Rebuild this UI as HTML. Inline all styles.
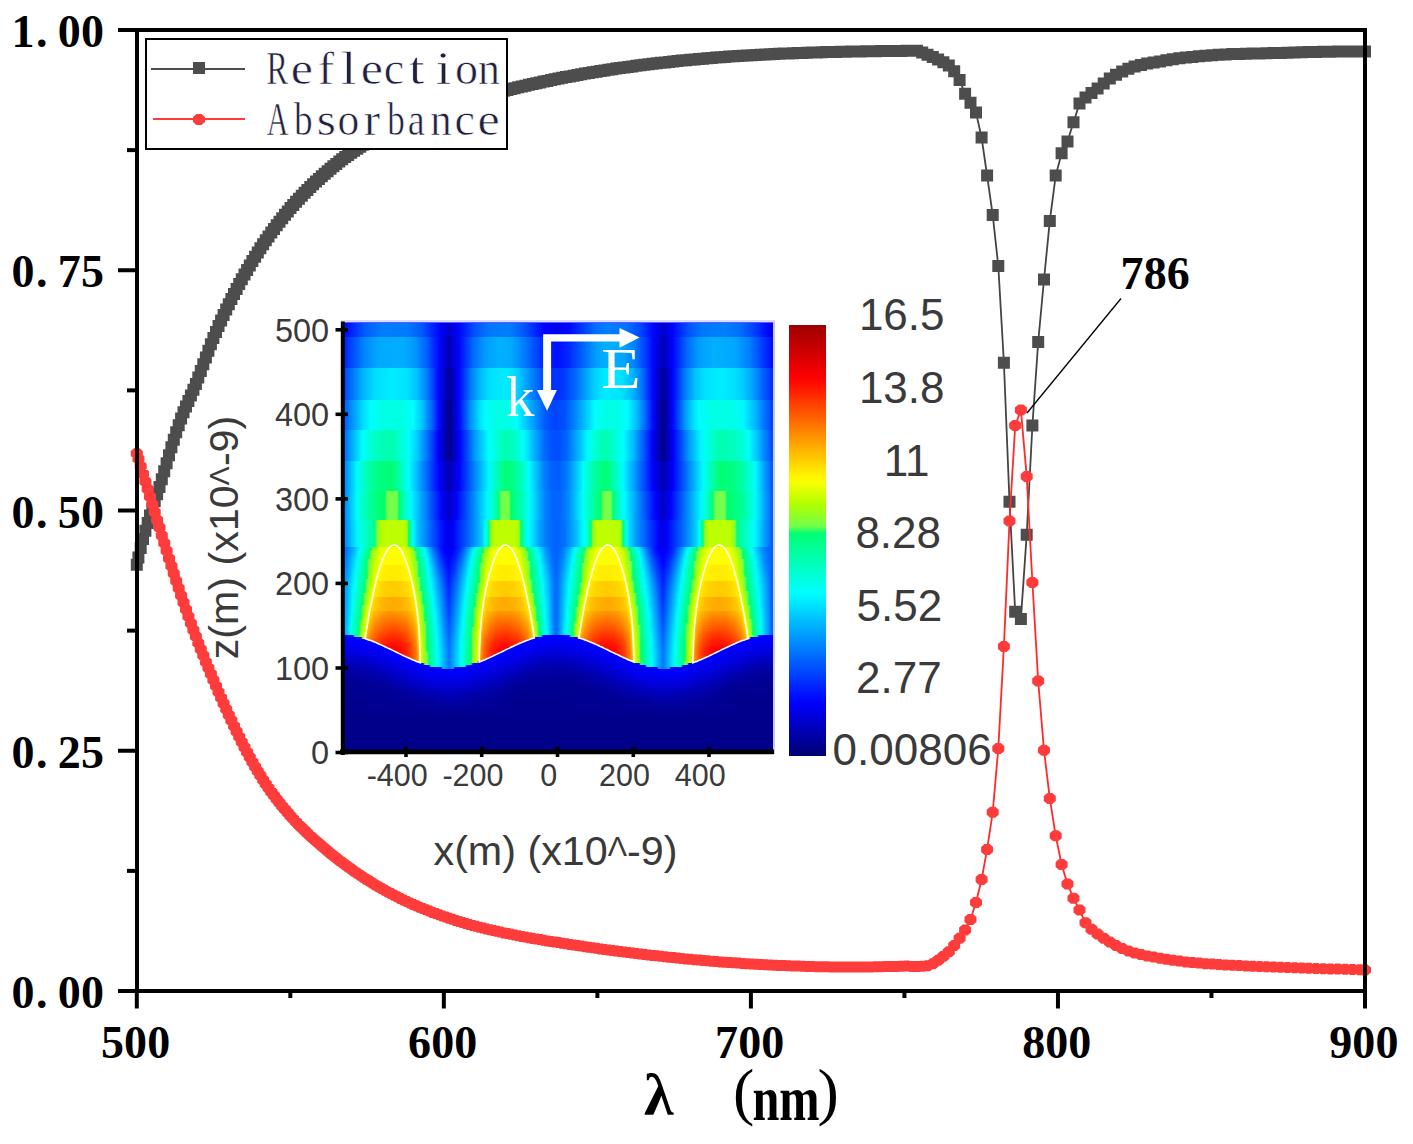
<!DOCTYPE html><html><head><meta charset="utf-8"><style>
*{margin:0;padding:0}
html,body{width:1413px;height:1144px;overflow:hidden;background:#fff}
svg{position:absolute;left:0;top:0}
.tk{font-family:"Liberation Serif",serif;font-weight:bold;font-size:46px;fill:#000}
.lg{font-family:"Liberation Serif",serif;font-size:46px;fill:#202040;stroke:#fff;stroke-width:0.6px}
.ttl{font-family:"Liberation Serif",serif;font-weight:bold;font-size:60px;fill:#000}
.par{font-family:"Liberation Serif",serif;font-size:64px;fill:#000}
.nm{font-family:"Liberation Serif",serif;font-weight:bold;font-size:64px;fill:#000}
.ke{font-family:"Liberation Serif",serif;font-size:57px;fill:#fff}
.il{font-family:"Liberation Sans",sans-serif;font-size:32.5px;fill:#3a3a3a}
.ix{font-family:"Liberation Sans",sans-serif;font-size:30.5px;fill:#3a3a3a}
.it{font-family:"Liberation Sans",sans-serif;font-size:40px;fill:#3a3a3a}
.cl{font-family:"Liberation Sans",sans-serif;font-size:44px;fill:#3a3a3a}
#hm{position:absolute;left:341px;top:322px;width:432px;height:432px;overflow:hidden}
#hm div{width:432px}
</style></head><body><svg width="1413" height="1144" viewBox="0 0 1413 1144"><path d="M136.8 564.8 L138.4 557.5 L140.7 547.9 L143.0 539.0 L145.4 530.8 L147.7 523.0 L150.0 515.6 L152.4 508.4 L154.7 501.3 L157.1 494.2 L159.5 486.9 L161.8 479.2 L164.2 471.3 L166.6 463.3 L169.0 455.3 L171.4 447.3 L173.8 439.7 L176.2 432.3 L178.7 425.2 L181.1 418.5 L183.5 412.3 L186.0 406.5 L188.4 400.9 L190.9 395.4 L193.4 389.7 L195.9 383.9 L198.3 377.6 L200.8 371.0 L203.3 364.3 L205.9 357.5 L208.4 350.8 L210.9 344.2 L213.4 337.9 L216.0 331.9 L218.5 326.0 L221.1 320.4 L223.6 314.9 L226.2 309.5 L228.8 304.2 L231.4 299.0 L234.0 293.9 L236.6 288.9 L239.2 284.0 L241.8 279.2 L244.5 274.5 L247.1 269.9 L249.8 265.4 L252.4 261.0 L255.1 256.7 L257.8 252.4 L260.4 248.3 L263.1 244.2 L265.8 240.3 L268.5 236.4 L271.3 232.6 L274.0 228.9 L276.7 225.2 L279.5 221.7 L282.2 218.2 L285.0 214.8 L287.8 211.4 L290.5 208.1 L293.3 204.9 L296.1 201.8 L298.9 198.7 L301.8 195.7 L304.6 192.8 L307.4 189.9 L310.3 187.1 L313.1 184.3 L316.0 181.6 L318.9 178.9 L321.8 176.3 L324.7 173.7 L327.6 171.2 L330.5 168.7 L333.4 166.3 L336.3 163.9 L339.3 161.6 L342.2 159.3 L345.2 157.1 L348.2 154.9 L351.2 152.8 L354.1 150.7 L357.2 148.7 L360.2 146.7 L363.2 144.8 L366.2 142.9 L369.3 141.0 L372.3 139.2 L375.4 137.4 L378.5 135.7 L381.6 134.0 L384.7 132.4 L387.8 130.7 L390.9 129.2 L394.0 127.6 L397.2 126.1 L400.3 124.7 L403.5 123.2 L406.7 121.8 L409.9 120.5 L413.1 119.1 L416.3 117.8 L419.5 116.5 L422.7 115.3 L426.0 114.1 L429.2 112.9 L432.5 111.7 L435.8 110.6 L439.1 109.4 L442.4 108.3 L445.7 107.3 L449.0 106.2 L452.4 105.1 L455.7 104.1 L459.1 103.1 L462.5 102.1 L465.8 101.1 L469.2 100.1 L472.7 99.2 L476.1 98.2 L479.5 97.2 L483.0 96.3 L486.4 95.4 L489.9 94.4 L493.4 93.5 L496.9 92.6 L500.4 91.7 L503.9 90.8 L507.5 89.9 L511.0 89.1 L514.6 88.2 L518.2 87.3 L521.8 86.5 L525.4 85.7 L529.0 84.8 L532.7 84.0 L536.3 83.2 L540.0 82.4 L543.6 81.6 L547.3 80.9 L551.0 80.1 L554.8 79.3 L558.5 78.6 L562.2 77.8 L566.0 77.1 L569.8 76.4 L573.6 75.7 L577.4 75.0 L581.2 74.3 L585.0 73.6 L588.9 73.0 L592.7 72.3 L596.6 71.7 L600.5 71.0 L604.4 70.4 L608.4 69.8 L612.3 69.2 L616.3 68.6 L620.2 68.0 L624.2 67.5 L628.2 66.9 L632.2 66.4 L636.3 65.8 L640.3 65.3 L644.4 64.8 L648.5 64.3 L652.6 63.8 L656.7 63.3 L660.8 62.8 L665.0 62.4 L669.1 61.9 L673.3 61.5 L677.5 61.0 L681.7 60.6 L686.0 60.2 L690.2 59.8 L694.5 59.4 L698.8 59.0 L703.1 58.7 L707.4 58.3 L711.8 57.9 L716.1 57.6 L720.5 57.3 L724.9 56.9 L729.3 56.6 L733.7 56.3 L738.2 56.0 L742.6 55.8 L747.1 55.5 L751.6 55.2 L756.2 55.0 L760.7 54.7 L765.3 54.5 L769.9 54.2 L774.5 54.0 L779.1 53.8 L783.7 53.6 L788.4 53.4 L793.1 53.2 L797.8 53.1 L802.5 52.9 L807.2 52.7 L812.0 52.6 L816.8 52.4 L821.6 52.3 L826.4 52.1 L831.2 52.0 L836.1 51.9 L841.0 51.8 L845.9 51.7 L850.8 51.6 L855.8 51.5 L860.8 51.4 L865.8 51.3 L870.8 51.2 L875.8 51.2 L880.9 51.1 L886.0 51.0 L891.1 51.0 L896.2 50.9 L901.4 50.9 L906.5 50.8 L911.7 50.8 L917.0 50.7 L922.2 52.5 L927.5 54.8 L932.8 57.1 L938.1 59.6 L943.4 62.2 L948.8 65.4 L954.2 71.3 L959.6 80.1 L965.1 93.8 L970.5 102.7 L976.0 112.5 L981.6 137.5 L987.1 175.6 L992.7 214.9 L998.3 266.0 L1003.9 362.8 L1009.5 501.8 L1015.2 611.7 L1020.9 618.9 L1026.7 534.7 L1032.4 425.5 L1038.2 342.0 L1044.0 279.5 L1049.8 220.9 L1055.7 175.6 L1061.6 153.3 L1067.5 141.5 L1073.5 122.3 L1079.5 103.4 L1085.5 97.6 L1091.5 93.0 L1097.6 88.5 L1103.7 83.4 L1109.8 78.4 L1116.0 74.7 L1122.2 71.5 L1128.4 68.8 L1134.6 66.5 L1140.9 64.9 L1147.2 63.6 L1153.6 62.4 L1160.0 61.4 L1166.4 60.3 L1172.8 59.2 L1179.3 58.3 L1185.8 57.6 L1192.3 56.9 L1198.9 56.3 L1205.5 55.7 L1212.2 55.2 L1218.8 54.8 L1225.5 54.4 L1232.3 54.1 L1239.1 53.9 L1245.9 53.7 L1252.7 53.5 L1259.6 53.4 L1266.5 53.2 L1273.5 53.1 L1280.5 52.9 L1287.5 52.7 L1294.6 52.5 L1301.7 52.3 L1308.8 52.1 L1316.0 51.9 L1323.2 51.8 L1330.4 51.7 L1337.7 51.6 L1345.1 51.6 L1352.4 51.6 L1359.9 51.5 L1365.0 51.5" fill="none" stroke="#444" stroke-width="1.8"/><path d="M130.8 558.8h12v12h-12zM132.4 551.5h12v12h-12zM134.7 541.9h12v12h-12zM137.0 533.0h12v12h-12zM139.4 524.8h12v12h-12zM141.7 517.0h12v12h-12zM144.0 509.6h12v12h-12zM146.4 502.4h12v12h-12zM148.7 495.3h12v12h-12zM151.1 488.2h12v12h-12zM153.5 480.9h12v12h-12zM155.8 473.2h12v12h-12zM158.2 465.3h12v12h-12zM160.6 457.3h12v12h-12zM163.0 449.3h12v12h-12zM165.4 441.3h12v12h-12zM167.8 433.7h12v12h-12zM170.2 426.3h12v12h-12zM172.7 419.2h12v12h-12zM175.1 412.5h12v12h-12zM177.5 406.3h12v12h-12zM180.0 400.5h12v12h-12zM182.4 394.9h12v12h-12zM184.9 389.4h12v12h-12zM187.4 383.7h12v12h-12zM189.9 377.9h12v12h-12zM192.3 371.6h12v12h-12zM194.8 365.0h12v12h-12zM197.3 358.3h12v12h-12zM199.9 351.5h12v12h-12zM202.4 344.8h12v12h-12zM204.9 338.2h12v12h-12zM207.4 331.9h12v12h-12zM210.0 325.9h12v12h-12zM212.5 320.0h12v12h-12zM215.1 314.4h12v12h-12zM217.6 308.9h12v12h-12zM220.2 303.5h12v12h-12zM222.8 298.2h12v12h-12zM225.4 293.0h12v12h-12zM228.0 287.9h12v12h-12zM230.6 282.9h12v12h-12zM233.2 278.0h12v12h-12zM235.8 273.2h12v12h-12zM238.5 268.5h12v12h-12zM241.1 263.9h12v12h-12zM243.8 259.4h12v12h-12zM246.4 255.0h12v12h-12zM249.1 250.7h12v12h-12zM251.8 246.4h12v12h-12zM254.4 242.3h12v12h-12zM257.1 238.2h12v12h-12zM259.8 234.3h12v12h-12zM262.5 230.4h12v12h-12zM265.3 226.6h12v12h-12zM268.0 222.9h12v12h-12zM270.7 219.2h12v12h-12zM273.5 215.7h12v12h-12zM276.2 212.2h12v12h-12zM279.0 208.8h12v12h-12zM281.8 205.4h12v12h-12zM284.5 202.1h12v12h-12zM287.3 198.9h12v12h-12zM290.1 195.8h12v12h-12zM292.9 192.7h12v12h-12zM295.8 189.7h12v12h-12zM298.6 186.8h12v12h-12zM301.4 183.9h12v12h-12zM304.3 181.1h12v12h-12zM307.1 178.3h12v12h-12zM310.0 175.6h12v12h-12zM312.9 172.9h12v12h-12zM315.8 170.3h12v12h-12zM318.7 167.7h12v12h-12zM321.6 165.2h12v12h-12zM324.5 162.7h12v12h-12zM327.4 160.3h12v12h-12zM330.3 157.9h12v12h-12zM333.3 155.6h12v12h-12zM336.2 153.3h12v12h-12zM339.2 151.1h12v12h-12zM342.2 148.9h12v12h-12zM345.2 146.8h12v12h-12zM348.1 144.7h12v12h-12zM351.2 142.7h12v12h-12zM354.2 140.7h12v12h-12zM357.2 138.8h12v12h-12zM360.2 136.9h12v12h-12zM363.3 135.0h12v12h-12zM366.3 133.2h12v12h-12zM369.4 131.4h12v12h-12zM372.5 129.7h12v12h-12zM375.6 128.0h12v12h-12zM378.7 126.4h12v12h-12zM381.8 124.7h12v12h-12zM384.9 123.2h12v12h-12zM388.0 121.6h12v12h-12zM391.2 120.1h12v12h-12zM394.3 118.7h12v12h-12zM397.5 117.2h12v12h-12zM400.7 115.8h12v12h-12zM403.9 114.5h12v12h-12zM407.1 113.1h12v12h-12zM410.3 111.8h12v12h-12zM413.5 110.5h12v12h-12zM416.7 109.3h12v12h-12zM420.0 108.1h12v12h-12zM423.2 106.9h12v12h-12zM426.5 105.7h12v12h-12zM429.8 104.6h12v12h-12zM433.1 103.4h12v12h-12zM436.4 102.3h12v12h-12zM439.7 101.3h12v12h-12zM443.0 100.2h12v12h-12zM446.4 99.1h12v12h-12zM449.7 98.1h12v12h-12zM453.1 97.1h12v12h-12zM456.5 96.1h12v12h-12zM459.8 95.1h12v12h-12zM463.2 94.1h12v12h-12zM466.7 93.2h12v12h-12zM470.1 92.2h12v12h-12zM473.5 91.2h12v12h-12zM477.0 90.3h12v12h-12zM480.4 89.4h12v12h-12zM483.9 88.4h12v12h-12zM487.4 87.5h12v12h-12zM490.9 86.6h12v12h-12zM494.4 85.7h12v12h-12zM497.9 84.8h12v12h-12zM501.5 83.9h12v12h-12zM505.0 83.1h12v12h-12zM508.6 82.2h12v12h-12zM512.2 81.3h12v12h-12zM515.8 80.5h12v12h-12zM519.4 79.7h12v12h-12zM523.0 78.8h12v12h-12zM526.7 78.0h12v12h-12zM530.3 77.2h12v12h-12zM534.0 76.4h12v12h-12zM537.6 75.6h12v12h-12zM541.3 74.9h12v12h-12zM545.0 74.1h12v12h-12zM548.8 73.3h12v12h-12zM552.5 72.6h12v12h-12zM556.2 71.8h12v12h-12zM560.0 71.1h12v12h-12zM563.8 70.4h12v12h-12zM567.6 69.7h12v12h-12zM571.4 69.0h12v12h-12zM575.2 68.3h12v12h-12zM579.0 67.6h12v12h-12zM582.9 67.0h12v12h-12zM586.7 66.3h12v12h-12zM590.6 65.7h12v12h-12zM594.5 65.0h12v12h-12zM598.4 64.4h12v12h-12zM602.4 63.8h12v12h-12zM606.3 63.2h12v12h-12zM610.3 62.6h12v12h-12zM614.2 62.0h12v12h-12zM618.2 61.5h12v12h-12zM622.2 60.9h12v12h-12zM626.2 60.4h12v12h-12zM630.3 59.8h12v12h-12zM634.3 59.3h12v12h-12zM638.4 58.8h12v12h-12zM642.5 58.3h12v12h-12zM646.6 57.8h12v12h-12zM650.7 57.3h12v12h-12zM654.8 56.8h12v12h-12zM659.0 56.4h12v12h-12zM663.1 55.9h12v12h-12zM667.3 55.5h12v12h-12zM671.5 55.0h12v12h-12zM675.7 54.6h12v12h-12zM680.0 54.2h12v12h-12zM684.2 53.8h12v12h-12zM688.5 53.4h12v12h-12zM692.8 53.0h12v12h-12zM697.1 52.7h12v12h-12zM701.4 52.3h12v12h-12zM705.8 51.9h12v12h-12zM710.1 51.6h12v12h-12zM714.5 51.3h12v12h-12zM718.9 50.9h12v12h-12zM723.3 50.6h12v12h-12zM727.7 50.3h12v12h-12zM732.2 50.0h12v12h-12zM736.6 49.8h12v12h-12zM741.1 49.5h12v12h-12zM745.6 49.2h12v12h-12zM750.2 49.0h12v12h-12zM754.7 48.7h12v12h-12zM759.3 48.5h12v12h-12zM763.9 48.2h12v12h-12zM768.5 48.0h12v12h-12zM773.1 47.8h12v12h-12zM777.7 47.6h12v12h-12zM782.4 47.4h12v12h-12zM787.1 47.2h12v12h-12zM791.8 47.1h12v12h-12zM796.5 46.9h12v12h-12zM801.2 46.7h12v12h-12zM806.0 46.6h12v12h-12zM810.8 46.4h12v12h-12zM815.6 46.3h12v12h-12zM820.4 46.1h12v12h-12zM825.2 46.0h12v12h-12zM830.1 45.9h12v12h-12zM835.0 45.8h12v12h-12zM839.9 45.7h12v12h-12zM844.8 45.6h12v12h-12zM849.8 45.5h12v12h-12zM854.8 45.4h12v12h-12zM859.8 45.3h12v12h-12zM864.8 45.2h12v12h-12zM869.8 45.2h12v12h-12zM874.9 45.1h12v12h-12zM880.0 45.0h12v12h-12zM885.1 45.0h12v12h-12zM890.2 44.9h12v12h-12zM895.4 44.9h12v12h-12zM900.5 44.8h12v12h-12zM905.7 44.8h12v12h-12zM911.0 44.7h12v12h-12zM916.2 46.5h12v12h-12zM921.5 48.8h12v12h-12zM926.8 51.1h12v12h-12zM932.1 53.6h12v12h-12zM937.4 56.2h12v12h-12zM942.8 59.4h12v12h-12zM948.2 65.3h12v12h-12zM953.6 74.1h12v12h-12zM959.1 87.8h12v12h-12zM964.5 96.7h12v12h-12zM970.0 106.5h12v12h-12zM975.6 131.5h12v12h-12zM981.1 169.6h12v12h-12zM986.7 208.9h12v12h-12zM992.3 260.0h12v12h-12zM997.9 356.8h12v12h-12zM1003.5 495.8h12v12h-12zM1009.2 605.7h12v12h-12zM1014.9 612.9h12v12h-12zM1020.7 528.7h12v12h-12zM1026.4 419.5h12v12h-12zM1032.2 336.0h12v12h-12zM1038.0 273.5h12v12h-12zM1043.8 214.9h12v12h-12zM1049.7 169.6h12v12h-12zM1055.6 147.3h12v12h-12zM1061.5 135.5h12v12h-12zM1067.5 116.3h12v12h-12zM1073.5 97.4h12v12h-12zM1079.5 91.6h12v12h-12zM1085.5 87.0h12v12h-12zM1091.6 82.5h12v12h-12zM1097.7 77.4h12v12h-12zM1103.8 72.4h12v12h-12zM1110.0 68.7h12v12h-12zM1116.2 65.5h12v12h-12zM1122.4 62.8h12v12h-12zM1128.6 60.5h12v12h-12zM1134.9 58.9h12v12h-12zM1141.2 57.6h12v12h-12zM1147.6 56.4h12v12h-12zM1154.0 55.4h12v12h-12zM1160.4 54.3h12v12h-12zM1166.8 53.2h12v12h-12zM1173.3 52.3h12v12h-12zM1179.8 51.6h12v12h-12zM1186.3 50.9h12v12h-12zM1192.9 50.3h12v12h-12zM1199.5 49.7h12v12h-12zM1206.2 49.2h12v12h-12zM1212.8 48.8h12v12h-12zM1219.5 48.4h12v12h-12zM1226.3 48.1h12v12h-12zM1233.1 47.9h12v12h-12zM1239.9 47.7h12v12h-12zM1246.7 47.5h12v12h-12zM1253.6 47.4h12v12h-12zM1260.5 47.2h12v12h-12zM1267.5 47.1h12v12h-12zM1274.5 46.9h12v12h-12zM1281.5 46.7h12v12h-12zM1288.6 46.5h12v12h-12zM1295.7 46.3h12v12h-12zM1302.8 46.1h12v12h-12zM1310.0 45.9h12v12h-12zM1317.2 45.8h12v12h-12zM1324.4 45.7h12v12h-12zM1331.7 45.6h12v12h-12zM1339.1 45.6h12v12h-12zM1346.4 45.6h12v12h-12zM1353.9 45.5h12v12h-12zM1359.0 45.5h12v12h-12z" fill="#4d4d4d"/><path d="M136.8 453.6 L138.4 458.8 L140.7 466.3 L143.0 473.8 L145.4 481.4 L147.7 489.0 L150.0 496.7 L152.4 504.4 L154.7 512.1 L157.1 519.9 L159.5 527.6 L161.8 535.4 L164.2 543.1 L166.6 550.8 L169.0 558.4 L171.4 566.0 L173.8 573.5 L176.2 580.9 L178.7 588.2 L181.1 595.5 L183.5 602.6 L186.0 609.5 L188.4 616.4 L190.9 623.2 L193.4 629.9 L195.9 636.5 L198.3 642.9 L200.8 649.3 L203.3 655.6 L205.9 661.9 L208.4 668.0 L210.9 674.1 L213.4 680.1 L216.0 686.0 L218.5 691.9 L221.1 697.7 L223.6 703.5 L226.2 709.2 L228.8 714.9 L231.4 720.5 L234.0 726.0 L236.6 731.4 L239.2 736.8 L241.8 742.1 L244.5 747.3 L247.1 752.3 L249.8 757.3 L252.4 762.1 L255.1 766.7 L257.8 771.2 L260.4 775.6 L263.1 779.9 L265.8 784.0 L268.5 788.0 L271.3 791.9 L274.0 795.6 L276.7 799.3 L279.5 802.8 L282.2 806.2 L285.0 809.5 L287.8 812.8 L290.5 815.9 L293.3 819.0 L296.1 822.0 L298.9 824.9 L301.8 827.7 L304.6 830.5 L307.4 833.2 L310.3 835.9 L313.1 838.5 L316.0 841.1 L318.9 843.6 L321.8 846.1 L324.7 848.6 L327.6 851.0 L330.5 853.4 L333.4 855.8 L336.3 858.1 L339.3 860.4 L342.2 862.6 L345.2 864.8 L348.2 867.0 L351.2 869.1 L354.1 871.2 L357.2 873.3 L360.2 875.3 L363.2 877.3 L366.2 879.2 L369.3 881.1 L372.3 883.0 L375.4 884.9 L378.5 886.7 L381.6 888.5 L384.7 890.2 L387.8 891.9 L390.9 893.6 L394.0 895.2 L397.2 896.8 L400.3 898.4 L403.5 899.9 L406.7 901.4 L409.9 902.9 L413.1 904.4 L416.3 905.8 L419.5 907.2 L422.7 908.5 L426.0 909.8 L429.2 911.1 L432.5 912.4 L435.8 913.6 L439.1 914.8 L442.4 916.0 L445.7 917.1 L449.0 918.3 L452.4 919.3 L455.7 920.4 L459.1 921.5 L462.5 922.5 L465.8 923.5 L469.2 924.4 L472.7 925.4 L476.1 926.3 L479.5 927.2 L483.0 928.1 L486.4 928.9 L489.9 929.7 L493.4 930.6 L496.9 931.3 L500.4 932.1 L503.9 932.9 L507.5 933.6 L511.0 934.3 L514.6 935.1 L518.2 935.7 L521.8 936.4 L525.4 937.1 L529.0 937.7 L532.7 938.4 L536.3 939.0 L540.0 939.6 L543.6 940.3 L547.3 940.9 L551.0 941.5 L554.8 942.1 L558.5 942.6 L562.2 943.2 L566.0 943.8 L569.8 944.4 L573.6 945.0 L577.4 945.5 L581.2 946.1 L585.0 946.7 L588.9 947.2 L592.7 947.8 L596.6 948.3 L600.5 948.9 L604.4 949.4 L608.4 949.9 L612.3 950.4 L616.3 951.0 L620.2 951.5 L624.2 952.0 L628.2 952.5 L632.2 953.0 L636.3 953.5 L640.3 954.0 L644.4 954.4 L648.5 954.9 L652.6 955.4 L656.7 955.8 L660.8 956.3 L665.0 956.7 L669.1 957.2 L673.3 957.6 L677.5 958.0 L681.7 958.5 L686.0 958.9 L690.2 959.3 L694.5 959.7 L698.8 960.1 L703.1 960.4 L707.4 960.8 L711.8 961.2 L716.1 961.5 L720.5 961.9 L724.9 962.2 L729.3 962.5 L733.7 962.8 L738.2 963.1 L742.6 963.4 L747.1 963.7 L751.6 964.0 L756.2 964.3 L760.7 964.5 L765.3 964.8 L769.9 965.0 L774.5 965.2 L779.1 965.4 L783.7 965.6 L788.4 965.8 L793.1 966.0 L797.8 966.1 L802.5 966.3 L807.2 966.4 L812.0 966.5 L816.8 966.7 L821.6 966.8 L826.4 966.8 L831.2 966.9 L836.1 967.0 L841.0 967.0 L845.9 967.0 L850.8 967.0 L855.8 967.0 L860.8 967.0 L865.8 967.0 L870.8 966.9 L875.8 966.8 L880.9 966.7 L886.0 966.6 L891.1 966.5 L896.2 966.4 L901.4 966.2 L906.5 966.0 L911.7 966.4 L917.0 966.4 L922.2 966.3 L927.5 965.8 L932.8 963.7 L938.1 960.3 L943.4 956.2 L948.8 951.7 L954.2 945.4 L959.6 938.3 L965.1 929.9 L970.5 919.5 L976.0 902.4 L981.6 879.5 L987.1 849.4 L992.7 812.3 L998.3 748.4 L1003.9 646.5 L1009.5 521.1 L1015.2 425.5 L1020.9 410.1 L1026.7 476.4 L1032.4 582.4 L1038.2 681.0 L1044.0 750.3 L1049.8 798.4 L1055.7 835.8 L1061.6 864.5 L1067.5 883.9 L1073.5 898.3 L1079.5 910.1 L1085.5 922.7 L1091.5 929.3 L1097.6 934.1 L1103.7 938.2 L1109.8 942.0 L1116.0 945.5 L1122.2 948.6 L1128.4 951.1 L1134.6 953.0 L1140.9 954.5 L1147.2 955.9 L1153.6 957.1 L1160.0 958.3 L1166.4 959.3 L1172.8 960.3 L1179.3 961.1 L1185.8 961.9 L1192.3 962.5 L1198.9 963.1 L1205.5 963.7 L1212.2 964.1 L1218.8 964.6 L1225.5 964.9 L1232.3 965.3 L1239.1 965.6 L1245.9 965.9 L1252.7 966.2 L1259.6 966.5 L1266.5 966.8 L1273.5 967.0 L1280.5 967.3 L1287.5 967.6 L1294.6 967.8 L1301.7 968.0 L1308.8 968.2 L1316.0 968.5 L1323.2 968.7 L1330.4 968.9 L1337.7 969.1 L1345.1 969.3 L1352.4 969.5 L1359.9 969.7 L1365.0 969.9" fill="none" stroke="#ff2b2b" stroke-width="1.8"/><path d="M134.3 448.1h5l3.5 3v5l-3.5 3h-5l-3.5-3v-5zM135.9 453.3h5l3.5 3v5l-3.5 3h-5l-3.5-3v-5zM138.2 460.8h5l3.5 3v5l-3.5 3h-5l-3.5-3v-5zM140.5 468.3h5l3.5 3v5l-3.5 3h-5l-3.5-3v-5zM142.9 475.9h5l3.5 3v5l-3.5 3h-5l-3.5-3v-5zM145.2 483.5h5l3.5 3v5l-3.5 3h-5l-3.5-3v-5zM147.5 491.2h5l3.5 3v5l-3.5 3h-5l-3.5-3v-5zM149.9 498.9h5l3.5 3v5l-3.5 3h-5l-3.5-3v-5zM152.2 506.6h5l3.5 3v5l-3.5 3h-5l-3.5-3v-5zM154.6 514.4h5l3.5 3v5l-3.5 3h-5l-3.5-3v-5zM157.0 522.1h5l3.5 3v5l-3.5 3h-5l-3.5-3v-5zM159.3 529.9h5l3.5 3v5l-3.5 3h-5l-3.5-3v-5zM161.7 537.6h5l3.5 3v5l-3.5 3h-5l-3.5-3v-5zM164.1 545.3h5l3.5 3v5l-3.5 3h-5l-3.5-3v-5zM166.5 552.9h5l3.5 3v5l-3.5 3h-5l-3.5-3v-5zM168.9 560.5h5l3.5 3v5l-3.5 3h-5l-3.5-3v-5zM171.3 568.0h5l3.5 3v5l-3.5 3h-5l-3.5-3v-5zM173.7 575.4h5l3.5 3v5l-3.5 3h-5l-3.5-3v-5zM176.2 582.7h5l3.5 3v5l-3.5 3h-5l-3.5-3v-5zM178.6 590.0h5l3.5 3v5l-3.5 3h-5l-3.5-3v-5zM181.0 597.1h5l3.5 3v5l-3.5 3h-5l-3.5-3v-5zM183.5 604.0h5l3.5 3v5l-3.5 3h-5l-3.5-3v-5zM185.9 610.9h5l3.5 3v5l-3.5 3h-5l-3.5-3v-5zM188.4 617.7h5l3.5 3v5l-3.5 3h-5l-3.5-3v-5zM190.9 624.4h5l3.5 3v5l-3.5 3h-5l-3.5-3v-5zM193.4 631.0h5l3.5 3v5l-3.5 3h-5l-3.5-3v-5zM195.8 637.4h5l3.5 3v5l-3.5 3h-5l-3.5-3v-5zM198.3 643.8h5l3.5 3v5l-3.5 3h-5l-3.5-3v-5zM200.8 650.1h5l3.5 3v5l-3.5 3h-5l-3.5-3v-5zM203.4 656.4h5l3.5 3v5l-3.5 3h-5l-3.5-3v-5zM205.9 662.5h5l3.5 3v5l-3.5 3h-5l-3.5-3v-5zM208.4 668.6h5l3.5 3v5l-3.5 3h-5l-3.5-3v-5zM210.9 674.6h5l3.5 3v5l-3.5 3h-5l-3.5-3v-5zM213.5 680.5h5l3.5 3v5l-3.5 3h-5l-3.5-3v-5zM216.0 686.4h5l3.5 3v5l-3.5 3h-5l-3.5-3v-5zM218.6 692.2h5l3.5 3v5l-3.5 3h-5l-3.5-3v-5zM221.1 698.0h5l3.5 3v5l-3.5 3h-5l-3.5-3v-5zM223.7 703.7h5l3.5 3v5l-3.5 3h-5l-3.5-3v-5zM226.3 709.4h5l3.5 3v5l-3.5 3h-5l-3.5-3v-5zM228.9 715.0h5l3.5 3v5l-3.5 3h-5l-3.5-3v-5zM231.5 720.5h5l3.5 3v5l-3.5 3h-5l-3.5-3v-5zM234.1 725.9h5l3.5 3v5l-3.5 3h-5l-3.5-3v-5zM236.7 731.3h5l3.5 3v5l-3.5 3h-5l-3.5-3v-5zM239.3 736.6h5l3.5 3v5l-3.5 3h-5l-3.5-3v-5zM242.0 741.8h5l3.5 3v5l-3.5 3h-5l-3.5-3v-5zM244.6 746.8h5l3.5 3v5l-3.5 3h-5l-3.5-3v-5zM247.3 751.8h5l3.5 3v5l-3.5 3h-5l-3.5-3v-5zM249.9 756.6h5l3.5 3v5l-3.5 3h-5l-3.5-3v-5zM252.6 761.2h5l3.5 3v5l-3.5 3h-5l-3.5-3v-5zM255.3 765.7h5l3.5 3v5l-3.5 3h-5l-3.5-3v-5zM257.9 770.1h5l3.5 3v5l-3.5 3h-5l-3.5-3v-5zM260.6 774.4h5l3.5 3v5l-3.5 3h-5l-3.5-3v-5zM263.3 778.5h5l3.5 3v5l-3.5 3h-5l-3.5-3v-5zM266.0 782.5h5l3.5 3v5l-3.5 3h-5l-3.5-3v-5zM268.8 786.4h5l3.5 3v5l-3.5 3h-5l-3.5-3v-5zM271.5 790.1h5l3.5 3v5l-3.5 3h-5l-3.5-3v-5zM274.2 793.8h5l3.5 3v5l-3.5 3h-5l-3.5-3v-5zM277.0 797.3h5l3.5 3v5l-3.5 3h-5l-3.5-3v-5zM279.7 800.7h5l3.5 3v5l-3.5 3h-5l-3.5-3v-5zM282.5 804.0h5l3.5 3v5l-3.5 3h-5l-3.5-3v-5zM285.3 807.3h5l3.5 3v5l-3.5 3h-5l-3.5-3v-5zM288.0 810.4h5l3.5 3v5l-3.5 3h-5l-3.5-3v-5zM290.8 813.5h5l3.5 3v5l-3.5 3h-5l-3.5-3v-5zM293.6 816.5h5l3.5 3v5l-3.5 3h-5l-3.5-3v-5zM296.4 819.4h5l3.5 3v5l-3.5 3h-5l-3.5-3v-5zM299.3 822.2h5l3.5 3v5l-3.5 3h-5l-3.5-3v-5zM302.1 825.0h5l3.5 3v5l-3.5 3h-5l-3.5-3v-5zM304.9 827.7h5l3.5 3v5l-3.5 3h-5l-3.5-3v-5zM307.8 830.4h5l3.5 3v5l-3.5 3h-5l-3.5-3v-5zM310.6 833.0h5l3.5 3v5l-3.5 3h-5l-3.5-3v-5zM313.5 835.6h5l3.5 3v5l-3.5 3h-5l-3.5-3v-5zM316.4 838.1h5l3.5 3v5l-3.5 3h-5l-3.5-3v-5zM319.3 840.6h5l3.5 3v5l-3.5 3h-5l-3.5-3v-5zM322.2 843.1h5l3.5 3v5l-3.5 3h-5l-3.5-3v-5zM325.1 845.5h5l3.5 3v5l-3.5 3h-5l-3.5-3v-5zM328.0 847.9h5l3.5 3v5l-3.5 3h-5l-3.5-3v-5zM330.9 850.3h5l3.5 3v5l-3.5 3h-5l-3.5-3v-5zM333.8 852.6h5l3.5 3v5l-3.5 3h-5l-3.5-3v-5zM336.8 854.9h5l3.5 3v5l-3.5 3h-5l-3.5-3v-5zM339.7 857.1h5l3.5 3v5l-3.5 3h-5l-3.5-3v-5zM342.7 859.3h5l3.5 3v5l-3.5 3h-5l-3.5-3v-5zM345.7 861.5h5l3.5 3v5l-3.5 3h-5l-3.5-3v-5zM348.7 863.6h5l3.5 3v5l-3.5 3h-5l-3.5-3v-5zM351.6 865.7h5l3.5 3v5l-3.5 3h-5l-3.5-3v-5zM354.7 867.8h5l3.5 3v5l-3.5 3h-5l-3.5-3v-5zM357.7 869.8h5l3.5 3v5l-3.5 3h-5l-3.5-3v-5zM360.7 871.8h5l3.5 3v5l-3.5 3h-5l-3.5-3v-5zM363.7 873.7h5l3.5 3v5l-3.5 3h-5l-3.5-3v-5zM366.8 875.6h5l3.5 3v5l-3.5 3h-5l-3.5-3v-5zM369.8 877.5h5l3.5 3v5l-3.5 3h-5l-3.5-3v-5zM372.9 879.4h5l3.5 3v5l-3.5 3h-5l-3.5-3v-5zM376.0 881.2h5l3.5 3v5l-3.5 3h-5l-3.5-3v-5zM379.1 883.0h5l3.5 3v5l-3.5 3h-5l-3.5-3v-5zM382.2 884.7h5l3.5 3v5l-3.5 3h-5l-3.5-3v-5zM385.3 886.4h5l3.5 3v5l-3.5 3h-5l-3.5-3v-5zM388.4 888.1h5l3.5 3v5l-3.5 3h-5l-3.5-3v-5zM391.5 889.7h5l3.5 3v5l-3.5 3h-5l-3.5-3v-5zM394.7 891.3h5l3.5 3v5l-3.5 3h-5l-3.5-3v-5zM397.8 892.9h5l3.5 3v5l-3.5 3h-5l-3.5-3v-5zM401.0 894.4h5l3.5 3v5l-3.5 3h-5l-3.5-3v-5zM404.2 895.9h5l3.5 3v5l-3.5 3h-5l-3.5-3v-5zM407.4 897.4h5l3.5 3v5l-3.5 3h-5l-3.5-3v-5zM410.6 898.9h5l3.5 3v5l-3.5 3h-5l-3.5-3v-5zM413.8 900.3h5l3.5 3v5l-3.5 3h-5l-3.5-3v-5zM417.0 901.7h5l3.5 3v5l-3.5 3h-5l-3.5-3v-5zM420.2 903.0h5l3.5 3v5l-3.5 3h-5l-3.5-3v-5zM423.5 904.3h5l3.5 3v5l-3.5 3h-5l-3.5-3v-5zM426.7 905.6h5l3.5 3v5l-3.5 3h-5l-3.5-3v-5zM430.0 906.9h5l3.5 3v5l-3.5 3h-5l-3.5-3v-5zM433.3 908.1h5l3.5 3v5l-3.5 3h-5l-3.5-3v-5zM436.6 909.3h5l3.5 3v5l-3.5 3h-5l-3.5-3v-5zM439.9 910.5h5l3.5 3v5l-3.5 3h-5l-3.5-3v-5zM443.2 911.6h5l3.5 3v5l-3.5 3h-5l-3.5-3v-5zM446.5 912.8h5l3.5 3v5l-3.5 3h-5l-3.5-3v-5zM449.9 913.8h5l3.5 3v5l-3.5 3h-5l-3.5-3v-5zM453.2 914.9h5l3.5 3v5l-3.5 3h-5l-3.5-3v-5zM456.6 916.0h5l3.5 3v5l-3.5 3h-5l-3.5-3v-5zM460.0 917.0h5l3.5 3v5l-3.5 3h-5l-3.5-3v-5zM463.3 918.0h5l3.5 3v5l-3.5 3h-5l-3.5-3v-5zM466.7 918.9h5l3.5 3v5l-3.5 3h-5l-3.5-3v-5zM470.2 919.9h5l3.5 3v5l-3.5 3h-5l-3.5-3v-5zM473.6 920.8h5l3.5 3v5l-3.5 3h-5l-3.5-3v-5zM477.0 921.7h5l3.5 3v5l-3.5 3h-5l-3.5-3v-5zM480.5 922.6h5l3.5 3v5l-3.5 3h-5l-3.5-3v-5zM483.9 923.4h5l3.5 3v5l-3.5 3h-5l-3.5-3v-5zM487.4 924.2h5l3.5 3v5l-3.5 3h-5l-3.5-3v-5zM490.9 925.1h5l3.5 3v5l-3.5 3h-5l-3.5-3v-5zM494.4 925.8h5l3.5 3v5l-3.5 3h-5l-3.5-3v-5zM497.9 926.6h5l3.5 3v5l-3.5 3h-5l-3.5-3v-5zM501.4 927.4h5l3.5 3v5l-3.5 3h-5l-3.5-3v-5zM505.0 928.1h5l3.5 3v5l-3.5 3h-5l-3.5-3v-5zM508.5 928.8h5l3.5 3v5l-3.5 3h-5l-3.5-3v-5zM512.1 929.6h5l3.5 3v5l-3.5 3h-5l-3.5-3v-5zM515.7 930.2h5l3.5 3v5l-3.5 3h-5l-3.5-3v-5zM519.3 930.9h5l3.5 3v5l-3.5 3h-5l-3.5-3v-5zM522.9 931.6h5l3.5 3v5l-3.5 3h-5l-3.5-3v-5zM526.5 932.2h5l3.5 3v5l-3.5 3h-5l-3.5-3v-5zM530.2 932.9h5l3.5 3v5l-3.5 3h-5l-3.5-3v-5zM533.8 933.5h5l3.5 3v5l-3.5 3h-5l-3.5-3v-5zM537.5 934.1h5l3.5 3v5l-3.5 3h-5l-3.5-3v-5zM541.1 934.8h5l3.5 3v5l-3.5 3h-5l-3.5-3v-5zM544.8 935.4h5l3.5 3v5l-3.5 3h-5l-3.5-3v-5zM548.5 936.0h5l3.5 3v5l-3.5 3h-5l-3.5-3v-5zM552.3 936.6h5l3.5 3v5l-3.5 3h-5l-3.5-3v-5zM556.0 937.1h5l3.5 3v5l-3.5 3h-5l-3.5-3v-5zM559.7 937.7h5l3.5 3v5l-3.5 3h-5l-3.5-3v-5zM563.5 938.3h5l3.5 3v5l-3.5 3h-5l-3.5-3v-5zM567.3 938.9h5l3.5 3v5l-3.5 3h-5l-3.5-3v-5zM571.1 939.5h5l3.5 3v5l-3.5 3h-5l-3.5-3v-5zM574.9 940.0h5l3.5 3v5l-3.5 3h-5l-3.5-3v-5zM578.7 940.6h5l3.5 3v5l-3.5 3h-5l-3.5-3v-5zM582.5 941.2h5l3.5 3v5l-3.5 3h-5l-3.5-3v-5zM586.4 941.7h5l3.5 3v5l-3.5 3h-5l-3.5-3v-5zM590.2 942.3h5l3.5 3v5l-3.5 3h-5l-3.5-3v-5zM594.1 942.8h5l3.5 3v5l-3.5 3h-5l-3.5-3v-5zM598.0 943.4h5l3.5 3v5l-3.5 3h-5l-3.5-3v-5zM601.9 943.9h5l3.5 3v5l-3.5 3h-5l-3.5-3v-5zM605.9 944.4h5l3.5 3v5l-3.5 3h-5l-3.5-3v-5zM609.8 944.9h5l3.5 3v5l-3.5 3h-5l-3.5-3v-5zM613.8 945.5h5l3.5 3v5l-3.5 3h-5l-3.5-3v-5zM617.7 946.0h5l3.5 3v5l-3.5 3h-5l-3.5-3v-5zM621.7 946.5h5l3.5 3v5l-3.5 3h-5l-3.5-3v-5zM625.7 947.0h5l3.5 3v5l-3.5 3h-5l-3.5-3v-5zM629.7 947.5h5l3.5 3v5l-3.5 3h-5l-3.5-3v-5zM633.8 948.0h5l3.5 3v5l-3.5 3h-5l-3.5-3v-5zM637.8 948.5h5l3.5 3v5l-3.5 3h-5l-3.5-3v-5zM641.9 948.9h5l3.5 3v5l-3.5 3h-5l-3.5-3v-5zM646.0 949.4h5l3.5 3v5l-3.5 3h-5l-3.5-3v-5zM650.1 949.9h5l3.5 3v5l-3.5 3h-5l-3.5-3v-5zM654.2 950.3h5l3.5 3v5l-3.5 3h-5l-3.5-3v-5zM658.3 950.8h5l3.5 3v5l-3.5 3h-5l-3.5-3v-5zM662.5 951.2h5l3.5 3v5l-3.5 3h-5l-3.5-3v-5zM666.6 951.7h5l3.5 3v5l-3.5 3h-5l-3.5-3v-5zM670.8 952.1h5l3.5 3v5l-3.5 3h-5l-3.5-3v-5zM675.0 952.5h5l3.5 3v5l-3.5 3h-5l-3.5-3v-5zM679.2 953.0h5l3.5 3v5l-3.5 3h-5l-3.5-3v-5zM683.5 953.4h5l3.5 3v5l-3.5 3h-5l-3.5-3v-5zM687.7 953.8h5l3.5 3v5l-3.5 3h-5l-3.5-3v-5zM692.0 954.2h5l3.5 3v5l-3.5 3h-5l-3.5-3v-5zM696.3 954.6h5l3.5 3v5l-3.5 3h-5l-3.5-3v-5zM700.6 954.9h5l3.5 3v5l-3.5 3h-5l-3.5-3v-5zM704.9 955.3h5l3.5 3v5l-3.5 3h-5l-3.5-3v-5zM709.3 955.7h5l3.5 3v5l-3.5 3h-5l-3.5-3v-5zM713.6 956.0h5l3.5 3v5l-3.5 3h-5l-3.5-3v-5zM718.0 956.4h5l3.5 3v5l-3.5 3h-5l-3.5-3v-5zM722.4 956.7h5l3.5 3v5l-3.5 3h-5l-3.5-3v-5zM726.8 957.0h5l3.5 3v5l-3.5 3h-5l-3.5-3v-5zM731.2 957.3h5l3.5 3v5l-3.5 3h-5l-3.5-3v-5zM735.7 957.6h5l3.5 3v5l-3.5 3h-5l-3.5-3v-5zM740.1 957.9h5l3.5 3v5l-3.5 3h-5l-3.5-3v-5zM744.6 958.2h5l3.5 3v5l-3.5 3h-5l-3.5-3v-5zM749.1 958.5h5l3.5 3v5l-3.5 3h-5l-3.5-3v-5zM753.7 958.8h5l3.5 3v5l-3.5 3h-5l-3.5-3v-5zM758.2 959.0h5l3.5 3v5l-3.5 3h-5l-3.5-3v-5zM762.8 959.3h5l3.5 3v5l-3.5 3h-5l-3.5-3v-5zM767.4 959.5h5l3.5 3v5l-3.5 3h-5l-3.5-3v-5zM772.0 959.7h5l3.5 3v5l-3.5 3h-5l-3.5-3v-5zM776.6 959.9h5l3.5 3v5l-3.5 3h-5l-3.5-3v-5zM781.2 960.1h5l3.5 3v5l-3.5 3h-5l-3.5-3v-5zM785.9 960.3h5l3.5 3v5l-3.5 3h-5l-3.5-3v-5zM790.6 960.5h5l3.5 3v5l-3.5 3h-5l-3.5-3v-5zM795.3 960.6h5l3.5 3v5l-3.5 3h-5l-3.5-3v-5zM800.0 960.8h5l3.5 3v5l-3.5 3h-5l-3.5-3v-5zM804.7 960.9h5l3.5 3v5l-3.5 3h-5l-3.5-3v-5zM809.5 961.0h5l3.5 3v5l-3.5 3h-5l-3.5-3v-5zM814.3 961.2h5l3.5 3v5l-3.5 3h-5l-3.5-3v-5zM819.1 961.3h5l3.5 3v5l-3.5 3h-5l-3.5-3v-5zM823.9 961.3h5l3.5 3v5l-3.5 3h-5l-3.5-3v-5zM828.7 961.4h5l3.5 3v5l-3.5 3h-5l-3.5-3v-5zM833.6 961.5h5l3.5 3v5l-3.5 3h-5l-3.5-3v-5zM838.5 961.5h5l3.5 3v5l-3.5 3h-5l-3.5-3v-5zM843.4 961.5h5l3.5 3v5l-3.5 3h-5l-3.5-3v-5zM848.3 961.5h5l3.5 3v5l-3.5 3h-5l-3.5-3v-5zM853.3 961.5h5l3.5 3v5l-3.5 3h-5l-3.5-3v-5zM858.3 961.5h5l3.5 3v5l-3.5 3h-5l-3.5-3v-5zM863.3 961.5h5l3.5 3v5l-3.5 3h-5l-3.5-3v-5zM868.3 961.4h5l3.5 3v5l-3.5 3h-5l-3.5-3v-5zM873.3 961.3h5l3.5 3v5l-3.5 3h-5l-3.5-3v-5zM878.4 961.2h5l3.5 3v5l-3.5 3h-5l-3.5-3v-5zM883.5 961.1h5l3.5 3v5l-3.5 3h-5l-3.5-3v-5zM888.6 961.0h5l3.5 3v5l-3.5 3h-5l-3.5-3v-5zM893.7 960.9h5l3.5 3v5l-3.5 3h-5l-3.5-3v-5zM898.9 960.7h5l3.5 3v5l-3.5 3h-5l-3.5-3v-5zM904.0 960.5h5l3.5 3v5l-3.5 3h-5l-3.5-3v-5zM909.2 960.9h5l3.5 3v5l-3.5 3h-5l-3.5-3v-5zM914.5 960.9h5l3.5 3v5l-3.5 3h-5l-3.5-3v-5zM919.7 960.8h5l3.5 3v5l-3.5 3h-5l-3.5-3v-5zM925.0 960.3h5l3.5 3v5l-3.5 3h-5l-3.5-3v-5zM930.3 958.2h5l3.5 3v5l-3.5 3h-5l-3.5-3v-5zM935.6 954.8h5l3.5 3v5l-3.5 3h-5l-3.5-3v-5zM940.9 950.7h5l3.5 3v5l-3.5 3h-5l-3.5-3v-5zM946.3 946.2h5l3.5 3v5l-3.5 3h-5l-3.5-3v-5zM951.7 939.9h5l3.5 3v5l-3.5 3h-5l-3.5-3v-5zM957.1 932.8h5l3.5 3v5l-3.5 3h-5l-3.5-3v-5zM962.6 924.4h5l3.5 3v5l-3.5 3h-5l-3.5-3v-5zM968.0 914.0h5l3.5 3v5l-3.5 3h-5l-3.5-3v-5zM973.5 896.9h5l3.5 3v5l-3.5 3h-5l-3.5-3v-5zM979.1 874.0h5l3.5 3v5l-3.5 3h-5l-3.5-3v-5zM984.6 843.9h5l3.5 3v5l-3.5 3h-5l-3.5-3v-5zM990.2 806.8h5l3.5 3v5l-3.5 3h-5l-3.5-3v-5zM995.8 742.9h5l3.5 3v5l-3.5 3h-5l-3.5-3v-5zM1001.4 641.0h5l3.5 3v5l-3.5 3h-5l-3.5-3v-5zM1007.0 515.6h5l3.5 3v5l-3.5 3h-5l-3.5-3v-5zM1012.7 420.0h5l3.5 3v5l-3.5 3h-5l-3.5-3v-5zM1018.4 404.6h5l3.5 3v5l-3.5 3h-5l-3.5-3v-5zM1024.2 470.9h5l3.5 3v5l-3.5 3h-5l-3.5-3v-5zM1029.9 576.9h5l3.5 3v5l-3.5 3h-5l-3.5-3v-5zM1035.7 675.5h5l3.5 3v5l-3.5 3h-5l-3.5-3v-5zM1041.5 744.8h5l3.5 3v5l-3.5 3h-5l-3.5-3v-5zM1047.3 792.9h5l3.5 3v5l-3.5 3h-5l-3.5-3v-5zM1053.2 830.3h5l3.5 3v5l-3.5 3h-5l-3.5-3v-5zM1059.1 859.0h5l3.5 3v5l-3.5 3h-5l-3.5-3v-5zM1065.0 878.4h5l3.5 3v5l-3.5 3h-5l-3.5-3v-5zM1071.0 892.8h5l3.5 3v5l-3.5 3h-5l-3.5-3v-5zM1077.0 904.6h5l3.5 3v5l-3.5 3h-5l-3.5-3v-5zM1083.0 917.2h5l3.5 3v5l-3.5 3h-5l-3.5-3v-5zM1089.0 923.8h5l3.5 3v5l-3.5 3h-5l-3.5-3v-5zM1095.1 928.6h5l3.5 3v5l-3.5 3h-5l-3.5-3v-5zM1101.2 932.7h5l3.5 3v5l-3.5 3h-5l-3.5-3v-5zM1107.3 936.5h5l3.5 3v5l-3.5 3h-5l-3.5-3v-5zM1113.5 940.0h5l3.5 3v5l-3.5 3h-5l-3.5-3v-5zM1119.7 943.1h5l3.5 3v5l-3.5 3h-5l-3.5-3v-5zM1125.9 945.6h5l3.5 3v5l-3.5 3h-5l-3.5-3v-5zM1132.1 947.5h5l3.5 3v5l-3.5 3h-5l-3.5-3v-5zM1138.4 949.0h5l3.5 3v5l-3.5 3h-5l-3.5-3v-5zM1144.7 950.4h5l3.5 3v5l-3.5 3h-5l-3.5-3v-5zM1151.1 951.6h5l3.5 3v5l-3.5 3h-5l-3.5-3v-5zM1157.5 952.8h5l3.5 3v5l-3.5 3h-5l-3.5-3v-5zM1163.9 953.8h5l3.5 3v5l-3.5 3h-5l-3.5-3v-5zM1170.3 954.8h5l3.5 3v5l-3.5 3h-5l-3.5-3v-5zM1176.8 955.6h5l3.5 3v5l-3.5 3h-5l-3.5-3v-5zM1183.3 956.4h5l3.5 3v5l-3.5 3h-5l-3.5-3v-5zM1189.8 957.0h5l3.5 3v5l-3.5 3h-5l-3.5-3v-5zM1196.4 957.6h5l3.5 3v5l-3.5 3h-5l-3.5-3v-5zM1203.0 958.2h5l3.5 3v5l-3.5 3h-5l-3.5-3v-5zM1209.7 958.6h5l3.5 3v5l-3.5 3h-5l-3.5-3v-5zM1216.3 959.1h5l3.5 3v5l-3.5 3h-5l-3.5-3v-5zM1223.0 959.4h5l3.5 3v5l-3.5 3h-5l-3.5-3v-5zM1229.8 959.8h5l3.5 3v5l-3.5 3h-5l-3.5-3v-5zM1236.6 960.1h5l3.5 3v5l-3.5 3h-5l-3.5-3v-5zM1243.4 960.4h5l3.5 3v5l-3.5 3h-5l-3.5-3v-5zM1250.2 960.7h5l3.5 3v5l-3.5 3h-5l-3.5-3v-5zM1257.1 961.0h5l3.5 3v5l-3.5 3h-5l-3.5-3v-5zM1264.0 961.3h5l3.5 3v5l-3.5 3h-5l-3.5-3v-5zM1271.0 961.5h5l3.5 3v5l-3.5 3h-5l-3.5-3v-5zM1278.0 961.8h5l3.5 3v5l-3.5 3h-5l-3.5-3v-5zM1285.0 962.1h5l3.5 3v5l-3.5 3h-5l-3.5-3v-5zM1292.1 962.3h5l3.5 3v5l-3.5 3h-5l-3.5-3v-5zM1299.2 962.5h5l3.5 3v5l-3.5 3h-5l-3.5-3v-5zM1306.3 962.7h5l3.5 3v5l-3.5 3h-5l-3.5-3v-5zM1313.5 963.0h5l3.5 3v5l-3.5 3h-5l-3.5-3v-5zM1320.7 963.2h5l3.5 3v5l-3.5 3h-5l-3.5-3v-5zM1327.9 963.4h5l3.5 3v5l-3.5 3h-5l-3.5-3v-5zM1335.2 963.6h5l3.5 3v5l-3.5 3h-5l-3.5-3v-5zM1342.6 963.8h5l3.5 3v5l-3.5 3h-5l-3.5-3v-5zM1349.9 964.0h5l3.5 3v5l-3.5 3h-5l-3.5-3v-5zM1357.4 964.2h5l3.5 3v5l-3.5 3h-5l-3.5-3v-5zM1362.5 964.4h5l3.5 3v5l-3.5 3h-5l-3.5-3v-5z" fill="#ff3c3c"/><line x1="1121" y1="298.5" x2="1027" y2="413" stroke="#000" stroke-width="1.3"/><rect x="137" y="30" width="1228" height="961" fill="none" stroke="#000" stroke-width="4"/><line x1="118" y1="30.00" x2="137" y2="30.00" stroke="#000" stroke-width="4"/><line x1="118" y1="270.25" x2="137" y2="270.25" stroke="#000" stroke-width="4"/><line x1="118" y1="510.50" x2="137" y2="510.50" stroke="#000" stroke-width="4"/><line x1="118" y1="750.75" x2="137" y2="750.75" stroke="#000" stroke-width="4"/><line x1="118" y1="991.00" x2="137" y2="991.00" stroke="#000" stroke-width="4"/><line x1="127" y1="150.12" x2="137" y2="150.12" stroke="#000" stroke-width="4"/><line x1="127" y1="390.38" x2="137" y2="390.38" stroke="#000" stroke-width="4"/><line x1="127" y1="630.62" x2="137" y2="630.62" stroke="#000" stroke-width="4"/><line x1="127" y1="870.88" x2="137" y2="870.88" stroke="#000" stroke-width="4"/><line x1="136.80" y1="991" x2="136.80" y2="1008.5" stroke="#000" stroke-width="4"/><line x1="443.85" y1="991" x2="443.85" y2="1008.5" stroke="#000" stroke-width="4"/><line x1="750.90" y1="991" x2="750.90" y2="1008.5" stroke="#000" stroke-width="4"/><line x1="1057.95" y1="991" x2="1057.95" y2="1008.5" stroke="#000" stroke-width="4"/><line x1="1365.00" y1="991" x2="1365.00" y2="1008.5" stroke="#000" stroke-width="4"/><line x1="290.33" y1="991" x2="290.33" y2="998" stroke="#000" stroke-width="4"/><line x1="597.38" y1="991" x2="597.38" y2="998" stroke="#000" stroke-width="4"/><line x1="904.42" y1="991" x2="904.42" y2="998" stroke="#000" stroke-width="4"/><line x1="1211.47" y1="991" x2="1211.47" y2="998" stroke="#000" stroke-width="4"/><rect x="146" y="39" width="361" height="110" fill="#fff" stroke="#000" stroke-width="2"/><line x1="151" y1="69" x2="245" y2="69" stroke="#4d4d4d" stroke-width="2"/><rect x="193" y="62" width="12" height="12" fill="#4d4d4d"/><line x1="153" y1="119" x2="245" y2="119" stroke="#ff3b3b" stroke-width="2"/><path d="M196.5 114.1h5l3.5 3v5l-3.5 3h-5l-3.5-3v-5z" fill="#ff3c3c"/><text class="lg" x="0" y="83.7" transform="translate(266.50 0) scale(0.700 1)">R</text><text class="lg" x="0" y="83.7" transform="translate(290.67 0) scale(1.088 1)">e</text><text class="lg" x="0" y="83.7" transform="translate(317.83 0) scale(1.071 1)">f</text><text class="lg" x="0" y="83.7" transform="translate(340.77 0) scale(1.250 1)">l</text><text class="lg" x="0" y="83.7" transform="translate(360.87 0) scale(1.088 1)">e</text><text class="lg" x="0" y="83.7" transform="translate(383.80 0) scale(1.000 1)">c</text><text class="lg" x="0" y="83.7" transform="translate(408.80 0) scale(1.231 1)">t</text><text class="lg" x="0" y="83.7" transform="translate(435.38 0) scale(1.250 1)">i</text><text class="lg" x="0" y="83.7" transform="translate(454.90 0) scale(1.000 1)">o</text><text class="lg" x="0" y="83.7" transform="translate(477.95 0) scale(0.952 1)">n</text><text class="lg" x="0" y="135.3" transform="translate(266.75 0) scale(0.652 1)">A</text><text class="lg" x="0" y="135.3" transform="translate(294.00 0) scale(0.810 1)">b</text><text class="lg" x="0" y="135.3" transform="translate(316.76 0) scale(1.071 1)">s</text><text class="lg" x="0" y="135.3" transform="translate(337.51 0) scale(0.947 1)">o</text><text class="lg" x="0" y="135.3" transform="translate(363.83 0) scale(1.071 1)">r</text><text class="lg" x="0" y="135.3" transform="translate(387.30 0) scale(0.762 1)">b</text><text class="lg" x="0" y="135.3" transform="translate(407.63 0) scale(0.833 1)">a</text><text class="lg" x="0" y="135.3" transform="translate(430.32 0) scale(0.929 1)">n</text><text class="lg" x="0" y="135.3" transform="translate(454.50 0) scale(1.000 1)">c</text><text class="lg" x="0" y="135.3" transform="translate(477.47 0) scale(1.088 1)">e</text><text class="tk" x="23.1" y="47.2" text-anchor="middle">1</text><text class="tk" x="41.7" y="47.2" text-anchor="middle">.</text><text class="tk" x="69.2" y="47.2" text-anchor="middle">0</text><text class="tk" x="92.4" y="47.2" text-anchor="middle">0</text><text class="tk" x="23.1" y="287.4" text-anchor="middle">0</text><text class="tk" x="41.7" y="287.4" text-anchor="middle">.</text><text class="tk" x="69.2" y="287.4" text-anchor="middle">7</text><text class="tk" x="92.4" y="287.4" text-anchor="middle">5</text><text class="tk" x="23.1" y="527.7" text-anchor="middle">0</text><text class="tk" x="41.7" y="527.7" text-anchor="middle">.</text><text class="tk" x="69.2" y="527.7" text-anchor="middle">5</text><text class="tk" x="92.4" y="527.7" text-anchor="middle">0</text><text class="tk" x="23.1" y="768.0" text-anchor="middle">0</text><text class="tk" x="41.7" y="768.0" text-anchor="middle">.</text><text class="tk" x="69.2" y="768.0" text-anchor="middle">2</text><text class="tk" x="92.4" y="768.0" text-anchor="middle">5</text><text class="tk" x="23.1" y="1008.2" text-anchor="middle">0</text><text class="tk" x="41.7" y="1008.2" text-anchor="middle">.</text><text class="tk" x="69.2" y="1008.2" text-anchor="middle">0</text><text class="tk" x="92.4" y="1008.2" text-anchor="middle">0</text><text class="tk" x="112.5" y="1058.2" text-anchor="middle">5</text><text class="tk" x="135.6" y="1058.2" text-anchor="middle">0</text><text class="tk" x="158.7" y="1058.2" text-anchor="middle">0</text><text class="tk" x="419.6" y="1058.2" text-anchor="middle">6</text><text class="tk" x="442.7" y="1058.2" text-anchor="middle">0</text><text class="tk" x="465.8" y="1058.2" text-anchor="middle">0</text><text class="tk" x="726.6" y="1058.2" text-anchor="middle">7</text><text class="tk" x="749.7" y="1058.2" text-anchor="middle">0</text><text class="tk" x="772.8" y="1058.2" text-anchor="middle">0</text><text class="tk" x="1033.7" y="1058.2" text-anchor="middle">8</text><text class="tk" x="1056.8" y="1058.2" text-anchor="middle">0</text><text class="tk" x="1079.8" y="1058.2" text-anchor="middle">0</text><text class="tk" x="1340.7" y="1058.2" text-anchor="middle">9</text><text class="tk" x="1363.8" y="1058.2" text-anchor="middle">0</text><text class="tk" x="1386.9" y="1058.2" text-anchor="middle">0</text><text class="tk" x="1132.0" y="289.2" text-anchor="middle">7</text><text class="tk" x="1155.2" y="289.2" text-anchor="middle">8</text><text class="tk" x="1178.2" y="289.2" text-anchor="middle">6</text><text class="ttl" x="644" y="1114.5">&#955;</text><text class="par" x="733" y="1113">(</text><text class="par" x="817.5" y="1113">)</text><g transform="scale(0.755 1)"><text class="nm" x="996.7" y="1120.2">nm</text></g></svg><div style="position:absolute;left:789.3px;top:324.8px;width:36.4px;height:431.6px;background:linear-gradient(0deg,#000073 0.0%,#000085 1.7%,#000098 3.3%,#0000ab 5.0%,#0000be 6.7%,#0000d0 8.3%,#0000e3 10.0%,#0000f6 11.7%,#0008ff 13.3%,#0019ff 15.0%,#002aff 16.7%,#003bff 18.3%,#004cff 20.0%,#005cff 21.7%,#006dff 23.3%,#007eff 25.0%,#008fff 26.7%,#00a0ff 28.3%,#00b0ff 30.0%,#00c1ff 31.7%,#00d2ff 33.3%,#00e3ff 35.0%,#00f4ff 36.7%,#00fffa 38.3%,#00ffe9 40.0%,#00ffd8 41.7%,#00ffc7 43.3%,#00ffb7 45.0%,#00ffa6 46.7%,#00ff95 48.3%,#00ff84 50.0%,#00ff73 51.7%,#73ff4c 53.3%,#87ff32 55.0%,#9cff19 56.7%,#b0ff00 58.3%,#c8ff00 60.0%,#dfff00 61.7%,#f6ff00 63.3%,#fff400 65.0%,#ffe200 66.7%,#ffd000 68.3%,#ffbe00 70.0%,#ffac00 71.7%,#ff9a00 73.3%,#ff8800 75.0%,#ff7600 76.7%,#ff6300 78.3%,#ff5100 80.0%,#ff3f00 81.7%,#ff2d00 83.3%,#ff1b00 85.0%,#ff0900 86.7%,#f90000 88.3%,#ec0000 90.0%,#df0000 91.7%,#d20000 93.3%,#c50000 95.0%,#b80000 96.7%,#ab0000 98.3%,#9e0000 100.0%)"></div><div style="position:absolute;left:341px;top:320px;width:434px;height:2px;background:#dcdcff"></div><div id="hm"><div style="height:1px;background:#5a5aff"></div><div style="height:14px;background:linear-gradient(90deg,#0000f1 0px,#000dff 6px,#005cff 24px,#007cff 40px,#007bff 66px,#005dff 80px,#0011ff 96px,#0000f8 100px,#0000cd 108px,#0004ff 118px,#0054ff 134px,#0078ff 148px,#007eff 168px,#0060ff 180px,#0001ff 204px,#0000ee 216px,#0006ff 228px,#0072ff 256px,#0080ff 268px,#0072ff 286px,#0044ff 300px,#0005ff 312px,#0000cd 322px,#0004ff 332px,#0055ff 348px,#0078ff 362px,#007fff 384px,#006dff 400px,#0035ff 416px,#0000fa 428px,#0000ee 432px)"></div><div style="height:31px;background:linear-gradient(90deg,#0012ff 0px,#0088ff 24px,#00aaff 38px,#00aeff 62px,#0097ff 74px,#005eff 86px,#0006ff 98px,#0000b6 108px,#0004ff 118px,#0068ff 132px,#009cff 144px,#00b0ff 158px,#00abff 170px,#007aff 184px,#0021ff 204px,#000fff 216px,#0027ff 228px,#00a1ff 256px,#00b0ff 266px,#00a6ff 282px,#007fff 294px,#0025ff 308px,#0005ff 312px,#0000b6 322px,#0004ff 332px,#0069ff 346px,#009dff 358px,#00b0ff 372px,#00a7ff 394px,#0081ff 408px,#0012ff 430px,#000fff 432px)"></div><div style="height:32px;background:linear-gradient(90deg,#0030ff 0px,#00b4ff 22px,#00deff 34px,#00edff 50px,#00e3ff 66px,#00c1ff 76px,#007dff 86px,#0006ff 98px,#00009a 108px,#0000d3 114px,#0003ff 118px,#007bff 130px,#00bfff 140px,#00e3ff 150px,#00ecff 166px,#00d4ff 176px,#004bff 202px,#002fff 212px,#0036ff 222px,#0067ff 234px,#00d3ff 254px,#00ecff 264px,#00e3ff 280px,#00c0ff 290px,#007cff 300px,#0005ff 312px,#00009a 322px,#0000d3 328px,#0003ff 332px,#007cff 344px,#00c0ff 354px,#00e3ff 364px,#00edff 382px,#00d9ff 398px,#00abff 410px,#0031ff 430px,#002dff 432px)"></div><div style="height:30px;background:linear-gradient(90deg,#0045ff 0px,#00dcff 22px,#00fffe 30px,#00ffe4 42px,#00ffe5 62px,#00feff 72px,#00beff 82px,#0055ff 92px,#0009ff 98px,#0000d0 102px,#00009c 106px,#00008a 108px,#0000b2 112px,#0006ff 118px,#0095ff 130px,#00daff 138px,#00fcff 144px,#00ffe3 156px,#00ffe8 170px,#00fffe 176px,#009fff 192px,#005aff 204px,#0042ff 214px,#0051ff 224px,#0090ff 236px,#00ffff 254px,#00ffe2 264px,#00ffe8 278px,#00fdff 286px,#00bcff 296px,#0054ff 306px,#0008ff 312px,#0000d0 316px,#000089 322px,#0000b2 326px,#0007ff 332px,#0096ff 344px,#00dbff 352px,#00fdff 358px,#00ffe3 370px,#00ffe6 390px,#00f9ff 402px,#00b8ff 414px,#0046ff 430px,#0042ff 432px)"></div><div style="height:31px;background:linear-gradient(90deg,#0050ff 0px,#00f4ff 20px,#00fffd 22px,#00ffca 32px,#00ffb2 44px,#00ffaf 52px,#00fffb 68px,#00beff 78px,#003aff 92px,#000fff 96px,#0000f7 98px,#00009b 106px,#00008a 108px,#0000c4 114px,#0000f4 118px,#000cff 120px,#009aff 134px,#00f4ff 146px,#00fffd 148px,#00ffaf 164px,#00ffbf 172px,#00fff7 182px,#00e9ff 186px,#0073ff 202px,#0052ff 210px,#004eff 218px,#0067ff 226px,#00b8ff 238px,#00f6ff 246px,#00ffeb 250px,#00ffb9 260px,#00ffb0 266px,#00fffc 282px,#00bdff 292px,#0039ff 306px,#000eff 310px,#0000f6 312px,#000089 322px,#0000dc 330px,#0000f4 332px,#000dff 334px,#009bff 348px,#00f6ff 360px,#00fff1 364px,#00ffaf 378px,#00ffbe 394px,#00ffe4 404px,#00fffb 408px,#00b5ff 418px,#0051ff 430px,#004cff 432px)"></div><div style="height:30px;background:linear-gradient(90deg,#0060ff 0px,#00fbff 16px,#00ffa8 28px,#00ff81 38px,#00ff75 52px,#00feff 68px,#0001ff 98px,#0000b1 108px,#0000fd 118px,#00faff 148px,#00ff75 164px,#00ff87 172px,#00ffc9 182px,#00fffe 188px,#0089ff 202px,#0062ff 210px,#005dff 218px,#007bff 226px,#00d9ff 238px,#00feff 242px,#00ff9e 254px,#00ff7a 262px,#00ff75 266px,#00fcff 282px,#0000ff 312px,#0000b0 322px,#0000fe 332px,#00fcff 362px,#00ff75 378px,#00ff81 392px,#00ffa7 402px,#00ffef 412px,#00fdff 414px,#0061ff 430px,#005bff 432px)"></div><div style="height:29px;background:linear-gradient(90deg,#0065ff 0px,#00fffb 16px,#00ffab 26px,#00ff7d 36px,#00ff6a 44px,#70ff4f 46px,#77ff47 54px,#73ff4c 56px,#00ff6f 58px,#00ffc9 64px,#00faff 70px,#0004ff 100px,#0000c7 108px,#0002ff 116px,#00f6ff 146px,#00ffe4 150px,#00ffb5 154px,#00ff75 158px,#70ff4f 160px,#77ff47 166px,#75ff4a 168px,#00ff67 170px,#00ffd2 184px,#00fff6 188px,#00e2ff 192px,#0082ff 204px,#0063ff 212px,#0067ff 220px,#008dff 228px,#00f3ff 240px,#00fff8 242px,#00ff84 256px,#00ff68 260px,#74ff4a 262px,#76ff47 268px,#71ff4e 270px,#00ff72 272px,#00ffcd 278px,#00fff4 282px,#00f8ff 284px,#0004ff 314px,#0000c7 322px,#0003ff 330px,#00f8ff 360px,#00ffe1 364px,#00ffb0 368px,#00ff71 372px,#72ff4d 374px,#75ff49 382px,#71ff4e 384px,#00ff69 386px,#00ff93 400px,#00ffd5 410px,#00fff9 414px,#00c9ff 420px,#0066ff 430px,#0060ff 432px)"></div><div style="height:27px;background:linear-gradient(90deg,#0064ff 0px,#00f6ff 16px,#00ffe7 20px,#00ff99 32px,#00ff82 34px,#78ff46 36px,#9fff15 38px,#b4ff00 40px,#bfff00 46px,#bcff00 62px,#b5ff00 64px,#9fff15 66px,#00ff6e 68px,#00ffb9 70px,#00fff9 72px,#00c7ff 76px,#0017ff 100px,#0000fd 104px,#0000e3 108px,#0000fb 112px,#0077ff 130px,#00c3ff 140px,#00d9ff 142px,#00faff 144px,#00ffcb 146px,#00ff7f 148px,#95ff22 150px,#b1ff00 152px,#beff00 156px,#bcff00 174px,#b4ff00 176px,#9dff17 178px,#00ff6b 180px,#00ffa4 182px,#00ffd0 184px,#00ffed 186px,#00fcff 188px,#0098ff 200px,#006dff 208px,#0060ff 216px,#0074ff 224px,#00b4ff 234px,#00faff 242px,#00ffef 244px,#00ffd4 246px,#00ffa9 248px,#00ff70 250px,#9aff1c 252px,#b3ff00 254px,#bfff00 260px,#bcff00 276px,#b3ff00 278px,#99ff1c 280px,#00ff78 282px,#00ffc4 284px,#00feff 286px,#00dbff 288px,#0096ff 296px,#0000fc 318px,#0000e3 322px,#0000fb 326px,#0078ff 344px,#00c5ff 354px,#00dcff 356px,#00fffe 358px,#00ffc0 360px,#00ff74 362px,#9bff1a 364px,#b4ff00 366px,#bfff00 372px,#bcff00 388px,#b5ff00 390px,#a2ff11 392px,#7cff40 394px,#00ff7f 396px,#00ffa6 400px,#00fff6 412px,#00f8ff 414px,#0066ff 430px,#0060ff 432px)"></div><div style="height:2px;background:linear-gradient(90deg,#0060ff 0px,#0075ff 6px,#00a6ff 12px,#00edff 18px,#00fff7 20px,#00ff71 30px,#7fff3d 32px,#b3ff00 36px,#edff00 42px,#fffc00 48px,#fbff00 60px,#e3ff00 64px,#b6ff00 68px,#7eff3e 72px,#00ff75 74px,#00fff2 82px,#00ebff 84px,#0053ff 94px,#0014ff 100px,#0000fa 104px,#0000f2 110px,#0004ff 114px,#0038ff 120px,#00a5ff 128px,#00fff8 134px,#00ff7b 142px,#77ff47 144px,#b0ff00 148px,#efff00 154px,#ffff00 158px,#f9ff00 172px,#dfff00 176px,#b2ff00 180px,#7cff41 184px,#00ff75 186px,#00fcff 196px,#009aff 204px,#006cff 210px,#0060ff 216px,#0077ff 222px,#00adff 228px,#00f9ff 234px,#00ff78 244px,#79ff45 246px,#afff01 250px,#ddff00 254px,#feff00 260px,#faff00 274px,#e1ff00 278px,#b3ff00 282px,#7aff43 286px,#00ff78 288px,#00fff5 296px,#00c8ff 300px,#0052ff 308px,#0013ff 314px,#0000fa 318px,#0000f2 324px,#0004ff 328px,#0039ff 334px,#00a7ff 342px,#00e7ff 346px,#00fff5 348px,#00ff78 356px,#7aff42 358px,#b3ff00 362px,#e1ff00 366px,#fbff00 370px,#feff00 384px,#e0ff00 390px,#b5ff00 394px,#82ff39 398px,#00ff6e 400px,#00fff4 410px,#00efff 412px,#0095ff 420px,#006bff 426px,#0060ff 432px)"></div><div style="height:2px;background:linear-gradient(90deg,#0060ff 0px,#0078ff 6px,#00c2ff 14px,#00f5ff 18px,#00ffee 20px,#00ff67 30px,#8aff2f 32px,#a4ff0e 34px,#bdff00 36px,#f3ff00 42px,#fffb00 48px,#feff00 60px,#eaff00 64px,#c1ff00 68px,#a7ff0b 70px,#8aff2f 72px,#00ff6a 74px,#00ffe5 82px,#00f7ff 84px,#005dff 94px,#001aff 100px,#0000ff 104px,#0000f3 108px,#0000fe 112px,#002bff 118px,#0091ff 126px,#00f1ff 132px,#00ffeb 134px,#00ff6f 142px,#84ff37 144px,#a1ff13 146px,#bcff00 148px,#e7ff00 152px,#fdff00 156px,#fdff00 172px,#e7ff00 176px,#bdff00 180px,#a3ff10 182px,#88ff32 184px,#00ff6b 186px,#00fff9 196px,#008cff 206px,#0066ff 212px,#0060ff 216px,#007aff 222px,#00b3ff 228px,#00fffc 234px,#00ff6d 244px,#85ff36 246px,#a1ff13 248px,#bbff00 250px,#f3ff00 256px,#fffb00 262px,#fdff00 274px,#d6ff00 280px,#beff00 282px,#a4ff0f 284px,#87ff33 286px,#00ff6d 288px,#00ffe8 296px,#00f5ff 298px,#005bff 308px,#001aff 314px,#0000ff 318px,#0000f3 322px,#0000fe 326px,#002bff 332px,#0093ff 340px,#00f4ff 346px,#00ffe9 348px,#00ff6d 356px,#87ff33 358px,#a4ff0f 360px,#bfff00 362px,#e9ff00 366px,#fdff00 370px,#fcff00 386px,#d5ff00 392px,#bfff00 394px,#a7ff0b 396px,#70ff4f 400px,#00ff7e 402px,#00ffeb 410px,#00f8ff 412px,#009aff 420px,#006dff 426px,#0060ff 432px)"></div><div style="height:2px;background:linear-gradient(90deg,#0061ff 0px,#007bff 6px,#00b1ff 12px,#00fcff 18px,#00ff79 28px,#76ff47 30px,#acff05 34px,#eaff00 40px,#feff00 44px,#faff00 62px,#dfff00 66px,#afff01 70px,#75ff49 74px,#00ff7d 76px,#00fffc 84px,#0065ff 94px,#0021ff 100px,#0004ff 104px,#0000f6 108px,#0003ff 112px,#0032ff 118px,#007dff 124px,#00fcff 132px,#00ff67 142px,#8dff2b 144px,#a9ff08 146px,#daff00 150px,#f8ff00 154px,#fffa00 160px,#ffff00 172px,#dbff00 178px,#abff06 182px,#73ff4c 186px,#00ff7e 188px,#00fff1 196px,#00f0ff 198px,#0090ff 206px,#0067ff 212px,#0061ff 216px,#007dff 222px,#00b9ff 228px,#00edff 232px,#00fff4 234px,#00ff80 242px,#35ff5b 244px,#8eff2a 246px,#a9ff09 248px,#d9ff00 252px,#f7ff00 256px,#fffa00 264px,#f9ff00 276px,#c6ff00 282px,#acff05 284px,#71ff4e 288px,#00ff80 290px,#00ffff 298px,#0064ff 308px,#0020ff 314px,#0004ff 318px,#0000f6 322px,#0003ff 326px,#0032ff 332px,#007eff 338px,#00feff 346px,#00ff80 354px,#71ff4e 356px,#acff04 360px,#eeff00 366px,#fffe00 370px,#feff00 386px,#dcff00 392px,#aeff02 396px,#79ff44 400px,#00ff76 402px,#00ffff 412px,#009eff 420px,#0070ff 426px,#0060ff 432px)"></div><div style="height:2px;background:linear-gradient(90deg,#0061ff 0px,#007dff 6px,#00ceff 14px,#00fffc 18px,#00ff73 28px,#7eff3e 30px,#b2ff00 34px,#eeff00 40px,#fffd00 44px,#fdff00 62px,#e4ff00 66px,#b6ff00 70px,#9bff1a 72px,#7dff3f 74px,#00ff76 76px,#00fff4 84px,#00e9ff 86px,#0053ff 96px,#0016ff 102px,#0000fe 106px,#0000fd 110px,#0024ff 116px,#0069ff 122px,#00fff9 132px,#00ff7c 140px,#76ff48 142px,#b0ff00 146px,#e0ff00 150px,#fbff00 154px,#fbff00 174px,#e1ff00 178px,#b2ff00 182px,#7bff42 186px,#00ff77 188px,#00ffeb 196px,#00f7ff 198px,#0094ff 206px,#0069ff 212px,#0061ff 216px,#0080ff 222px,#00d8ff 230px,#00f4ff 232px,#00ffed 234px,#00ff79 242px,#77ff46 244px,#b0ff00 248px,#efff00 254px,#fffd00 258px,#fcff00 276px,#ccff00 282px,#b3ff00 284px,#79ff44 288px,#00ff79 290px,#00fff6 298px,#00c6ff 302px,#0052ff 310px,#0016ff 316px,#0000fe 320px,#0000f8 322px,#0007ff 326px,#0039ff 332px,#00a5ff 340px,#00e6ff 344px,#00fff7 346px,#00ff79 354px,#7aff43 356px,#b3ff00 360px,#f2ff00 366px,#fffc00 370px,#faff00 388px,#cdff00 394px,#b5ff00 396px,#81ff3b 400px,#00ff70 402px,#00fff9 412px,#008fff 422px,#0068ff 428px,#0060ff 432px)"></div><div style="height:2px;background:linear-gradient(90deg,#0061ff 0px,#0080ff 6px,#00d3ff 14px,#00fff6 18px,#00ff6d 28px,#84ff37 30px,#9fff15 32px,#b8ff00 34px,#f2ff00 40px,#fffc00 44px,#fffd00 62px,#e8ff00 66px,#bcff00 70px,#a1ff13 72px,#84ff37 74px,#00ff70 76px,#00ffec 84px,#00f1ff 86px,#005aff 96px,#001bff 102px,#0003ff 106px,#0002ff 110px,#002aff 116px,#008dff 124px,#00ecff 130px,#00fff2 132px,#00ff75 140px,#7dff3f 142px,#9bff1a 144px,#b6ff00 146px,#f4ff00 152px,#ffff00 154px,#feff00 174px,#d1ff00 180px,#b8ff00 182px,#9eff16 184px,#81ff3a 186px,#00ff71 188px,#00fcff 198px,#0098ff 206px,#006aff 212px,#0062ff 216px,#0083ff 222px,#00c3ff 228px,#00faff 232px,#00ff74 242px,#7eff3e 244px,#b6ff00 248px,#f3ff00 254px,#fffc00 258px,#fffe00 276px,#d2ff00 282px,#b9ff00 284px,#9eff17 286px,#80ff3b 288px,#00ff72 290px,#00ffee 298px,#00efff 300px,#0059ff 310px,#001bff 316px,#0003ff 320px,#0002ff 324px,#002bff 330px,#0072ff 336px,#00eeff 344px,#00ffef 346px,#00ff72 354px,#81ff3b 356px,#9eff16 358px,#b9ff00 360px,#f6ff00 366px,#fffc00 370px,#fdff00 388px,#d2ff00 394px,#baff00 396px,#a1ff12 398px,#87ff33 400px,#00ff6b 402px,#00fff3 412px,#00f0ff 414px,#0093ff 422px,#0069ff 428px,#0060ff 432px)"></div><div style="height:2px;background:linear-gradient(90deg,#0062ff 0px,#0083ff 6px,#00d8ff 14px,#00f2ff 16px,#00fff1 18px,#00ff69 28px,#89ff30 30px,#a4ff0f 32px,#bdff00 34px,#f6ff00 40px,#fffc00 44px,#fbff00 64px,#c1ff00 70px,#a6ff0c 72px,#8aff30 74px,#00ff6a 76px,#00f9ff 86px,#0061ff 96px,#0020ff 102px,#0000fe 108px,#001eff 114px,#005dff 120px,#00f3ff 130px,#00ffea 132px,#00ff70 140px,#83ff38 142px,#a0ff14 144px,#bbff00 146px,#f8ff00 152px,#fffa00 158px,#fffd00 174px,#e9ff00 178px,#beff00 182px,#a3ff10 184px,#87ff33 186px,#00ff6c 188px,#00fffc 198px,#009cff 206px,#006bff 212px,#0062ff 216px,#0086ff 222px,#00e3ff 230px,#00ffff 232px,#00ff6f 242px,#84ff37 244px,#a0ff13 246px,#bbff00 248px,#f7ff00 254px,#fffc00 258px,#fffd00 276px,#eaff00 280px,#beff00 284px,#a3ff10 286px,#86ff34 288px,#00ff6d 290px,#00ffe7 298px,#00f6ff 300px,#0060ff 310px,#0020ff 316px,#0000fe 322px,#0010ff 326px,#0046ff 332px,#00b5ff 340px,#00f5ff 344px,#00ffc7 348px,#00ff6d 354px,#87ff33 356px,#a3ff0f 358px,#bfff00 360px,#faff00 366px,#fffe00 388px,#e9ff00 392px,#bfff00 396px,#a6ff0c 398px,#8cff2d 400px,#00ff66 402px,#00ffee 412px,#00f5ff 414px,#0097ff 422px,#006aff 428px,#0060ff 432px)"></div><div style="height:2px;background:linear-gradient(90deg,#0062ff 0px,#0086ff 6px,#00ddff 14px,#00f7ff 16px,#00ffd0 20px,#00ff7e 26px,#71ff4f 28px,#a8ff0a 32px,#d8ff00 36px,#f9ff00 40px,#fffa00 52px,#ffff00 64px,#c6ff00 70px,#abff06 72px,#8fff29 74px,#28ff5e 76px,#00ff81 78px,#00ffff 86px,#0068ff 96px,#0026ff 102px,#0002ff 108px,#0023ff 114px,#007fff 122px,#00faff 130px,#00ff6b 140px,#88ff31 142px,#a5ff0e 144px,#c0ff00 146px,#fcff00 152px,#fcff00 176px,#c3ff00 182px,#a8ff0a 184px,#8cff2d 186px,#00ff67 188px,#00fff7 198px,#00cfff 202px,#008bff 208px,#0063ff 214px,#0062ff 216px,#0089ff 222px,#00fffa 232px,#00ff6a 242px,#89ff30 244px,#a5ff0d 246px,#c0ff00 248px,#fbff00 254px,#fdff00 278px,#c3ff00 284px,#a8ff0a 286px,#8bff2e 288px,#00ff69 290px,#00fdff 300px,#0067ff 310px,#0025ff 316px,#0002ff 322px,#0024ff 328px,#0080ff 336px,#00fcff 344px,#00ff68 354px,#8cff2d 356px,#a8ff0a 358px,#dbff00 362px,#feff00 366px,#fbff00 390px,#c4ff00 396px,#aaff07 398px,#74ff4b 402px,#00ff7b 404px,#00faff 414px,#009aff 422px,#006cff 428px,#0060ff 432px)"></div><div style="height:2px;background:linear-gradient(90deg,#0063ff 0px,#0089ff 6px,#00e1ff 14px,#00fbff 16px,#00ff7a 26px,#75ff49 28px,#abff06 32px,#efff00 38px,#feff00 40px,#fffd00 64px,#e2ff00 68px,#afff01 72px,#74ff4a 76px,#00ff7d 78px,#00fff8 86px,#00a7ff 92px,#003fff 100px,#000dff 106px,#0004ff 108px,#0029ff 114px,#006bff 120px,#00fffe 130px,#00ff67 140px,#8dff2c 142px,#a9ff09 144px,#ddff00 148px,#fffe00 152px,#fffe00 176px,#dfff00 180px,#acff05 184px,#72ff4d 188px,#00ff7e 190px,#00fff2 198px,#00efff 200px,#008eff 208px,#0064ff 214px,#0063ff 216px,#008cff 222px,#00ecff 230px,#00fff5 232px,#00ff66 242px,#8dff2b 244px,#a9ff08 246px,#dcff00 250px,#fffe00 254px,#fffe00 278px,#dfff00 282px,#acff05 286px,#71ff4e 290px,#00ff80 292px,#00fffb 300px,#0054ff 312px,#001aff 318px,#0004ff 322px,#0029ff 328px,#0087ff 336px,#00fffc 344px,#00ff80 352px,#71ff4e 354px,#acff05 358px,#f4ff00 364px,#fffd00 366px,#ffff00 390px,#c7ff00 396px,#aeff03 398px,#78ff46 402px,#00ff78 404px,#00feff 414px,#009dff 422px,#006dff 428px,#0060ff 432px)"></div><div style="height:2px;background:linear-gradient(90deg,#0063ff 0px,#008cff 6px,#00e5ff 14px,#00fffe 16px,#00ff77 26px,#79ff44 28px,#afff01 32px,#f3ff00 38px,#fffe00 40px,#faff00 66px,#b3ff00 72px,#79ff44 76px,#00ff79 78px,#00fff3 86px,#00ecff 88px,#005bff 98px,#001fff 104px,#0007ff 108px,#002eff 114px,#008cff 122px,#00e6ff 128px,#00fff8 130px,#00ff7f 138px,#72ff4d 140px,#adff04 144px,#f6ff00 150px,#fffc00 154px,#fffd00 176px,#f7ff00 178px,#b0ff00 184px,#76ff47 188px,#00ff7a 190px,#00ffee 198px,#00f4ff 200px,#0091ff 208px,#0064ff 214px,#0063ff 216px,#008fff 222px,#00f1ff 230px,#00fff1 232px,#00ff7d 240px,#73ff4b 242px,#adff03 246px,#f5ff00 252px,#fffc00 256px,#fffd00 278px,#f8ff00 280px,#b0ff01 286px,#75ff49 290px,#00ff7c 292px,#00fff5 300px,#00caff 304px,#005bff 312px,#001eff 318px,#0007ff 322px,#002eff 328px,#008eff 336px,#00e8ff 342px,#00fff6 344px,#00ff7c 352px,#76ff48 354px,#b0ff00 358px,#f9ff00 364px,#fffa00 376px,#fffd00 390px,#e2ff00 394px,#b2ff00 398px,#7cff41 402px,#00ff74 404px,#00fffc 414px,#008dff 424px,#0064ff 430px,#0060ff 432px)"></div><div style="height:2px;background:linear-gradient(90deg,#0063ff 0px,#008eff 6px,#00fffa 16px,#00ff74 26px,#7cff40 28px,#b2ff00 32px,#f8ff00 38px,#ffee00 44px,#ffed00 60px,#fffc00 66px,#b7ff00 72px,#9bff1a 74px,#7dff3f 76px,#00ff75 78px,#00ffed 86px,#00f1ff 88px,#0062ff 98px,#0023ff 104px,#0009ff 108px,#0033ff 114px,#0093ff 122px,#00ecff 128px,#00fff3 130px,#00ff7b 138px,#76ff48 140px,#b1ff00 144px,#fbff00 150px,#ffeb00 158px,#fff000 174px,#fcff00 178px,#b4ff00 184px,#7aff43 188px,#00ff77 190px,#00ffea 198px,#00f8ff 200px,#0094ff 208px,#0065ff 214px,#0064ff 216px,#0092ff 222px,#00f5ff 230px,#00ffcf 234px,#00ff7a 240px,#77ff46 242px,#b1ff00 246px,#faff00 252px,#ffee00 258px,#ffed00 274px,#fdff00 280px,#b4ff00 286px,#79ff44 290px,#00ff78 292px,#00fff0 300px,#00efff 302px,#0061ff 312px,#0023ff 318px,#0009ff 322px,#0033ff 328px,#0094ff 336px,#00eeff 342px,#00fff1 344px,#00ff78 352px,#7aff43 354px,#b5ff00 358px,#feff00 364px,#ffed00 370px,#ffee00 386px,#f9ff00 392px,#b5ff00 398px,#7fff3c 402px,#00ff71 404px,#00fff8 414px,#00baff 420px,#0070ff 428px,#0060ff 432px)"></div><div style="height:2px;background:linear-gradient(90deg,#0064ff 0px,#0091ff 6px,#00edff 14px,#00fff7 16px,#00ff71 26px,#7fff3c 28px,#b6ff00 32px,#fdff00 38px,#ffee00 44px,#ffed00 60px,#fff800 66px,#f1ff00 68px,#bcff00 72px,#9fff15 74px,#81ff3b 76px,#00ff72 78px,#00ffe8 86px,#00f7ff 88px,#0068ff 98px,#0028ff 104px,#000cff 108px,#0038ff 114px,#0099ff 122px,#00f1ff 128px,#00ffee 130px,#00ff78 138px,#7aff43 140px,#b5ff00 144px,#fffb00 150px,#ffe900 162px,#fff300 176px,#fffb00 178px,#d4ff00 182px,#b8ff00 184px,#9cff19 186px,#7eff3e 188px,#00ff74 190px,#00fcff 200px,#0097ff 208px,#0065ff 214px,#0064ff 216px,#0095ff 222px,#00f9ff 230px,#00ff77 240px,#7bff42 242px,#b5ff00 246px,#fffd00 252px,#ffeb00 260px,#ffef00 276px,#fffa00 280px,#d4ff00 284px,#b8ff00 286px,#9bff1a 288px,#7dff3f 290px,#00ff75 292px,#00ffeb 300px,#00f4ff 302px,#0067ff 312px,#0027ff 318px,#000cff 322px,#0038ff 328px,#009aff 336px,#00f4ff 342px,#00ffec 344px,#00ff75 352px,#7dff3f 354px,#9cff19 356px,#b9ff00 358px,#efff00 362px,#fff900 364px,#ffe900 376px,#fff400 390px,#ffff00 392px,#b9ff00 398px,#9eff16 400px,#82ff39 402px,#00ff6e 404px,#00fff4 414px,#00f0ff 416px,#0093ff 424px,#0065ff 430px,#0060ff 432px)"></div><div style="height:2px;background:linear-gradient(90deg,#0064ff 0px,#00a9ff 8px,#00f1ff 14px,#00fff3 16px,#00ff6f 26px,#82ff38 28px,#9eff16 30px,#baff00 32px,#fffa00 38px,#ffea00 50px,#fff100 64px,#f7ff00 68px,#c0ff00 72px,#a2ff11 74px,#84ff36 76px,#00ff6f 78px,#00fcff 88px,#006dff 98px,#001bff 106px,#000fff 108px,#003dff 114px,#009fff 122px,#00f6ff 128px,#00ffcb 132px,#00ff75 138px,#7dff3f 140px,#9cff19 142px,#b9ff00 144px,#f1ff00 148px,#fff800 150px,#ffe900 164px,#fff800 178px,#f2ff00 180px,#bcff00 184px,#9fff15 186px,#81ff3a 188px,#00ff71 190px,#00fffe 200px,#009bff 208px,#0066ff 214px,#0065ff 216px,#0098ff 222px,#00fdff 230px,#00ff74 240px,#7eff3e 242px,#9cff18 244px,#b9ff00 246px,#f0ff00 250px,#fff800 252px,#ffe900 266px,#fff700 280px,#f3ff00 282px,#bcff00 286px,#9fff15 288px,#80ff3b 290px,#00ff72 292px,#00f9ff 302px,#006dff 312px,#001bff 320px,#000eff 322px,#003dff 328px,#00a0ff 336px,#00f9ff 342px,#00ff72 352px,#81ff3a 354px,#9fff15 356px,#bdff00 358px,#f5ff00 362px,#fff200 366px,#ffea00 382px,#fff900 392px,#d7ff00 396px,#bdff00 398px,#a1ff12 400px,#85ff35 402px,#00ff6c 404px,#00fff0 414px,#00f3ff 416px,#0083ff 426px,#0065ff 430px,#0060ff 432px)"></div><div style="height:2px;background:linear-gradient(90deg,#0065ff 0px,#00acff 8px,#00f4ff 14px,#00fff0 16px,#00ff6c 26px,#85ff35 28px,#a1ff12 30px,#beff00 32px,#f3ff00 36px,#fff700 38px,#ffe900 54px,#fff500 66px,#feff00 68px,#c5ff00 72px,#a6ff0d 74px,#87ff32 76px,#00ff6c 78px,#00fffe 88px,#005bff 100px,#0011ff 108px,#0042ff 114px,#00c1ff 124px,#00fbff 128px,#00ff72 138px,#81ff3b 140px,#9fff15 142px,#bdff00 144px,#f7ff00 148px,#fff100 152px,#ffeb00 170px,#fff600 178px,#f9ff00 180px,#c1ff00 184px,#a3ff11 186px,#84ff36 188px,#00ff6e 190px,#00fffa 200px,#0089ff 210px,#0066ff 214px,#0065ff 216px,#00b2ff 224px,#00fffd 230px,#00ff71 240px,#81ff3a 242px,#a0ff14 244px,#bdff00 246px,#f6ff00 250px,#fff200 254px,#ffeb00 272px,#fff500 280px,#faff00 282px,#c1ff00 286px,#a2ff11 288px,#84ff37 290px,#00ff6f 292px,#00feff 302px,#005aff 314px,#001fff 320px,#0011ff 322px,#0043ff 328px,#00c2ff 338px,#00fdff 342px,#00ff6f 352px,#84ff36 354px,#a3ff10 356px,#c2ff00 358px,#fbff00 362px,#ffee00 368px,#ffed00 386px,#fff700 392px,#f5ff00 394px,#c0ff00 398px,#a4ff0f 400px,#88ff31 402px,#00ff6a 404px,#00ffed 414px,#00f7ff 416px,#0099ff 424px,#0066ff 430px,#0060ff 432px)"></div><div style="height:2px;background:linear-gradient(90deg,#0065ff 0px,#00afff 8px,#00f8ff 14px,#00ffb8 20px,#00ff6a 26px,#88ff32 28px,#a4ff0e 30px,#c2ff00 32px,#f9ff00 36px,#ffed00 44px,#ffee00 62px,#fffa00 68px,#caff00 72px,#a9ff08 74px,#8bff2e 76px,#00ff6a 78px,#00fff9 88px,#0061ff 100px,#0023ff 106px,#0014ff 108px,#0047ff 114px,#00c6ff 124px,#00fffe 128px,#00ff6f 138px,#84ff37 140px,#a3ff11 142px,#c2ff00 144px,#feff00 148px,#ffee00 154px,#ffee00 174px,#fffd00 180px,#c5ff00 184px,#a6ff0c 186px,#88ff32 188px,#00ff6c 190px,#00fff7 200px,#00d1ff 204px,#0078ff 212px,#0067ff 214px,#0066ff 216px,#00b6ff 224px,#00fffa 230px,#00ff6f 240px,#84ff36 242px,#a3ff10 244px,#c2ff00 246px,#fdff00 250px,#ffee00 256px,#ffee00 276px,#fffc00 282px,#c5ff00 286px,#a6ff0d 288px,#87ff33 290px,#00ff6d 292px,#00fffb 302px,#0049ff 316px,#0013ff 322px,#0048ff 328px,#00c8ff 338px,#00fffc 342px,#00ff6c 352px,#88ff32 354px,#a6ff0c 356px,#c6ff00 358px,#fffb00 362px,#ffeb00 372px,#fff100 390px,#fcff00 394px,#c4ff00 398px,#a7ff0b 400px,#8bff2e 402px,#00ff68 404px,#00faff 416px,#0088ff 426px,#0066ff 430px,#0060ff 432px)"></div><div style="height:2px;background:linear-gradient(90deg,#0066ff 0px,#00b2ff 8px,#00fbff 14px,#00ff68 26px,#8aff2f 28px,#a7ff0b 30px,#c6ff00 32px,#fffd00 36px,#ffec00 44px,#ffef00 64px,#fff800 68px,#efff00 70px,#adff03 74px,#8eff2a 76px,#00ff67 78px,#00fff5 88px,#00d0ff 92px,#004fff 102px,#0016ff 108px,#004cff 114px,#00fffa 128px,#00ff6d 138px,#87ff33 140px,#a6ff0c 142px,#c7ff00 144px,#fffa00 148px,#ffea00 160px,#fff300 178px,#fff900 180px,#eaff00 182px,#a9ff08 186px,#8bff2e 188px,#00ff6a 190px,#00fff4 200px,#00efff 202px,#0079ff 212px,#0068ff 214px,#0066ff 216px,#00b9ff 224px,#00edff 228px,#00fff6 230px,#00ff6c 240px,#87ff32 242px,#a6ff0c 244px,#c7ff00 246px,#fffa00 250px,#ffea00 262px,#fff300 280px,#fff900 282px,#ebff00 284px,#a9ff08 288px,#8aff2f 290px,#00ff6a 292px,#00fff7 302px,#00ceff 306px,#004eff 316px,#0016ff 322px,#004dff 328px,#00e9ff 340px,#00fff8 342px,#00ff6a 352px,#8bff2e 354px,#aaff07 356px,#ecff00 360px,#fff800 362px,#ffe900 376px,#fff400 392px,#fffb00 394px,#aaff07 400px,#8dff2b 402px,#2eff5d 404px,#00ff7f 406px,#00fdff 416px,#008aff 426px,#0067ff 430px,#0060ff 432px)"></div><div style="height:2px;background:linear-gradient(90deg,#0066ff 0px,#00cdff 10px,#00feff 14px,#00ff66 26px,#8dff2b 28px,#abff07 30px,#eaff00 34px,#fff900 36px,#ffe900 52px,#fff600 68px,#f7ff00 70px,#b1ff00 74px,#70ff4f 78px,#00ff80 80px,#00fff1 88px,#00f0ff 90px,#0054ff 102px,#0019ff 108px,#0068ff 116px,#00ecff 126px,#00fff6 128px,#00ff6b 138px,#8aff2f 140px,#aaff08 142px,#eeff00 146px,#fff800 148px,#ffe900 162px,#fff300 178px,#fff700 180px,#f1ff00 182px,#adff03 186px,#8eff2b 188px,#00ff67 190px,#00fff1 200px,#00f3ff 202px,#007bff 212px,#0068ff 214px,#0067ff 216px,#00bdff 224px,#00f0ff 228px,#00fff3 230px,#00ff6a 240px,#8aff2f 242px,#aaff07 244px,#eeff00 248px,#fff800 250px,#ffe900 266px,#fff700 282px,#f2ff00 284px,#adff04 288px,#8dff2b 290px,#00ff68 292px,#00fff4 302px,#00eeff 304px,#0054ff 316px,#0018ff 322px,#0069ff 330px,#00eeff 340px,#00fff4 342px,#00ff68 352px,#8eff2a 354px,#aeff02 356px,#f3ff00 360px,#fff700 362px,#ffe900 378px,#fff800 394px,#edff00 396px,#aeff03 400px,#72ff4d 404px,#00ff7d 406px,#00fffd 416px,#0079ff 428px,#0060ff 432px)"></div><div style="height:2px;background:linear-gradient(90deg,#0067ff 0px,#00d0ff 10px,#00fffd 14px,#00ff7e 24px,#71ff4e 26px,#aeff02 30px,#f1ff00 34px,#fff700 36px,#ffe900 54px,#fff500 68px,#ffff00 70px,#b6ff00 74px,#73ff4b 78px,#00ff7e 80px,#00ffee 88px,#00f5ff 90px,#0059ff 102px,#001bff 108px,#006eff 116px,#00f0ff 126px,#00fff3 128px,#00ff69 138px,#8dff2b 140px,#aeff03 142px,#f6ff00 146px,#fff200 150px,#ffeb00 170px,#fff600 180px,#f9ff00 182px,#b1ff00 186px,#91ff27 188px,#50ff56 190px,#00ff80 192px,#00ffee 200px,#00f6ff 202px,#007dff 212px,#0069ff 214px,#0067ff 216px,#00d9ff 226px,#00f3ff 228px,#00fff0 230px,#00ff68 240px,#8dff2b 242px,#aeff03 244px,#f5ff00 248px,#fff200 252px,#ffea00 272px,#fff600 282px,#f9ff00 284px,#b1ff00 288px,#90ff27 290px,#19ff61 292px,#00ff81 294px,#00fff0 302px,#00f3ff 304px,#0059ff 316px,#001bff 322px,#006fff 330px,#00f2ff 340px,#00fff1 342px,#00ff81 350px,#4fff56 352px,#91ff26 354px,#b2ff00 356px,#fbff00 360px,#ffef00 366px,#ffec00 386px,#fff700 394px,#f4ff00 396px,#b1ff00 400px,#74ff4a 404px,#00ff7b 406px,#00fffb 416px,#0068ff 430px,#0060ff 432px)"></div><div style="height:2px;background:linear-gradient(90deg,#0067ff 0px,#00fffa 14px,#00ff7c 24px,#73ff4b 26px,#b2ff00 30px,#f9ff00 34px,#ffe800 36px,#ffcc00 46px,#ffce00 60px,#ffe400 68px,#fff300 70px,#e2ff00 72px,#bbff00 74px,#98ff1e 76px,#76ff48 78px,#00ff7c 80px,#00ffea 88px,#00f8ff 90px,#0047ff 104px,#001eff 108px,#0073ff 116px,#00f4ff 126px,#00ffef 128px,#00ff66 138px,#90ff27 140px,#b2ff00 142px,#feff00 146px,#ffe600 148px,#ffcc00 158px,#ffce00 172px,#ffe500 180px,#fff800 182px,#b6ff00 186px,#72ff4c 190px,#00ff7f 192px,#00ffeb 200px,#00f9ff 202px,#006aff 214px,#0068ff 216px,#00f6ff 228px,#00ffd3 232px,#00ff81 238px,#0cff64 240px,#91ff27 242px,#b2ff00 244px,#feff00 248px,#ffe700 250px,#ffcf00 258px,#ffcc00 272px,#ffe500 282px,#fff800 284px,#b6ff00 288px,#72ff4d 292px,#00ff7f 294px,#00ffed 302px,#00f6ff 304px,#0047ff 318px,#001dff 322px,#008dff 332px,#00f6ff 340px,#00ffd2 344px,#00ff7f 350px,#73ff4c 352px,#b7ff00 356px,#fff600 360px,#ffdc00 364px,#ffc900 376px,#ffd700 390px,#ffe700 394px,#fcff00 396px,#b6ff00 400px,#76ff47 404px,#00ff7a 406px,#00fff8 416px,#00beff 422px,#0069ff 430px,#0060ff 432px)"></div><div style="height:2px;background:linear-gradient(90deg,#0067ff 0px,#00eeff 12px,#00fff8 14px,#00ff79 24px,#77ff46 26px,#b8ff00 30px,#fff800 34px,#ffdd00 38px,#ffc900 50px,#ffd500 64px,#ffee00 70px,#eaff00 72px,#c2ff00 74px,#9dff17 76px,#7bff42 78px,#00ff78 80px,#00fcff 90px,#0034ff 106px,#0020ff 108px,#0090ff 118px,#00f8ff 126px,#00ffd1 130px,#00ff7e 136px,#73ff4b 138px,#b9ff00 142px,#e0ff00 144px,#fff300 146px,#ffdc00 150px,#ffc900 162px,#ffd600 176px,#fff100 182px,#e4ff00 184px,#bdff00 186px,#99ff1c 188px,#77ff47 190px,#00ff7b 192px,#00fcff 202px,#006aff 214px,#0068ff 216px,#00f9ff 228px,#00ffb5 234px,#00ff7e 238px,#74ff4b 240px,#b9ff00 244px,#e0ff00 246px,#fff300 248px,#ffdc00 252px,#ffc900 264px,#ffd500 278px,#fff100 284px,#e4ff00 286px,#bdff00 288px,#99ff1d 290px,#77ff47 292px,#00ff7c 294px,#00faff 304px,#0034ff 320px,#0020ff 322px,#0078ff 330px,#00faff 340px,#00ff7b 350px,#77ff46 352px,#9aff1b 354px,#beff00 356px,#e6ff00 358px,#fff000 360px,#ffd500 366px,#ffc900 380px,#ffdc00 392px,#fff500 396px,#bcff00 400px,#9aff1b 402px,#7aff42 404px,#00ff77 406px,#00fff5 416px,#00d8ff 420px,#0069ff 430px,#0060ff 432px)"></div><div style="height:2px;background:linear-gradient(90deg,#0067ff 0px,#00f0ff 12px,#00fff5 14px,#00ff75 24px,#7dff3f 26px,#9eff17 28px,#c0ff00 30px,#e5ff00 32px,#fff100 34px,#ffd600 40px,#ffc900 54px,#ffd900 66px,#ffeb00 70px,#f2ff00 72px,#caff00 74px,#a4ff0e 76px,#82ff39 78px,#00ff73 80px,#00fffd 90px,#0037ff 106px,#0023ff 108px,#007bff 116px,#00fcff 126px,#00ff79 136px,#7aff43 138px,#9cff18 140px,#c1ff00 142px,#e8ff00 144px,#ffef00 146px,#ffd500 152px,#ffc900 166px,#ffda00 178px,#ffed00 182px,#edff00 184px,#c5ff00 186px,#a0ff14 188px,#7dff3f 190px,#00ff77 192px,#00feff 202px,#006aff 214px,#0068ff 216px,#00fcff 228px,#00ff79 238px,#7aff43 240px,#9cff18 242px,#c1ff00 244px,#e9ff00 246px,#ffef00 248px,#ffd500 254px,#ffc900 268px,#ffda00 280px,#ffed00 284px,#ecff00 286px,#c5ff00 288px,#a0ff14 290px,#7dff3f 292px,#00ff76 294px,#00ffff 304px,#0037ff 320px,#0022ff 322px,#0095ff 332px,#00feff 340px,#00ff76 350px,#7eff3e 352px,#a1ff13 354px,#c6ff00 356px,#eeff00 358px,#ffec00 360px,#ffd000 368px,#ffcc00 384px,#ffe300 394px,#ffef00 396px,#e9ff00 398px,#c4ff00 400px,#a1ff13 402px,#80ff3b 404px,#00ff72 406px,#00fff3 416px,#00f3ff 418px,#0069ff 430px,#0060ff 432px)"></div><div style="height:2px;background:linear-gradient(90deg,#0068ff 0px,#00f2ff 12px,#00fff2 14px,#00ff70 24px,#83ff38 26px,#a4ff0f 28px,#c8ff00 30px,#edff00 32px,#ffed00 34px,#ffd100 42px,#ffcb00 58px,#ffdf00 68px,#ffe800 70px,#fbff00 72px,#abff06 76px,#88ff31 78px,#00ff6e 80px,#00fff9 90px,#0068ff 102px,#0025ff 108px,#0097ff 118px,#00fffe 126px,#00ff74 136px,#81ff3b 138px,#a3ff10 140px,#c9ff00 142px,#f1ff00 144px,#ffeb00 146px,#ffd100 154px,#ffcb00 170px,#ffe000 180px,#ffea00 182px,#f6ff00 184px,#ceff00 186px,#a7ff0b 188px,#84ff37 190px,#00ff72 192px,#00fffd 202px,#006aff 214px,#0068ff 216px,#00feff 228px,#00ff75 238px,#80ff3b 240px,#a3ff10 242px,#caff00 244px,#f2ff00 246px,#ffeb00 248px,#ffd100 256px,#ffcb00 272px,#ffe000 282px,#ffea00 284px,#f5ff00 286px,#cdff00 288px,#a7ff0b 290px,#84ff36 292px,#00ff71 294px,#00fffb 304px,#0039ff 320px,#0025ff 322px,#0098ff 332px,#00fffc 340px,#00ff71 350px,#85ff35 352px,#a8ff0a 354px,#f7ff00 358px,#ffe900 360px,#ffcd00 370px,#ffce00 386px,#ffe100 394px,#ffec00 396px,#f1ff00 398px,#ccff00 400px,#a7ff0b 402px,#86ff34 404px,#00ff6e 406px,#00fff0 416px,#00f5ff 418px,#006aff 430px,#0060ff 432px)"></div><div style="height:2px;background:linear-gradient(90deg,#0068ff 0px,#00f5ff 12px,#00fff0 14px,#00ff6c 24px,#89ff30 26px,#aaff07 28px,#f6ff00 32px,#ffea00 34px,#ffce00 44px,#ffcd00 60px,#ffe600 70px,#fff700 72px,#b2ff00 76px,#8fff29 78px,#00ff69 80px,#00fff5 90px,#00d3ff 94px,#003cff 106px,#0028ff 108px,#0081ff 116px,#00fffa 126px,#00ff6f 136px,#87ff33 138px,#aaff08 140px,#f9ff00 144px,#ffe900 146px,#ffcd00 156px,#ffcd00 172px,#ffe700 182px,#fffc00 184px,#aeff03 188px,#8aff2f 190px,#00ff6d 192px,#00fffb 202px,#006aff 214px,#0068ff 216px,#00fffd 228px,#00ff70 238px,#86ff33 240px,#aaff07 242px,#fbff00 246px,#ffe800 248px,#ffce00 258px,#ffcd00 274px,#ffdf00 282px,#ffe800 284px,#fdff00 286px,#adff03 290px,#8aff2e 292px,#00ff6c 294px,#00fff7 304px,#00d1ff 308px,#003cff 320px,#0027ff 322px,#009bff 332px,#00ebff 338px,#00fff8 340px,#00ff6b 350px,#8bff2d 352px,#afff02 354px,#ffff00 358px,#ffe700 360px,#ffcd00 370px,#ffce00 386px,#ffe000 394px,#ffe900 396px,#faff00 398px,#aeff03 402px,#8cff2c 404px,#00ff69 406px,#00ffed 416px,#00f7ff 418px,#006aff 430px,#0060ff 432px)"></div><div style="height:2px;background:linear-gradient(90deg,#0068ff 0px,#00f7ff 12px,#00ffd3 16px,#00ff67 24px,#8fff29 26px,#b1ff00 28px,#feff00 32px,#ffe800 34px,#ffce00 44px,#ffcd00 60px,#ffe400 70px,#fff200 72px,#e2ff00 74px,#baff00 76px,#95ff21 78px,#72ff4d 80px,#00ff80 82px,#00fff1 90px,#00f2ff 92px,#003fff 106px,#002aff 108px,#0084ff 116px,#00edff 124px,#00fff6 126px,#00ff6a 136px,#8dff2b 138px,#b0ff00 140px,#fffa00 144px,#ffde00 148px,#ffc900 162px,#ffd300 176px,#ffe500 182px,#fff400 184px,#dfff00 186px,#b6ff00 188px,#91ff27 190px,#00ff68 192px,#00fff8 202px,#00b5ff 208px,#006bff 214px,#0068ff 216px,#00fffb 228px,#00ff6b 238px,#8dff2b 240px,#b1ff00 242px,#fff600 246px,#ffde00 250px,#ffc900 264px,#ffd700 280px,#ffe600 284px,#fff600 286px,#b4ff00 290px,#91ff27 292px,#00ff67 294px,#00fff3 304px,#00f0ff 306px,#003fff 320px,#002aff 322px,#009fff 332px,#00efff 338px,#00fff4 340px,#00ff66 350px,#92ff26 352px,#b6ff00 354px,#deff00 356px,#fff400 358px,#ffdd00 362px,#ffca00 374px,#ffd000 388px,#ffe700 396px,#fff800 398px,#b5ff00 402px,#71ff4e 406px,#00ff80 408px,#00ffeb 416px,#00f9ff 418px,#006aff 430px,#0060ff 432px)"></div><div style="height:2px;background:linear-gradient(90deg,#0068ff 0px,#00f9ff 12px,#00ffb5 18px,#00ff7e 22px,#73ff4c 24px,#b8ff00 28px,#e0ff00 30px,#fff400 32px,#ffd800 38px,#ffc900 52px,#ffd600 66px,#ffee00 72px,#eaff00 74px,#c1ff00 76px,#9bff19 78px,#78ff45 80px,#00ff7c 82px,#00ffed 90px,#00f5ff 92px,#0041ff 106px,#002dff 108px,#0087ff 116px,#00f1ff 124px,#00fff2 126px,#00ff82 134px,#70ff4f 136px,#b8ff00 140px,#e0ff00 142px,#fff300 144px,#ffd700 150px,#ffc900 166px,#ffdc00 180px,#ffef00 184px,#e8ff00 186px,#beff00 188px,#97ff1f 190px,#72ff4c 192px,#00ff81 194px,#00fff5 202px,#00d1ff 206px,#006bff 214px,#0069ff 216px,#00eaff 226px,#00fff8 228px,#00ff66 238px,#93ff23 240px,#b9ff00 242px,#e3ff00 244px,#fff100 246px,#ffd700 252px,#ffc900 268px,#ffdc00 282px,#fff100 286px,#e4ff00 288px,#bcff00 290px,#97ff1f 292px,#74ff4b 294px,#00ff7f 296px,#00ffef 304px,#00f4ff 306px,#0041ff 320px,#002cff 322px,#0088ff 330px,#00f3ff 338px,#00fff0 340px,#00ff7e 348px,#74ff4a 350px,#98ff1e 352px,#bdff00 354px,#e6ff00 356px,#fff000 358px,#ffd200 366px,#ffca00 382px,#ffdd00 394px,#fff200 398px,#e3ff00 400px,#bcff00 402px,#99ff1d 404px,#76ff47 406px,#00ff7c 408px,#00fcff 418px,#006aff 430px,#0060ff 432px)"></div><div style="height:2px;background:linear-gradient(90deg,#0068ff 0px,#00fbff 12px,#00ff7a 22px,#79ff45 24px,#9bff1a 26px,#c0ff00 28px,#e8ff00 30px,#fff000 32px,#ffd300 40px,#ffc900 56px,#ffdb00 68px,#ffec00 72px,#f1ff00 74px,#c8ff00 76px,#a2ff12 78px,#7eff3e 80px,#00ff77 82px,#00ffe9 90px,#00f9ff 92px,#0044ff 106px,#002fff 108px,#00a4ff 118px,#00f4ff 124px,#00ffee 126px,#00ff7d 134px,#76ff48 136px,#99ff1c 138px,#bfff00 140px,#e7ff00 142px,#fff000 144px,#ffd700 150px,#ffc900 166px,#ffdb00 180px,#ffec00 184px,#f0ff00 186px,#c6ff00 188px,#9eff17 190px,#78ff45 192px,#00ff7d 194px,#00fff3 202px,#00efff 204px,#006bff 214px,#0069ff 216px,#00ecff 226px,#00fff6 228px,#00ff80 236px,#75ff4a 238px,#9aff1b 240px,#c1ff00 242px,#ecff00 244px,#ffee00 246px,#ffd300 254px,#ffca00 270px,#ffdc00 282px,#ffee00 286px,#ebff00 288px,#c3ff00 290px,#9dff18 292px,#7aff43 294px,#00ff7a 296px,#00ffeb 304px,#00f7ff 306px,#0044ff 320px,#002fff 322px,#008bff 330px,#00f6ff 338px,#00ffd0 342px,#00ff7a 348px,#7aff43 350px,#9eff16 352px,#c4ff00 354px,#edff00 356px,#ffed00 358px,#ffd200 366px,#ffca00 382px,#ffdc00 394px,#ffee00 398px,#ecff00 400px,#c4ff00 402px,#9fff15 404px,#7cff40 406px,#00ff77 408px,#00feff 418px,#006aff 430px,#0060ff 432px)"></div><div style="height:2px;background:linear-gradient(90deg,#0068ff 0px,#00fdff 12px,#00ff76 22px,#7eff3e 24px,#a1ff12 26px,#c7ff00 28px,#f0ff00 30px,#ffe200 32px,#ffbe00 38px,#ffa900 50px,#ffb100 62px,#ffce00 70px,#ffdd00 72px,#f8ff00 74px,#cfff00 76px,#a7ff0b 78px,#83ff37 80px,#00ff72 82px,#00fdff 92px,#0047ff 106px,#0032ff 108px,#008dff 116px,#00f8ff 124px,#00ffb2 130px,#00ff79 134px,#7cff41 136px,#9fff15 138px,#c5ff00 140px,#eeff00 142px,#ffe200 144px,#ffbe00 150px,#ffa900 162px,#ffb700 176px,#ffce00 182px,#ffdd00 184px,#f9ff00 186px,#ceff00 188px,#a4ff0e 190px,#7eff3d 192px,#00ff78 194px,#00fff0 202px,#00f1ff 204px,#006bff 214px,#0069ff 216px,#00eeff 226px,#00fff3 228px,#00ff7b 236px,#7bff42 238px,#a0ff13 240px,#caff00 242px,#f5ff00 244px,#ffdf00 246px,#ffbd00 252px,#ffa800 266px,#ffb700 278px,#ffd000 284px,#ffe000 286px,#f2ff00 288px,#caff00 290px,#a3ff10 292px,#7fff3d 294px,#00ff76 296px,#00fbff 306px,#0046ff 320px,#0031ff 322px,#00a8ff 332px,#00faff 338px,#00ff75 348px,#80ff3c 350px,#a4ff0f 352px,#cbff00 354px,#f4ff00 356px,#ffdf00 358px,#ffbd00 364px,#ffa800 376px,#ffb300 388px,#ffd000 396px,#ffe000 398px,#f4ff00 400px,#cbff00 402px,#a5ff0e 404px,#82ff39 406px,#00ff73 408px,#00fffe 418px,#006aff 430px,#0060ff 432px)"></div><div style="height:2px;background:linear-gradient(90deg,#0068ff 0px,#00fffe 12px,#00ff72 22px,#84ff37 24px,#a8ff0a 26px,#f8ff00 30px,#ffde00 32px,#ffbd00 38px,#ffa800 52px,#ffb600 64px,#ffda00 72px,#fffc00 74px,#adff03 78px,#89ff30 80px,#00ff6e 82px,#00fffe 92px,#0049ff 106px,#0034ff 108px,#0090ff 116px,#00fcff 124px,#00ff74 134px,#81ff3a 136px,#a5ff0e 138px,#ccff00 140px,#f5ff00 142px,#ffdf00 144px,#ffbd00 150px,#ffa900 162px,#ffb600 176px,#ffda00 184px,#fff500 186px,#abff06 190px,#85ff36 192px,#00ff74 194px,#00ffed 202px,#00f3ff 204px,#006bff 214px,#0069ff 216px,#00f0ff 226px,#00fff0 228px,#00ff77 236px,#81ff3b 238px,#a7ff0b 240px,#d2ff00 242px,#feff00 244px,#ffdb00 246px,#ffb700 254px,#ffa800 268px,#ffbc00 280px,#ffdd00 286px,#f9ff00 288px,#a8ff09 292px,#85ff36 294px,#00ff71 296px,#00feff 306px,#0049ff 320px,#0034ff 322px,#00acff 332px,#00feff 338px,#00ff71 348px,#85ff35 350px,#aaff08 352px,#fbff00 356px,#ffdc00 358px,#ffb600 366px,#ffa800 378px,#ffbd00 392px,#ffdc00 398px,#fcff00 400px,#abff06 404px,#88ff32 406px,#00ff6f 408px,#00fffc 418px,#006aff 430px,#0060ff 432px)"></div><div style="height:2px;background:linear-gradient(90deg,#0068ff 0px,#00fffc 12px,#00ff6d 22px,#8aff2f 24px,#aeff03 26px,#fff900 30px,#ffdb00 32px,#ffb700 40px,#ffa800 54px,#ffbb00 66px,#ffd800 72px,#fff000 74px,#dcff00 76px,#b3ff00 78px,#8eff2a 80px,#00ff6a 82px,#00fffa 92px,#0037ff 108px,#0093ff 116px,#00ffff 124px,#00ff70 134px,#86ff34 136px,#aaff07 138px,#fcff00 142px,#ffdc00 144px,#ffb600 152px,#ffa800 164px,#ffb600 176px,#ffd700 184px,#ffec00 186px,#dfff00 188px,#b2ff00 190px,#8bff2e 192px,#00ff6f 194px,#00ffeb 202px,#00f5ff 204px,#006cff 214px,#0069ff 216px,#00f3ff 226px,#00ffee 228px,#00ff72 236px,#87ff33 238px,#aeff03 240px,#daff00 242px,#fff000 244px,#ffd800 246px,#ffb600 254px,#ffa800 268px,#ffbc00 280px,#ffda00 286px,#fffa00 288px,#aeff03 292px,#8aff2f 294px,#00ff6d 296px,#00fffc 306px,#004cff 320px,#0036ff 322px,#0094ff 330px,#00fffd 338px,#00ff6d 348px,#8bff2e 350px,#afff01 352px,#fff500 356px,#ffd900 358px,#ffb600 366px,#ffa800 378px,#ffb600 390px,#ffd900 398px,#fff200 400px,#dbff00 402px,#b2ff00 404px,#8dff2b 406px,#00ff6b 408px,#00fff9 418px,#006bff 430px,#0060ff 432px)"></div><div style="height:2px;background:linear-gradient(90deg,#0069ff 0px,#00fffa 12px,#00ff69 22px,#8fff28 24px,#b5ff00 26px,#deff00 28px,#ffee00 30px,#ffcc00 34px,#ffae00 44px,#ffab00 58px,#ffc100 68px,#ffd600 72px,#ffea00 74px,#e3ff00 76px,#b9ff00 78px,#94ff23 80px,#24ff5f 82px,#00ff83 84px,#00fff7 92px,#00d0ff 96px,#004fff 106px,#0039ff 108px,#00b1ff 118px,#00fffb 124px,#00ff6c 134px,#8bff2d 136px,#b0ff00 138px,#fff500 142px,#ffda00 144px,#ffb600 152px,#ffa800 164px,#ffba00 178px,#ffd500 184px,#ffe600 186px,#e7ff00 188px,#baff00 190px,#91ff26 192px,#00ff6a 194px,#00ffe8 202px,#00f8ff 204px,#006cff 214px,#0069ff 216px,#00f5ff 226px,#00ffeb 228px,#00ff6d 236px,#8dff2b 238px,#b5ff00 240px,#e2ff00 242px,#ffe900 244px,#ffca00 248px,#ffab00 260px,#ffae00 274px,#ffcb00 284px,#ffd800 286px,#fff000 288px,#ddff00 290px,#b4ff00 292px,#8fff29 294px,#00ff69 296px,#00fff9 306px,#0066ff 318px,#0039ff 322px,#0097ff 330px,#00fff9 338px,#00ff69 348px,#90ff28 350px,#b5ff00 352px,#dfff00 354px,#ffee00 356px,#ffd700 358px,#ffb500 366px,#ffa800 378px,#ffbb00 392px,#ffd700 398px,#ffeb00 400px,#e3ff00 402px,#b9ff00 404px,#93ff24 406px,#00ff66 408px,#00fff7 418px,#00d0ff 422px,#006bff 430px,#0060ff 432px)"></div><div style="height:2px;background:linear-gradient(90deg,#0069ff 0px,#00eaff 10px,#00fff7 12px,#00ff83 20px,#71ff4f 22px,#95ff21 24px,#bcff00 26px,#e6ff00 28px,#ffe800 30px,#ffca00 34px,#ffac00 46px,#ffad00 60px,#ffc900 70px,#ffe600 74px,#e9ff00 76px,#bfff00 78px,#99ff1d 80px,#74ff4a 82px,#00ff7f 84px,#00fff3 92px,#00efff 94px,#0051ff 106px,#003cff 108px,#0099ff 116px,#00eaff 122px,#00fff8 124px,#00ff68 134px,#90ff27 136px,#b5ff00 138px,#dfff00 140px,#ffee00 142px,#ffcb00 146px,#ffae00 156px,#ffab00 170px,#ffc800 182px,#ffe200 186px,#f0ff00 188px,#c2ff00 190px,#97ff1e 192px,#36ff5b 194px,#00ff86 196px,#00faff 204px,#006cff 214px,#0069ff 216px,#00f7ff 226px,#00ffc9 230px,#00ff69 236px,#93ff23 238px,#bdff00 240px,#ebff00 242px,#ffe400 244px,#ffc100 250px,#ffaa00 262px,#ffb100 276px,#ffca00 284px,#ffea00 288px,#e3ff00 290px,#b9ff00 292px,#94ff23 294px,#5dff53 296px,#00ff83 298px,#00fff5 306px,#00d1ff 310px,#003bff 322px,#00b5ff 332px,#00ecff 336px,#00fff6 338px,#00ff82 346px,#71ff4f 348px,#95ff21 350px,#bbff00 352px,#e5ff00 354px,#ffe900 356px,#ffca00 360px,#ffad00 370px,#ffab00 384px,#ffc900 396px,#ffe600 400px,#eaff00 402px,#c0ff00 404px,#99ff1c 406px,#74ff4a 408px,#00ff80 410px,#00fff5 418px,#00d1ff 422px,#006bff 430px,#0060ff 432px)"></div><div style="height:2px;background:linear-gradient(90deg,#0069ff 0px,#00ecff 10px,#00fff5 12px,#00ff7f 20px,#76ff48 22px,#9bff1a 24px,#c3ff00 26px,#eeff00 28px,#ffe400 30px,#ffc900 34px,#ffae00 44px,#ffab00 58px,#ffbf00 68px,#ffe300 74px,#efff00 76px,#c5ff00 78px,#9dff17 80px,#79ff44 82px,#00ff7c 84px,#00fff0 92px,#00f2ff 94px,#0054ff 106px,#003eff 108px,#00b6ff 118px,#00edff 122px,#00fff5 124px,#00ff82 132px,#71ff4e 134px,#95ff21 136px,#bbff00 138px,#e4ff00 140px,#ffe900 142px,#ffca00 146px,#ffae00 156px,#ffab00 170px,#ffc700 182px,#ffdf00 186px,#f8ff00 188px,#caff00 190px,#9eff16 192px,#75ff49 194px,#00ff82 196px,#00fcff 204px,#006cff 214px,#006aff 216px,#00f9ff 226px,#00ff85 234px,#71ff4e 236px,#9aff1b 238px,#c5ff00 240px,#f4ff00 242px,#ffe100 244px,#ffc000 250px,#ffaa00 262px,#ffb100 276px,#ffd400 286px,#ffe700 288px,#e8ff00 290px,#bfff00 292px,#99ff1d 294px,#75ff4a 296px,#00ff7f 298px,#00fff2 306px,#00f0ff 308px,#0053ff 320px,#003eff 322px,#009dff 330px,#00efff 336px,#00fff3 338px,#00ff7f 346px,#75ff49 348px,#9aff1b 350px,#c0ff00 352px,#eaff00 354px,#ffe500 356px,#ffc000 362px,#ffa900 374px,#ffb100 388px,#ffd200 398px,#ffe200 400px,#f2ff00 402px,#c7ff00 404px,#9fff15 406px,#7aff43 408px,#00ff7c 410px,#00fff2 418px,#00efff 420px,#006bff 430px,#0060ff 432px)"></div><div style="height:2px;background:linear-gradient(90deg,#0069ff 0px,#00eeff 10px,#00fff3 12px,#00ff7b 20px,#7bff41 22px,#a1ff12 24px,#caff00 26px,#f6ff00 28px,#ffe000 30px,#ffba00 38px,#ffa800 52px,#ffb900 66px,#ffd100 72px,#ffe000 74px,#f4ff00 76px,#caff00 78px,#a2ff11 80px,#7dff3f 82px,#00ff78 84px,#00ffed 92px,#00f5ff 94px,#0056ff 106px,#0041ff 108px,#00b9ff 118px,#00f0ff 122px,#00fff2 124px,#00ff7e 132px,#75ff48 134px,#9aff1c 136px,#c0ff00 138px,#eaff00 140px,#ffe600 142px,#ffc900 146px,#ffab00 158px,#ffad00 172px,#ffc500 182px,#ffdc00 186px,#fff800 188px,#d2ff00 190px,#a4ff0e 192px,#7bff41 194px,#00ff7d 196px,#00ffff 204px,#006cff 214px,#006aff 216px,#00fcff 226px,#00ff81 234px,#77ff46 236px,#a0ff13 238px,#cdff00 240px,#fcff00 242px,#ffdd00 244px,#ffb900 252px,#ffa800 266px,#ffb900 280px,#ffd300 286px,#ffe300 288px,#eeff00 290px,#c4ff00 292px,#9dff17 294px,#79ff44 296px,#00ff7b 298px,#00ffef 306px,#00f3ff 308px,#0056ff 320px,#0040ff 322px,#00a0ff 330px,#00f2ff 336px,#00fff0 338px,#00ff7b 346px,#7aff43 348px,#9eff16 350px,#c6ff00 352px,#f0ff00 354px,#ffe200 356px,#ffbf00 362px,#ffa900 374px,#ffb400 390px,#ffd000 398px,#ffde00 400px,#faff00 402px,#cfff00 404px,#a5ff0e 406px,#7fff3d 408px,#00ff78 410px,#00fff0 418px,#00f1ff 420px,#006bff 430px,#0060ff 432px)"></div><div style="height:2px;background:linear-gradient(90deg,#0069ff 0px,#00f0ff 10px,#00fff0 12px,#00ff77 20px,#81ff3a 22px,#a7ff0b 24px,#d2ff00 26px,#feff00 28px,#ffd500 30px,#ffaf00 36px,#ff9400 48px,#ff9c00 62px,#ffb700 70px,#ffd600 74px,#f9ff00 76px,#cfff00 78px,#a7ff0c 80px,#82ff39 82px,#00ff74 84px,#00ffea 92px,#00f8ff 94px,#0059ff 106px,#0043ff 108px,#00a1ff 116px,#00f3ff 122px,#00ffef 124px,#00ff7b 132px,#7aff43 134px,#9eff16 136px,#c5ff00 138px,#efff00 140px,#ffdc00 142px,#ffba00 146px,#ff9900 156px,#ff9400 168px,#ffad00 180px,#ffd000 186px,#ffea00 188px,#daff00 190px,#abff06 192px,#81ff3a 194px,#00ff79 196px,#00fffd 204px,#006cff 214px,#006aff 216px,#00feff 226px,#00ff7c 234px,#7dff3f 236px,#a7ff0b 238px,#d5ff00 240px,#ffef00 242px,#ffd200 244px,#ffae00 250px,#ff9400 262px,#ff9c00 276px,#ffb900 284px,#ffd900 288px,#f3ff00 290px,#c9ff00 292px,#a2ff12 294px,#7dff3f 296px,#00ff78 298px,#00ffec 306px,#00f6ff 308px,#0059ff 320px,#0042ff 322px,#00bdff 332px,#00f5ff 336px,#00ffd0 340px,#00ff77 346px,#7eff3e 348px,#a3ff10 350px,#cbff00 352px,#f5ff00 354px,#ffd800 356px,#ffb900 360px,#ff9c00 368px,#ff9400 382px,#ffae00 394px,#ffd300 400px,#fff300 402px,#d6ff00 404px,#abff06 406px,#85ff36 408px,#00ff73 410px,#00ffed 418px,#00f3ff 420px,#006bff 430px,#0060ff 432px)"></div><div style="height:2px;background:linear-gradient(90deg,#0069ff 0px,#00f2ff 10px,#00ffee 12px,#00ff72 20px,#86ff33 22px,#adff03 24px,#d9ff00 26px,#ffec00 28px,#ffce00 30px,#ffa800 36px,#ff8c00 48px,#ff9000 60px,#ffb100 70px,#ffd000 74px,#feff00 76px,#abff06 80px,#86ff34 82px,#00ff71 84px,#00fbff 94px,#005bff 106px,#0046ff 108px,#00a4ff 116px,#00f6ff 122px,#00ffcf 126px,#00ff77 132px,#7eff3e 134px,#a2ff11 136px,#caff00 138px,#f4ff00 140px,#ffd600 142px,#ffa900 148px,#ff8e00 158px,#ff9000 172px,#ffaf00 182px,#ffc900 186px,#ffe100 188px,#e2ff00 190px,#b2ff00 192px,#87ff32 194px,#00ff74 196px,#00fffa 204px,#006dff 214px,#006aff 216px,#00fffd 226px,#00ff78 234px,#83ff38 236px,#adff03 238px,#ddff00 240px,#ffe500 242px,#ffbb00 246px,#ff9900 254px,#ff8a00 268px,#ffa000 280px,#ffc000 286px,#ffd400 288px,#f8ff00 290px,#ceff00 292px,#a6ff0c 294px,#82ff3a 296px,#00ff74 298px,#00ffe9 306px,#00f9ff 308px,#005bff 320px,#0045ff 322px,#00a5ff 330px,#00f8ff 336px,#00ffaf 342px,#00ff74 346px,#82ff39 348px,#a7ff0b 350px,#d0ff00 352px,#faff00 354px,#ffd200 356px,#ffa800 362px,#ff8e00 372px,#ff8e00 384px,#ffb000 396px,#ffcc00 400px,#ffe700 402px,#deff00 404px,#b1ff00 406px,#8aff2f 408px,#00ff6f 410px,#00ffeb 418px,#00f5ff 420px,#006cff 430px,#0060ff 432px)"></div><div style="height:2px;background:linear-gradient(90deg,#0069ff 0px,#00f4ff 10px,#00ffeb 12px,#00ff6e 20px,#8cff2c 22px,#b4ff00 24px,#e1ff00 26px,#ffe200 28px,#ffb600 32px,#ff8d00 42px,#ff8200 54px,#ff9800 66px,#ffb800 72px,#ffca00 74px,#ffef00 76px,#d9ff00 78px,#afff01 80px,#8aff2f 82px,#00ff6e 84px,#00feff 94px,#005eff 106px,#0048ff 108px,#00a7ff 116px,#00f9ff 122px,#00ffaf 128px,#00ff74 132px,#82ff39 134px,#a6ff0c 136px,#cfff00 138px,#f9ff00 140px,#ffd000 142px,#ffa200 148px,#ff8600 158px,#ff8500 170px,#ff9e00 180px,#ffc200 186px,#ffd900 188px,#ebff00 190px,#baff00 192px,#8eff2b 194px,#00ff70 196px,#00fff8 204px,#00a7ff 210px,#006dff 214px,#006aff 216px,#00fffb 226px,#00ff73 234px,#89ff30 236px,#b5ff00 238px,#e6ff00 240px,#ffdd00 242px,#ffb400 246px,#ff9200 254px,#ff8200 266px,#ff9200 278px,#ffba00 286px,#ffce00 288px,#fdff00 290px,#aaff07 294px,#85ff35 296px,#00ff71 298px,#00fcff 308px,#005eff 320px,#0047ff 322px,#00c3ff 332px,#00fbff 336px,#00ff71 346px,#86ff34 348px,#abff06 350px,#ffff00 354px,#ffcd00 356px,#ffac00 360px,#ff8800 370px,#ff8400 382px,#ffa000 394px,#ffc500 400px,#ffde00 402px,#e6ff00 404px,#b9ff00 406px,#90ff28 408px,#00ff6b 410px,#00ffe8 418px,#00f7ff 420px,#006cff 430px,#0060ff 432px)"></div><div style="height:2px;background:linear-gradient(90deg,#0069ff 0px,#00f6ff 10px,#00ffca 14px,#00ff6a 20px,#92ff25 22px,#bbff00 24px,#e9ff00 26px,#ffd900 28px,#ffb000 32px,#ff8b00 40px,#ff7900 52px,#ff8a00 64px,#ffb200 72px,#ffc400 74px,#ffe600 76px,#ddff00 78px,#b3ff00 80px,#8eff2a 82px,#00ff6b 84px,#00fffd 94px,#0060ff 106px,#004bff 108px,#00aaff 116px,#00fcff 122px,#00ff71 132px,#86ff35 134px,#aaff07 136px,#fdff00 140px,#ffcb00 142px,#ffa700 146px,#ff8600 154px,#ff7a00 166px,#ff8f00 178px,#ffbb00 186px,#ffd200 188px,#f3ff00 190px,#c1ff00 192px,#94ff23 194px,#00ff6b 196px,#00fff5 204px,#00c7ff 208px,#006dff 214px,#006aff 216px,#00fff9 226px,#00ff6f 234px,#8fff28 236px,#bdff00 238px,#eeff00 240px,#ffd500 242px,#ffad00 246px,#ff8500 256px,#ff7a00 268px,#ff9200 280px,#ffb400 286px,#ffc800 288px,#fff200 290px,#d7ff00 292px,#aeff03 294px,#89ff30 296px,#00ff6e 298px,#00ffff 308px,#0060ff 320px,#004aff 322px,#00abff 330px,#00feff 336px,#00ff6e 346px,#8aff2f 348px,#afff01 350px,#d9ff00 352px,#ffed00 354px,#ffc700 356px,#ff9a00 362px,#ff7d00 372px,#ff7e00 384px,#ff9800 394px,#ffbe00 400px,#ffd600 402px,#edff00 404px,#c0ff00 406px,#96ff20 408px,#00ff67 410px,#00ffe6 418px,#00faff 420px,#006cff 430px,#0060ff 432px)"></div><div style="height:2px;background:linear-gradient(90deg,#006aff 0px,#00f9ff 10px,#00ffa7 16px,#00ff86 18px,#24ff5f 20px,#98ff1e 22px,#c2ff00 24px,#f1ff00 26px,#ffd100 28px,#ffa900 32px,#ff8300 40px,#ff7100 52px,#ff8200 64px,#ffab00 72px,#ffbf00 74px,#ffdf00 76px,#e2ff00 78px,#b7ff00 80px,#91ff26 82px,#00ff68 84px,#00fffb 94px,#004dff 108px,#00acff 116px,#00ffff 122px,#00ff6e 132px,#89ff30 134px,#aeff03 136px,#d7ff00 138px,#fff100 140px,#ffc500 142px,#ff9500 148px,#ff7500 158px,#ff7500 170px,#ff9000 180px,#ffb400 186px,#ffca00 188px,#fcff00 190px,#c9ff00 192px,#9aff1b 194px,#00ff67 196px,#00fff3 204px,#00eaff 206px,#006dff 214px,#006bff 216px,#00e6ff 224px,#00fff6 226px,#00ff6a 234px,#96ff21 236px,#c4ff00 238px,#f7ff00 240px,#ffcd00 242px,#ffa600 246px,#ff7d00 256px,#ff7100 268px,#ff8a00 280px,#ffae00 286px,#ffc200 288px,#ffe800 290px,#dcff00 292px,#b2ff00 294px,#8dff2c 296px,#00ff6b 298px,#00fffd 308px,#004cff 322px,#00c8ff 332px,#00fffd 336px,#00ff6b 346px,#8eff2a 348px,#b3ff00 350px,#ddff00 352px,#ffe500 354px,#ffc100 356px,#ff9300 362px,#ff7500 372px,#ff7500 384px,#ff9100 394px,#ffb700 400px,#ffce00 402px,#f5ff00 404px,#c7ff00 406px,#9cff19 408px,#73ff4b 410px,#00ff83 412px,#00fcff 420px,#006cff 430px,#0060ff 432px)"></div><div style="height:2px;background:linear-gradient(90deg,#006aff 0px,#00fbff 10px,#00ff82 18px,#75ff4a 20px,#9dff17 22px,#caff00 24px,#f9ff00 26px,#ffca00 28px,#ffa100 32px,#ff7b00 40px,#ff6900 52px,#ff7a00 64px,#ffa500 72px,#ffb900 74px,#ffd900 76px,#e6ff00 78px,#bbff00 80px,#95ff22 82px,#63ff52 84px,#00ff83 86px,#00fff8 94px,#00b2ff 100px,#0050ff 108px,#00afff 116px,#00fffd 122px,#00ff6c 132px,#8dff2c 134px,#b1ff00 136px,#dbff00 138px,#ffe700 140px,#ffbf00 142px,#ff8e00 148px,#ff6d00 158px,#ff6d00 170px,#ff8800 180px,#ffad00 186px,#ffc300 188px,#ffeb00 190px,#d1ff00 192px,#a1ff13 194px,#74ff4a 196px,#00ff86 198px,#00fff0 204px,#00ecff 206px,#006dff 214px,#006bff 216px,#00e8ff 224px,#00fff3 226px,#00ff8a 232px,#34ff5b 234px,#9cff19 236px,#ccff00 238px,#fff800 240px,#ffc500 242px,#ff9f00 246px,#ff7a00 254px,#ff6900 266px,#ff7b00 278px,#ffa800 286px,#ffbc00 288px,#ffe100 290px,#dfff00 292px,#b6ff00 294px,#90ff27 296px,#00ff69 298px,#00fffa 308px,#004fff 322px,#00b0ff 330px,#00fffb 336px,#00ff68 346px,#91ff26 348px,#b7ff00 350px,#e1ff00 352px,#ffde00 354px,#ffbb00 356px,#ff8c00 362px,#ff6d00 372px,#ff6d00 384px,#ff8900 394px,#ffb000 400px,#ffc700 402px,#fdff00 404px,#ceff00 406px,#a2ff12 408px,#79ff44 410px,#00ff7f 412px,#00feff 420px,#006cff 430px,#0060ff 432px)"></div><div style="height:2px;background:linear-gradient(90deg,#006aff 0px,#00fdff 10px,#00ff7f 18px,#7aff43 20px,#a3ff10 22px,#d1ff00 24px,#fff400 26px,#ffc200 28px,#ff9a00 32px,#ff6d00 42px,#ff6100 54px,#ff7300 64px,#ff9f00 72px,#ffb300 74px,#ffd300 76px,#e9ff00 78px,#bfff00 80px,#98ff1e 82px,#73ff4b 84px,#00ff80 86px,#00fff5 94px,#00d0ff 98px,#0052ff 108px,#00b1ff 116px,#00fffa 122px,#00ff69 132px,#90ff28 134px,#b5ff00 136px,#dfff00 138px,#ffe000 140px,#ffb900 142px,#ff9300 146px,#ff6e00 154px,#ff6000 164px,#ff7200 176px,#ff9700 184px,#ffbb00 188px,#ffdf00 190px,#daff00 192px,#a7ff0b 194px,#7aff43 196px,#00ff82 198px,#00ffed 204px,#00eeff 206px,#006eff 214px,#006bff 216px,#00eaff 224px,#00fff1 226px,#00ff85 232px,#75ff49 234px,#a3ff11 236px,#d4ff00 238px,#ffe500 240px,#ffbe00 242px,#ff9800 246px,#ff7200 254px,#ff6000 266px,#ff7400 278px,#ffa200 286px,#ffb700 288px,#ffda00 290px,#e3ff00 292px,#b9ff00 294px,#94ff23 296px,#0cff63 298px,#00ff84 300px,#00fff7 308px,#00cfff 312px,#0051ff 322px,#00ceff 332px,#00fff8 336px,#00ff83 344px,#3fff59 346px,#94ff22 348px,#bbff00 350px,#e5ff00 352px,#ffd700 354px,#ffb500 356px,#ff8500 362px,#ff6500 372px,#ff6500 384px,#ff8200 394px,#ffa900 400px,#ffbf00 402px,#ffe900 404px,#d6ff00 406px,#a8ff0a 408px,#7eff3e 410px,#00ff7b 412px,#00fffe 420px,#006cff 430px,#0060ff 432px)"></div><div style="height:2px;background:linear-gradient(90deg,#006aff 0px,#00ffff 10px,#00ff7b 18px,#7fff3c 20px,#a9ff08 22px,#d8ff00 24px,#ffe200 26px,#ffba00 28px,#ff8600 34px,#ff6500 42px,#ff5800 54px,#ff6b00 64px,#ff9900 72px,#ffad00 74px,#ffcd00 76px,#edff00 78px,#c3ff00 80px,#9bff1a 82px,#76ff47 84px,#00ff7e 86px,#00fff3 94px,#00efff 96px,#006bff 106px,#0055ff 108px,#00b4ff 116px,#00fff8 122px,#00ff66 132px,#93ff24 134px,#b9ff00 136px,#e3ff00 138px,#ffd900 140px,#ffb400 142px,#ff8d00 146px,#ff6600 154px,#ff5800 166px,#ff7000 178px,#ff9f00 186px,#ffb400 188px,#ffd400 190px,#e2ff00 192px,#aeff03 194px,#80ff3c 196px,#00ff7e 198px,#00ffeb 204px,#00f0ff 206px,#006eff 214px,#006bff 216px,#00edff 224px,#00ffee 226px,#00ff81 232px,#7bff41 234px,#a9ff08 236px,#ddff00 238px,#ffd900 240px,#ffb600 242px,#ff8400 248px,#ff6000 258px,#ff5a00 270px,#ff7400 280px,#ff9b00 286px,#ffb100 288px,#ffd400 290px,#e7ff00 292px,#bdff00 294px,#97ff1f 296px,#72ff4d 298px,#00ff81 300px,#00fff5 308px,#00d2ff 312px,#0054ff 322px,#00d0ff 332px,#00fff6 336px,#00ff81 344px,#73ff4c 346px,#98ff1e 348px,#beff00 350px,#e9ff00 352px,#ffd100 354px,#ffb000 356px,#ff8b00 360px,#ff6500 368px,#ff5900 380px,#ff6b00 390px,#ff9200 398px,#ffb700 402px,#ffdc00 404px,#ddff00 406px,#aeff03 408px,#84ff37 410px,#00ff77 412px,#00fffc 420px,#006dff 430px,#0060ff 432px)"></div><div style="height:2px;background:linear-gradient(90deg,#006aff 0px,#00fffd 10px,#00ff76 18px,#85ff35 20px,#b0ff01 22px,#e0ff00 24px,#ffd700 26px,#ffb200 28px,#ff7e00 34px,#ff5800 44px,#ff5100 56px,#ff6b00 66px,#ff9200 72px,#ffa700 74px,#ffc700 76px,#f0ff00 78px,#c6ff00 80px,#9eff16 82px,#79ff44 84px,#00ff7b 86px,#00fff0 94px,#00f1ff 96px,#0057ff 108px,#00b6ff 116px,#00edff 120px,#00fff5 122px,#00ff82 130px,#72ff4d 132px,#96ff20 134px,#bcff00 136px,#e6ff00 138px,#ffd300 140px,#ffae00 142px,#ff7800 148px,#ff5400 158px,#ff5400 170px,#ff7100 180px,#ff9800 186px,#ffac00 188px,#ffcb00 190px,#eaff00 192px,#b5ff00 194px,#86ff34 196px,#00ff79 198px,#00ffe8 204px,#00f2ff 206px,#006eff 214px,#006bff 216px,#00efff 224px,#00ffec 226px,#00ff7d 232px,#81ff3a 234px,#b0ff00 236px,#e5ff00 238px,#ffcf00 240px,#ff9900 244px,#ff6900 252px,#ff5000 264px,#ff5800 274px,#ff7700 282px,#ffab00 288px,#ffcd00 290px,#eaff00 292px,#c0ff00 294px,#9aff1c 296px,#75ff49 298px,#00ff7f 300px,#00fff2 308px,#00f0ff 310px,#0056ff 322px,#00d3ff 332px,#00eeff 334px,#00fff3 336px,#00ff7e 344px,#76ff48 346px,#9bff1b 348px,#c2ff00 350px,#ecff00 352px,#ffcb00 354px,#ffaa00 356px,#ff7700 362px,#ff5400 372px,#ff5400 384px,#ff7200 394px,#ff9a00 400px,#ffb000 402px,#ffd200 404px,#e5ff00 406px,#b4ff00 408px,#89ff30 410px,#00ff73 412px,#00fff9 420px,#006dff 430px,#0060ff 432px)"></div><div style="height:2px;background:linear-gradient(90deg,#006aff 0px,#00fffa 10px,#00ff72 18px,#8bff2e 20px,#b7ff00 22px,#e8ff00 24px,#ffcc00 26px,#ffab00 28px,#ff7600 34px,#ff5000 44px,#ff4800 56px,#ff6400 66px,#ff8c00 72px,#ffa100 74px,#ffc100 76px,#f3ff00 78px,#c9ff00 80px,#a1ff12 82px,#7cff40 84px,#00ff79 86px,#00ffee 94px,#00f4ff 96px,#006fff 106px,#005aff 108px,#00b9ff 116px,#00efff 120px,#00fff3 122px,#00ff7f 130px,#74ff4a 132px,#99ff1d 134px,#bfff00 136px,#e9ff00 138px,#ffcd00 140px,#ffa800 142px,#ff7100 148px,#ff5000 156px,#ff4700 166px,#ff6000 178px,#ff9000 186px,#ffc200 190px,#f3ff00 192px,#bdff00 194px,#8cff2d 196px,#00ff75 198px,#00ffe5 204px,#00f5ff 206px,#006eff 214px,#006bff 216px,#00f1ff 224px,#00ffe9 226px,#00ff78 232px,#87ff32 234px,#b8ff00 236px,#eeff00 238px,#ffc600 240px,#ff9200 244px,#ff6100 252px,#ff4700 264px,#ff5000 274px,#ff7000 282px,#ffa500 288px,#ffc800 290px,#edff00 292px,#c3ff00 294px,#9cff18 296px,#78ff45 298px,#00ff7c 300px,#00fff0 308px,#00f2ff 310px,#0059ff 322px,#00baff 330px,#00f1ff 334px,#00fff1 336px,#00ff7c 344px,#79ff45 346px,#9dff17 348px,#c5ff00 350px,#efff00 352px,#ffc500 354px,#ffa400 356px,#ff6f00 362px,#ff4b00 372px,#ff4c00 384px,#ff6a00 394px,#ff9300 400px,#ffa800 402px,#ffc800 404px,#edff00 406px,#bbff00 408px,#8fff29 410px,#00ff6f 412px,#00fff7 420px,#00c6ff 424px,#006dff 430px,#0060ff 432px)"></div><div style="height:2px;background:linear-gradient(90deg,#006aff 0px,#00e5ff 8px,#00fff8 10px,#00ff6e 18px,#90ff27 20px,#beff00 22px,#f0ff00 24px,#ffc300 26px,#ff8d00 30px,#ff5a00 38px,#ff4000 48px,#ff4200 58px,#ff5c00 66px,#ff8500 72px,#ffbb00 76px,#f6ff00 78px,#ccff00 80px,#a4ff0f 82px,#7fff3d 84px,#00ff77 86px,#00ffec 94px,#00f6ff 96px,#0072ff 106px,#005cff 108px,#00bbff 116px,#00f2ff 120px,#00fff0 122px,#00ff7d 130px,#77ff47 132px,#9bff1a 134px,#c2ff00 136px,#ecff00 138px,#ffc700 140px,#ffa200 142px,#ff7800 146px,#ff4e00 154px,#ff3e00 164px,#ff4b00 174px,#ff6c00 182px,#ff9d00 188px,#ffb900 190px,#fcff00 192px,#c5ff00 194px,#92ff25 196px,#00ff70 198px,#00ffe2 204px,#00f7ff 206px,#006fff 214px,#006cff 216px,#00f3ff 224px,#00ffe6 226px,#00ff74 232px,#8eff2b 234px,#bfff00 236px,#f6ff00 238px,#ffbd00 240px,#ff8a00 244px,#ff5900 252px,#ff4000 262px,#ff4300 272px,#ff5d00 280px,#ff8800 286px,#ff9f00 288px,#ffc200 290px,#f0ff00 292px,#c6ff00 294px,#9fff15 296px,#7bff42 298px,#00ff7a 300px,#00ffee 308px,#00f4ff 310px,#005bff 322px,#00d7ff 332px,#00f3ff 334px,#00ffef 336px,#00ff7a 344px,#7bff41 346px,#a0ff14 348px,#c8ff00 350px,#f2ff00 352px,#ffc000 354px,#ff9e00 356px,#ff6800 362px,#ff4700 370px,#ff3f00 380px,#ff5900 392px,#ff8b00 400px,#ffbf00 404px,#f5ff00 406px,#c3ff00 408px,#95ff22 410px,#00ff6b 412px,#00fff5 420px,#00c7ff 424px,#006dff 430px,#0060ff 432px)"></div><div style="height:2px;background:linear-gradient(90deg,#006bff 0px,#00e6ff 8px,#00fff6 10px,#00ff6a 18px,#96ff20 20px,#c5ff00 22px,#f7ff00 24px,#ffba00 26px,#ff8600 30px,#ff5200 38px,#ff3600 50px,#ff3e00 60px,#ff6000 68px,#ff9500 74px,#ffb600 76px,#f9ff00 78px,#cfff00 80px,#a6ff0c 82px,#81ff3a 84px,#00ff75 86px,#00ffe9 94px,#00f8ff 96px,#005fff 108px,#00beff 116px,#00f4ff 120px,#00ffee 122px,#00ff7b 130px,#7aff43 132px,#9eff16 134px,#c5ff00 136px,#efff00 138px,#ffc100 140px,#ff9c00 142px,#ff6300 148px,#ff3f00 156px,#ff3700 168px,#ff5000 178px,#ff8100 186px,#ffb100 190px,#ffe700 192px,#cdff00 194px,#99ff1d 196px,#00ff6b 198px,#00f9ff 206px,#006fff 214px,#006cff 216px,#00f5ff 224px,#00ffbd 228px,#00ff6f 232px,#94ff23 234px,#c7ff00 236px,#fffd00 238px,#ffb400 240px,#ff8300 244px,#ff5100 252px,#ff3800 262px,#ff3a00 272px,#ff5600 280px,#ff8200 286px,#ff9900 288px,#ffbc00 290px,#f3ff00 292px,#c9ff00 294px,#a1ff12 296px,#7dff3f 298px,#00ff78 300px,#00ffeb 308px,#00f7ff 310px,#005eff 322px,#00bfff 330px,#00f6ff 334px,#00ffd0 338px,#00ff78 344px,#7eff3e 346px,#a3ff11 348px,#cbff00 350px,#f5ff00 352px,#ffba00 354px,#ff9800 356px,#ff6100 362px,#ff3f00 370px,#ff3600 380px,#ff4a00 390px,#ff7300 398px,#ff9900 402px,#ffb600 404px,#fdff00 406px,#caff00 408px,#9bff1b 410px,#00ff66 412px,#00fff2 420px,#00eaff 422px,#006dff 430px,#0060ff 432px)"></div><div style="height:2px;background:linear-gradient(90deg,#0000ff 0px,#0000ff 12px,#00ffae 14px,#00ff8a 16px,#2aff5d 18px,#9cff19 20px,#ccff00 22px,#fff700 24px,#ffb100 26px,#ff7e00 30px,#ff4a00 38px,#ff2f00 48px,#ff3100 58px,#ff4d00 66px,#ff7800 72px,#ffb000 76px,#fbff00 78px,#a9ff09 82px,#84ff37 84px,#00ff73 86px,#00fbff 96px,#0077ff 106px,#0061ff 108px,#00c0ff 116px,#00f6ff 120px,#00ffd0 124px,#00ff79 130px,#7cff40 132px,#a0ff14 134px,#c7ff00 136px,#f1ff00 138px,#ffbb00 140px,#ff9600 142px,#ff5c00 148px,#ff3700 156px,#ff2d00 166px,#ff4000 176px,#ff6900 184px,#ff8d00 188px,#ffa900 190px,#ffd700 192px,#d5ff00 194px,#9fff15 196px,#00ff67 198px,#00ff8e 200px,#0000ff 202px,#0000ff 228px,#00ff92 230px,#00ff6b 232px,#9aff1b 234px,#cfff00 236px,#ffe000 238px,#ffac00 240px,#ff7b00 244px,#ff4900 252px,#ff2d00 264px,#ff3700 274px,#ff5a00 282px,#ff7b00 286px,#ffb700 290px,#f5ff00 292px,#ccff00 294px,#a4ff0f 296px,#80ff3c 298px,#00ff76 300px,#00ffe9 308px,#00f9ff 310px,#0060ff 322px,#00dcff 332px,#00f8ff 334px,#00ffcd 338px,#00ff76 344px,#80ff3b 346px,#a5ff0e 348px,#cdff00 350px,#f7ff00 352px,#ffb400 354px,#ff7a00 358px,#ff4400 366px,#ff2d00 376px,#ff3b00 388px,#ff5e00 396px,#ff9100 402px,#ffae00 404px,#ffe500 406px,#d1ff00 408px,#a0ff13 410px,#74ff4b 412px,#00ff86 414px,#00ffaa 416px,#0000ff 418px,#0000ff 432px)"></div><div style="height:2px;background:linear-gradient(90deg,#0000fd 0px,#0000ff 20px,#d4ff00 22px,#ffde00 24px,#ffa900 26px,#ff7600 30px,#ff4200 38px,#ff2700 48px,#ff2900 58px,#ff4500 66px,#ff7200 72px,#ffab00 76px,#feff00 78px,#abff06 82px,#86ff34 84px,#00ff71 86px,#00fdff 96px,#0079ff 106px,#0064ff 108px,#00c2ff 116px,#00f8ff 120px,#00ffb1 126px,#00ff77 130px,#7eff3e 132px,#a2ff11 134px,#caff00 136px,#f3ff00 138px,#ffb600 140px,#ff9100 142px,#ff6400 146px,#ff3500 154px,#ff2400 164px,#ff3800 176px,#ff6100 184px,#ffa000 190px,#ffcb00 192px,#0000ff 194px,#0000ff 236px,#ffd100 238px,#ffa400 240px,#ff7300 244px,#ff4000 252px,#ff2600 262px,#ff2900 272px,#ff4700 280px,#ff7500 286px,#ffb100 290px,#f8ff00 292px,#ceff00 294px,#a6ff0c 296px,#82ff39 298px,#00ff74 300px,#00fbff 310px,#0063ff 322px,#00c3ff 330px,#00faff 334px,#00ff74 344px,#83ff38 346px,#a7ff0b 348px,#d0ff00 350px,#faff00 352px,#ffaf00 354px,#ff8c00 356px,#ff5200 362px,#ff2e00 370px,#ff2500 380px,#ff3900 390px,#ff6400 398px,#ff8900 402px,#ffa500 404px,#ffd500 406px,#d9ff00 408px,#0000ff 410px,#0000fd 432px)"></div><div style="height:2px;background:linear-gradient(90deg,#0000fb 0px,#0000ff 26px,#ff8400 28px,#ff4f00 34px,#ff2500 44px,#ff1d00 56px,#ff3300 64px,#ff5900 70px,#ff8400 74px,#ffa500 76px,#fff100 78px,#d6ff00 80px,#adff04 82px,#88ff31 84px,#00ff6f 86px,#00ffff 96px,#0066ff 108px,#00c4ff 116px,#00fbff 120px,#00ff75 130px,#80ff3b 132px,#a5ff0e 134px,#ccff00 136px,#f6ff00 138px,#ffb100 140px,#ff8b00 142px,#ff5d00 146px,#ff2d00 154px,#ff1b00 164px,#ff2900 174px,#ff4c00 182px,#ff6a00 186px,#0000ff 188px,#0000ff 242px,#ff6c00 244px,#ff3800 252px,#ff1e00 262px,#ff2100 272px,#ff3f00 280px,#ff6f00 286px,#ff8800 288px,#ffac00 290px,#faff00 292px,#a8ff0a 296px,#84ff36 298px,#00ff72 300px,#00fdff 310px,#0065ff 322px,#00e1ff 332px,#00fcff 334px,#00ff72 344px,#85ff36 346px,#a9ff08 348px,#fcff00 352px,#ffaa00 354px,#ff8600 356px,#ff4b00 362px,#ff2600 370px,#ff1c00 380px,#ff3100 390px,#ff5c00 398px,#ff8100 402px,#0000ff 404px,#0000fb 432px)"></div><div style="height:2px;background:linear-gradient(90deg,#0000f7 0px,#0000ff 32px,#ff4900 34px,#ff2400 42px,#ff1500 52px,#ff2500 62px,#ff5300 70px,#ff7f00 74px,#ffa100 76px,#ffe600 78px,#d8ff00 80px,#afff01 82px,#8aff2f 84px,#00ff6d 86px,#00fffd 96px,#0069ff 108px,#00e1ff 118px,#00fdff 120px,#00ff73 130px,#83ff38 132px,#a7ff0c 134px,#ceff00 136px,#f8ff00 138px,#ffac00 140px,#ff8600 142px,#ff5800 146px,#ff3000 152px,#ff1700 160px,#ff1a00 170px,#ff3a00 180px,#0000ff 182px,#0000f9 228px,#0000ff 248px,#ff3c00 250px,#ff1a00 260px,#ff1700 270px,#ff2f00 278px,#ff5600 284px,#ff8300 288px,#ffa700 290px,#fcff00 292px,#aaff07 296px,#86ff34 298px,#00ff70 300px,#00ffff 310px,#0068ff 322px,#00c8ff 330px,#00feff 334px,#00ff70 344px,#87ff33 346px,#abff06 348px,#feff00 352px,#ffa500 354px,#ff6900 358px,#ff3900 364px,#ff1a00 372px,#ff1a00 384px,#ff3c00 394px,#ff4800 396px,#0000ff 398px,#0000f7 432px)"></div><div style="height:2px;background:linear-gradient(90deg,#0000f2 0px,#0000ff 36px,#ff2d00 38px,#ff1100 48px,#ff1400 58px,#ff3200 66px,#ff6200 72px,#ff7a00 74px,#ff9d00 76px,#ffde00 78px,#daff00 80px,#b1ff00 82px,#8cff2c 84px,#00ff6b 86px,#00fffb 96px,#006bff 108px,#00c9ff 116px,#00ffff 120px,#00ff72 130px,#84ff36 132px,#a8ff09 134px,#faff00 138px,#ffa800 140px,#ff8200 142px,#ff5300 146px,#ff2100 154px,#ff0e00 164px,#ff1c00 174px,#ff2300 176px,#0000ff 178px,#0000f4 224px,#0000ff 252px,#ff2400 254px,#ff0e00 266px,#ff2000 276px,#ff4100 282px,#ff6500 286px,#ffa300 290px,#feff00 292px,#acff05 296px,#88ff31 298px,#00ff6f 300px,#00fffc 310px,#006aff 322px,#00caff 330px,#00fffe 334px,#00ff6e 344px,#89ff31 346px,#adff04 348px,#d6ff00 350px,#fff200 352px,#ffa100 354px,#ff7d00 356px,#ff4000 362px,#ff1900 370px,#ff0f00 380px,#ff2400 390px,#ff2c00 392px,#0000ff 394px,#0000f2 432px)"></div><div style="height:2px;background:linear-gradient(90deg,#0000ed 0px,#0000ff 42px,#ff1200 44px,#ff0800 54px,#ff2100 64px,#ff4900 70px,#ff7600 74px,#ff9800 76px,#ffd800 78px,#dcff00 80px,#b3ff00 82px,#8eff2a 84px,#00ff6a 86px,#00fff9 96px,#006eff 108px,#00cbff 116px,#00fffd 120px,#00ff70 130px,#86ff34 132px,#aaff07 134px,#fbff00 138px,#ffa400 140px,#ff7d00 142px,#ff4d00 146px,#ff1b00 154px,#ff0800 162px,#ff1100 172px,#0000ff 174px,#0000ed 220px,#0000ff 258px,#ff0d00 260px,#ff0a00 270px,#ff2300 278px,#ff4b00 284px,#ff7a00 288px,#ff9f00 290px,#fff400 292px,#d6ff00 294px,#aeff03 296px,#8aff2f 298px,#00ff6d 300px,#00fffa 310px,#006dff 322px,#00fffc 334px,#00ff6d 344px,#8bff2e 346px,#afff01 348px,#d8ff00 350px,#ffe700 352px,#ff9d00 354px,#ff5f00 358px,#ff2d00 364px,#ff0e00 372px,#ff0a00 382px,#ff1700 388px,#0000ff 390px,#0000ed 432px)"></div><div style="height:2px;background:linear-gradient(90deg,#0000e7 0px,#0000ff 46px,#ff0400 48px,#ff0700 58px,#ff2600 66px,#ff5800 72px,#ff9400 76px,#ffd200 78px,#deff00 80px,#b5ff00 82px,#90ff28 84px,#00ff68 86px,#00fff7 96px,#00d1ff 100px,#0070ff 108px,#00fffb 120px,#00ff6e 130px,#88ff31 132px,#acff05 134px,#fdff00 138px,#ff9f00 140px,#ff5d00 144px,#ff2900 150px,#ff0800 158px,#ff0200 166px,#0000ff 168px,#0000e7 218px,#0000ff 262px,#ff0200 264px,#ff0d00 274px,#ff3500 282px,#ff5b00 286px,#ff9b00 290px,#ffe800 292px,#d8ff00 294px,#afff01 296px,#8cff2d 298px,#00ff6b 300px,#00fff8 310px,#00b6ff 316px,#006fff 322px,#00fffa 334px,#00ff6b 344px,#8cff2c 346px,#b1ff00 348px,#daff00 350px,#ffdf00 352px,#ff9800 354px,#ff5a00 358px,#ff2700 364px,#ff0700 372px,#ff0400 382px,#0000ff 384px,#0000e7 432px)"></div><div style="height:2px;background:linear-gradient(90deg,#0000e0 0px,#0000ff 50px,#fb0000 52px,#ff0500 60px,#ff2e00 68px,#ff6d00 74px,#ff9000 76px,#ffcd00 78px,#e0ff00 80px,#b7ff00 82px,#92ff25 84px,#00ff67 86px,#00fff5 96px,#00d3ff 100px,#0073ff 108px,#00b6ff 114px,#00fff9 120px,#00ff6d 130px,#8aff2f 132px,#adff03 134px,#ffff00 138px,#ff9b00 140px,#ff7400 142px,#ff3200 148px,#ff0700 156px,#fc0000 162px,#0000ff 164px,#0000e0 216px,#0000ff 266px,#fc0000 268px,#ff0600 274px,#ff3000 282px,#ff5600 286px,#ff9600 290px,#ffe100 292px,#daff00 294px,#b1ff00 296px,#8dff2b 298px,#00ff6a 300px,#00fff6 310px,#00d2ff 314px,#0072ff 322px,#00d1ff 330px,#00fff8 334px,#00ff6a 344px,#8eff2a 346px,#b2ff00 348px,#dbff00 350px,#ffd900 352px,#ff9400 354px,#ff5500 358px,#ff2100 364px,#ff0100 372px,#fb0000 378px,#0000ff 380px,#0000e0 432px)"></div><div style="height:2px;background:linear-gradient(90deg,#0000da 0px,#0000f0 32px,#0000ff 54px,#fd0000 56px,#ff0c00 62px,#ff3e00 70px,#ff6c00 74px,#ff8f00 76px,#ffca00 78px,#e1ff00 80px,#b8ff00 82px,#93ff24 84px,#3cff5a 86px,#00ff82 88px,#00fff3 96px,#00f0ff 98px,#0075ff 108px,#00d1ff 116px,#00fff8 120px,#00ff6c 130px,#8bff2d 132px,#afff01 134px,#d7ff00 136px,#fff000 138px,#ff9a00 140px,#ff7300 142px,#ff3100 148px,#ff0700 156px,#ff0100 158px,#0000ff 160px,#0000da 214px,#0000ea 242px,#0000ff 270px,#ff0100 272px,#ff2200 280px,#ff5600 286px,#ff7000 288px,#ff9500 290px,#ffdb00 292px,#dbff00 294px,#b3ff00 296px,#8fff29 298px,#00ff69 300px,#00fff5 310px,#00d4ff 314px,#0074ff 322px,#00d2ff 330px,#00fff6 334px,#00ff68 344px,#90ff28 346px,#b4ff00 348px,#ddff00 350px,#ffd500 352px,#ff9300 354px,#ff5400 358px,#ff2100 364px,#ff0100 372px,#fd0000 374px,#0000ff 376px,#0000da 430px,#0000da 432px)"></div><div style="height:2px;background:linear-gradient(90deg,#0000d3 0px,#0000e6 28px,#0000ff 58px,#ff0500 60px,#ff2d00 68px,#ff6b00 74px,#ff8d00 76px,#ffc700 78px,#e2ff00 80px,#b9ff00 82px,#94ff22 84px,#70ff4f 86px,#00ff82 88px,#00fff3 96px,#00f0ff 98px,#0075ff 108px,#00b8ff 114px,#00ecff 118px,#00fff7 120px,#00ff6b 130px,#8cff2c 132px,#b0ff00 134px,#d8ff00 136px,#ffe700 138px,#ff9800 140px,#ff5700 144px,#ff2300 150px,#ff0e00 154px,#0000ff 156px,#0000e6 186px,#0000d3 214px,#0000e3 242px,#0000ff 272px,#0000ff 274px,#ff0d00 276px,#ff4000 284px,#ff6f00 288px,#ff9400 290px,#ffd700 292px,#dcff00 294px,#b4ff00 296px,#90ff28 298px,#00ff68 300px,#00fff4 310px,#00efff 312px,#0074ff 322px,#00d3ff 330px,#00fff6 334px,#00ff68 344px,#91ff27 346px,#b5ff00 348px,#deff00 350px,#ffd100 352px,#ff9200 354px,#ff5400 358px,#ff2100 364px,#ff0600 370px,#0000ff 372px,#0000e6 402px,#0000d3 430px,#0000d3 432px)"></div><div style="height:2px;background:linear-gradient(90deg,#0000cb 0px,#0000df 28px,#0000ff 60px,#0000ff 62px,#ff1500 64px,#ff3d00 70px,#ff6a00 74px,#ff8c00 76px,#ffc400 78px,#e3ff00 80px,#baff00 82px,#95ff21 84px,#71ff4e 86px,#00ff81 88px,#00fff2 96px,#00f0ff 98px,#0075ff 108px,#00b8ff 114px,#00ecff 118px,#00fff7 120px,#00ff6a 130px,#8dff2b 132px,#b1ff00 134px,#daff00 136px,#ffe100 138px,#ff9700 140px,#ff5700 144px,#ff2300 150px,#0000ff 152px,#0000ea 178px,#0000cd 208px,#0000d4 234px,#0000fe 274px,#0000ff 278px,#ff2100 280px,#ff5400 286px,#ff9300 290px,#ffd300 292px,#deff00 294px,#b5ff00 296px,#91ff27 298px,#00ff67 300px,#00fff4 310px,#00efff 312px,#0074ff 322px,#00eeff 332px,#00fff5 334px,#00ff67 344px,#91ff26 346px,#b6ff00 348px,#dfff00 350px,#ffce00 352px,#ff9000 354px,#ff5300 358px,#ff2100 364px,#ff1600 366px,#0000ff 368px,#0000ea 394px,#0000cd 424px,#0000cb 432px)"></div><div style="height:2px;background:linear-gradient(90deg,#0000c5 0px,#0000d8 28px,#0000fd 60px,#0000ff 66px,#ff2d00 68px,#ff6a00 74px,#ff8b00 76px,#ffc200 78px,#e5ff00 80px,#bbff00 82px,#96ff20 84px,#72ff4d 86px,#00ff81 88px,#00fff2 96px,#00f0ff 98px,#0075ff 108px,#00d2ff 116px,#00fff7 120px,#00ff6a 130px,#8eff2a 132px,#b2ff00 134px,#dbff00 136px,#ffdd00 138px,#ff9600 140px,#ff5600 144px,#ff4100 146px,#0000ff 148px,#0000ec 172px,#0000c8 204px,#0000cb 232px,#0000fd 276px,#0000ff 282px,#ff3f00 284px,#ff6e00 288px,#ff9100 290px,#ffd000 292px,#dfff00 294px,#b6ff00 296px,#91ff26 298px,#00ff67 300px,#00fff4 310px,#00efff 312px,#0074ff 322px,#00eeff 332px,#00fff5 334px,#00ff66 344px,#92ff25 346px,#b7ff00 348px,#e0ff00 350px,#ffcb00 352px,#ff8f00 354px,#ff5300 358px,#ff2e00 362px,#0000ff 364px,#0000ec 388px,#0000c6 422px,#0000c5 432px)"></div><div style="height:2px;background:linear-gradient(90deg,#0000be 0px,#0000d1 28px,#0000fc 62px,#0000ff 70px,#ff5000 72px,#ff8a00 76px,#ffc000 78px,#e6ff00 80px,#bcff00 82px,#97ff1f 84px,#73ff4c 86px,#00ff80 88px,#00fff2 96px,#00f1ff 98px,#0075ff 108px,#00d2ff 116px,#00fff6 120px,#00ff69 130px,#8fff29 132px,#b3ff00 134px,#dcff00 136px,#ffd900 138px,#ff9500 140px,#ff7000 142px,#0000ff 144px,#0000ec 168px,#0000c2 202px,#0000c3 230px,#0000fd 280px,#0000ff 286px,#ff6d00 288px,#ff9000 290px,#ffce00 292px,#e0ff00 294px,#b7ff00 296px,#92ff25 298px,#00ff66 300px,#00fff4 310px,#00efff 312px,#0074ff 322px,#00eeff 332px,#00fff5 334px,#00ff83 342px,#0fff63 344px,#93ff24 346px,#b8ff00 348px,#e1ff00 350px,#ffc900 352px,#ff8e00 354px,#ff5200 358px,#0000ff 360px,#0000e9 386px,#0000c2 418px,#0000be 432px)"></div><div style="height:2px;background:linear-gradient(90deg,#0000b7 0px,#0000ca 28px,#0000fc 66px,#0000ff 76px,#ffbe00 78px,#e7ff00 80px,#bdff00 82px,#97ff1f 84px,#73ff4b 86px,#00ff80 88px,#00fff2 96px,#00f1ff 98px,#0075ff 108px,#00d2ff 116px,#00fff6 120px,#00ff69 130px,#8fff28 132px,#b4ff00 134px,#ddff00 136px,#0000ff 138px,#0000ee 162px,#0000bc 200px,#0000bc 230px,#0000fd 284px,#0000ff 292px,#e1ff00 294px,#b8ff00 296px,#93ff24 298px,#22ff5f 300px,#00ff83 302px,#00fff3 310px,#00f0ff 312px,#0074ff 322px,#00eeff 332px,#00fff4 334px,#00ff83 342px,#94ff23 346px,#b9ff00 348px,#e2ff00 350px,#ffc700 352px,#0000ff 354px,#0000ee 378px,#0000bc 416px,#0000b7 432px)"></div><div style="height:2px;background:linear-gradient(90deg,#0000b1 0px,#0000c3 28px,#0000fc 70px,#0000ff 82px,#98ff1e 84px,#74ff4a 86px,#00ff7f 88px,#00fff1 96px,#00f1ff 98px,#0075ff 108px,#00d2ff 116px,#00fff6 120px,#00ff68 130px,#0000ff 132px,#0000f1 156px,#0000b9 196px,#0000b4 226px,#0000d5 256px,#0000fd 288px,#0000ff 298px,#59ff54 300px,#00ff82 302px,#00fff3 310px,#00f0ff 312px,#0074ff 322px,#00eeff 332px,#00fff4 334px,#00ff82 342px,#70ff4f 344px,#94ff22 346px,#0000ff 348px,#0000f1 372px,#0000b7 414px,#0000b1 432px)"></div><div style="height:2px;background:linear-gradient(90deg,#0000ac 0px,#0000bc 28px,#0000fa 72px,#0000ff 88px,#00ff9c 90px,#00fff1 96px,#00f1ff 98px,#0075ff 108px,#00d3ff 116px,#00fff6 120px,#00ffbe 124px,#0000ff 126px,#0000ee 154px,#0000b3 196px,#0000ae 226px,#0000ca 254px,#0000fa 288px,#0000ff 304px,#00ffbb 306px,#00fff3 310px,#00f0ff 312px,#0074ff 322px,#00d4ff 330px,#00efff 332px,#00fff4 334px,#00ff9f 340px,#0000ff 342px,#0000ee 370px,#0000b3 412px,#0000ac 432px)"></div><div style="height:2px;background:linear-gradient(90deg,#0000a7 0px,#0000b8 30px,#0000f8 74px,#0000ff 100px,#00bcff 102px,#0075ff 108px,#00a0ff 112px,#0000ff 114px,#0000f5 144px,#0000af 194px,#0000a9 226px,#0000c7 256px,#0000f8 290px,#0000ff 316px,#00a2ff 318px,#0074ff 322px,#00b9ff 328px,#0000ff 330px,#0000f5 360px,#0000af 410px,#0000a7 432px)"></div><div style="height:2px;background:linear-gradient(90deg,#0000a3 0px,#0000b2 30px,#0000f7 78px,#0000fd 124px,#0000e5 152px,#0000ad 190px,#0000a3 222px,#0000ba 252px,#0000f7 294px,#0000fd 340px,#0000e5 368px,#0000ad 406px,#0000a3 432px)"></div><div style="height:2px;background:linear-gradient(90deg,#00009f 0px,#0000b1 34px,#0000f4 80px,#0000fc 118px,#0000e7 146px,#0000a9 188px,#0000a0 224px,#0000b6 254px,#0000f4 296px,#0000fc 334px,#0000e7 362px,#0000a9 404px,#00009f 432px)"></div><div style="height:2px;background:linear-gradient(90deg,#00009b 0px,#0000ac 34px,#0000f2 84px,#0000f9 118px,#0000de 148px,#0000a6 186px,#00009c 224px,#0000b3 256px,#0000f3 300px,#0000f8 336px,#0000da 366px,#0000a6 402px,#00009b 432px)"></div><div style="height:2px;background:linear-gradient(90deg,#000098 0px,#0000ab 38px,#0000ef 86px,#0000f4 120px,#0000d7 148px,#0000a3 184px,#000099 224px,#0000ae 256px,#0000ef 302px,#0000f4 336px,#0000d3 366px,#0000a3 400px,#000098 432px)"></div><div style="height:2px;background:linear-gradient(90deg,#000096 0px,#0000a6 38px,#0000ec 90px,#0000ef 120px,#0000c9 152px,#00009f 184px,#000097 228px,#0000ad 260px,#0000eb 304px,#0000ef 336px,#0000c9 368px,#00009f 400px,#000096 432px)"></div><div style="height:2px;background:linear-gradient(90deg,#000094 0px,#0000a2 38px,#0000e7 92px,#0000e7 122px,#0000b9 158px,#000099 190px,#000099 240px,#0000bb 274px,#0000e6 306px,#0000e9 336px,#0000bc 372px,#00009b 402px,#000094 432px)"></div><div style="height:2px;background:linear-gradient(90deg,#000092 0px,#0000a1 42px,#0000e2 94px,#0000e1 122px,#00009a 182px,#000093 230px,#0000aa 266px,#0000e1 308px,#0000e1 338px,#00009b 396px,#000092 432px)"></div><div style="height:2px;background:linear-gradient(90deg,#000091 0px,#00009f 44px,#0000db 94px,#0000da 122px,#000098 180px,#000092 234px,#0000aa 270px,#0000dd 312px,#0000d9 340px,#000099 394px,#000091 432px)"></div><div style="height:2px;background:linear-gradient(90deg,#00008f 0px,#00009d 46px,#0000d5 96px,#0000d3 122px,#000098 176px,#000090 232px,#0000a5 270px,#0000d7 314px,#0000d0 342px,#000098 392px,#00008f 432px)"></div><div style="height:2px;background:linear-gradient(90deg,#00008e 0px,#00009d 50px,#0000cf 98px,#0000cb 124px,#000097 174px,#00008f 232px,#0000a3 272px,#0000cf 314px,#0000ca 340px,#000095 392px,#00008e 432px)"></div><div style="height:2px;background:linear-gradient(90deg,#00008e 0px,#00009a 50px,#0000ca 102px,#0000be 130px,#000093 176px,#000093 254px,#0000c0 302px,#0000c9 330px,#000093 392px,#00008e 432px)"></div><div style="height:4px;background:linear-gradient(90deg,#00008d 0px,#000097 52px,#0000c0 104px,#0000af 136px,#000090 178px,#000093 260px,#0000c0 320px,#0000af 352px,#000090 394px,#00008d 432px)"></div><div style="height:4px;background:linear-gradient(90deg,#00008c 0px,#000098 62px,#0000b4 108px,#00008e 180px,#000093 268px,#0000b4 324px,#00008e 396px,#00008c 432px)"></div><div style="height:4px;background:linear-gradient(90deg,#00008c 0px,#000096 66px,#0000a9 110px,#00008d 180px,#000093 276px,#0000a9 326px,#00008d 396px,#00008c 432px)"></div><div style="height:4px;background:linear-gradient(90deg,#00008c 0px,#000095 74px,#00009f 116px,#00008c 186px,#000093 286px,#00009f 332px,#00008c 402px,#00008c 432px)"></div><div style="height:4px;background:linear-gradient(90deg,#00008c 0px,#000095 86px,#000094 132px,#00008c 228px,#000096 304px,#000093 352px,#00008c 432px)"></div><div style="height:4px;background:linear-gradient(90deg,#00008b 0px,#000091 132px,#00008e 286px,#000091 348px,#00008b 432px)"></div><div style="height:4px;background:linear-gradient(90deg,#00008b 0px,#00008d 150px,#00008c 400px,#00008b 432px)"></div><div style="height:4px;background:linear-gradient(90deg,#00008b 0px,#00008b 432px)"></div><div style="height:4px;background:linear-gradient(90deg,#00008b 0px,#00008b 432px)"></div><div style="height:4px;background:linear-gradient(90deg,#00008b 0px,#00008b 432px)"></div><div style="height:4px;background:linear-gradient(90deg,#00008b 0px,#00008b 432px)"></div><div style="height:4px;background:linear-gradient(90deg,#00008b 0px,#00008b 432px)"></div><div style="height:4px;background:linear-gradient(90deg,#00008b 0px,#00008b 432px)"></div><div style="height:4px;background:linear-gradient(90deg,#00008b 0px,#00008b 432px)"></div><div style="height:4px;background:linear-gradient(90deg,#00008b 0px,#00008b 432px)"></div><div style="height:3px;background:linear-gradient(90deg,#00008b 0px,#00008b 432px)"></div></div><div style="position:absolute;left:773px;top:321px;width:2px;height:433px;background:#c8c8f4"></div><svg width="1413" height="1144" viewBox="0 0 1413 1144"><g fill="none" stroke="#ffffe8" stroke-width="1.6"><path d="M365.1 638.5 L365.2 638.0 L365.2 637.5 L365.3 637.0 L365.4 636.5 L365.5 636.0 L365.6 635.5 L365.6 635.0 L365.7 634.5 L365.8 634.0 L365.9 633.5 L366.0 633.0 L366.0 632.5 L366.1 632.0 L366.2 631.5 L366.3 631.0 L366.4 630.5 L366.4 630.0 L366.5 629.5 L366.6 629.0 L366.7 628.5 L366.8 628.0 L366.9 627.5 L366.9 627.0 L367.0 626.5 L367.1 626.0 L367.2 625.5 L367.3 625.0 L367.4 624.5 L367.4 624.0 L367.5 623.5 L367.6 623.0 L367.7 622.5 L367.8 622.0 L367.9 621.5 L367.9 621.0 L368.0 620.5 L368.1 620.0 L368.2 619.5 L368.3 619.0 L368.4 618.5 L368.5 618.0 L368.6 617.5 L368.6 617.0 L368.7 616.5 L368.8 616.0 L368.9 615.5 L369.0 615.0 L369.1 614.5 L369.2 614.0 L369.3 613.5 L369.4 613.0 L369.5 612.5 L369.5 612.0 L369.6 611.5 L369.7 611.0 L369.8 610.5 L369.9 610.0 L370.0 609.5 L370.1 609.0 L370.2 608.5 L370.3 608.0 L370.4 607.5 L370.5 607.0 L370.6 606.5 L370.7 606.0 L370.8 605.5 L370.9 605.0 L371.0 604.5 L371.1 604.0 L371.2 603.5 L371.3 603.0 L371.4 602.5 L371.5 602.0 L371.6 601.5 L371.7 601.0 L371.8 600.5 L371.9 600.0 L372.0 599.5 L372.1 599.0 L372.2 598.5 L372.3 598.0 L372.4 597.5 L372.5 597.0 L372.6 596.5 L372.7 596.0 L372.8 595.5 L372.9 595.0 L373.0 594.5 L373.1 594.0 L373.2 593.5 L373.3 593.0 L373.4 592.5 L373.5 592.0 L373.6 591.5 L373.8 591.0 L373.9 590.5 L374.0 590.0 L374.1 589.5 L374.2 589.0 L374.3 588.5 L374.4 588.0 L374.5 587.5 L374.7 587.0 L374.8 586.5 L374.9 586.0 L375.0 585.5 L375.1 585.0 L375.2 584.5 L375.4 584.0 L375.5 583.5 L375.6 583.0 L375.7 582.5 L375.9 582.0 L376.0 581.5 L376.1 581.0 L376.2 580.5 L376.4 580.0 L376.5 579.5 L376.6 579.0 L376.7 578.5 L376.9 578.0 L377.0 577.5 L377.1 577.0 L377.3 576.5 L377.4 576.0 L377.5 575.5 L377.7 575.0 L377.8 574.5 L377.9 574.0 L378.1 573.5 L378.2 573.0 L378.4 572.5 L378.5 572.0 L378.7 571.5 L378.8 571.0 L379.0 570.5 L379.1 570.0 L379.3 569.5 L379.4 569.0 L379.6 568.5 L379.7 568.0 L379.9 567.5 L380.0 567.0 L380.2 566.5 L380.4 566.0 L380.5 565.5 L380.7 565.0 L380.9 564.5 L381.0 564.0 L381.2 563.5 L381.4 563.0 L381.6 562.5 L381.7 562.0 L381.9 561.5 L382.1 561.0 L382.3 560.5 L382.5 560.0 L382.7 559.5 L382.9 559.0 L383.1 558.5 L383.3 558.0 L383.5 557.5 L383.7 557.0 L383.9 556.5 L384.2 556.0 L384.4 555.5 L384.6 555.0 L384.9 554.5 L385.1 554.0 L385.4 553.5 L385.6 553.0 L385.9 552.5 L386.2 552.0 L386.5 551.5 L386.8 551.0 L387.1 550.5 L387.4 550.0 L387.7 549.5 L388.1 549.0 L388.5 548.5 L388.9 548.0 L389.4 547.5 L389.9 547.0 L390.4 546.5 L391.1 546.0 L392.0 545.5 L394.1 545.0 L396.2 545.5 L397.0 546.0 L397.7 546.5 L398.3 547.0 L398.8 547.5 L399.2 548.0 L399.6 548.5 L400.0 549.0 L400.4 549.5 L400.7 550.0 L401.0 550.5 L401.3 551.0 L401.6 551.5 L401.9 552.0 L402.2 552.5 L402.4 553.0 L402.7 553.5 L402.9 554.0 L403.2 554.5 L403.4 555.0 L403.7 555.5 L403.9 556.0 L404.1 556.5 L404.3 557.0 L404.5 557.5 L404.7 558.0 L404.9 558.5 L405.1 559.0 L405.3 559.5 L405.5 560.0 L405.7 560.5 L405.9 561.0 L406.1 561.5 L406.3 562.0 L406.4 562.5 L406.6 563.0 L406.8 563.5 L407.0 564.0 L407.1 564.5 L407.3 565.0 L407.5 565.5 L407.6 566.0 L407.8 566.5 L407.9 567.0 L408.1 567.5 L408.2 568.0 L408.4 568.5 L408.5 569.0 L408.7 569.5 L408.8 570.0 L409.0 570.5 L409.1 571.0 L409.3 571.5 L409.4 572.0 L409.5 572.5 L409.7 573.0 L409.8 573.5 L410.0 574.0 L410.1 574.5 L410.2 575.0 L410.4 575.5 L410.5 576.0 L410.6 576.5 L410.7 577.0 L410.9 577.5 L411.0 578.0 L411.1 578.5 L411.2 579.0 L411.4 579.5 L411.5 580.0 L411.6 580.5 L411.7 581.0 L411.8 581.5 L412.0 582.0 L412.1 582.5 L412.2 583.0 L412.3 583.5 L412.4 584.0 L412.5 584.5 L412.6 585.0 L412.7 585.5 L412.9 586.0 L413.0 586.5 L413.1 587.0 L413.2 587.5 L413.3 588.0 L413.4 588.5 L413.5 589.0 L413.6 589.5 L413.7 590.0 L413.8 590.5 L413.9 591.0 L414.0 591.5 L414.1 592.0 L414.2 592.5 L414.3 593.0 L414.4 593.5 L414.5 594.0 L414.6 594.5 L414.7 595.0 L414.7 595.5 L414.8 596.0 L414.9 596.5 L415.0 597.0 L415.1 597.5 L415.2 598.0 L415.3 598.5 L415.4 599.0 L415.4 599.5 L415.5 600.0 L415.6 600.5 L415.7 601.0 L415.8 601.5 L415.8 602.0 L415.9 602.5 L416.0 603.0 L416.1 603.5 L416.1 604.0 L416.2 604.5 L416.3 605.0 L416.4 605.5 L416.4 606.0 L416.5 606.5 L416.6 607.0 L416.6 607.5 L416.7 608.0 L416.8 608.5 L416.9 609.0 L416.9 609.5 L417.0 610.0 L417.0 610.5 L417.1 611.0 L417.2 611.5 L417.2 612.0 L417.3 612.5 L417.4 613.0 L417.4 613.5 L417.5 614.0 L417.5 614.5 L417.6 615.0 L417.6 615.5 L417.7 616.0 L417.8 616.5 L417.8 617.0 L417.9 617.5 L417.9 618.0 L418.0 618.5 L418.0 619.0 L418.1 619.5 L418.1 620.0 L418.2 620.5 L418.2 621.0 L418.3 621.5 L418.3 622.0 L418.3 622.5 L418.4 623.0 L418.4 623.5 L418.5 624.0 L418.5 624.5 L418.6 625.0 L418.6 625.5 L418.6 626.0 L418.7 626.5 L418.7 627.0 L418.8 627.5 L418.8 628.0 L418.8 628.5 L418.9 629.0 L418.9 629.5 L418.9 630.0 L419.0 630.5 L419.0 631.0 L419.1 631.5 L419.1 632.0 L419.1 632.5 L419.2 633.0 L419.2 633.5 L419.2 634.0 L419.2 634.5 L419.3 635.0 L419.3 635.5 L419.3 636.0 L419.4 636.5 L419.4 637.0 L419.4 637.5 L419.4 638.0 L419.5 638.5 L419.5 639.0 L419.5 639.5 L419.6 640.0 L419.6 640.5 L419.6 641.0 L419.6 641.5 L419.6 642.0 L419.7 642.5 L419.7 643.0 L419.7 643.5 L419.7 644.0 L419.8 644.5 L419.8 645.0 L419.8 645.5 L419.8 646.0 L419.8 646.5 L419.9 647.0 L419.9 647.5 L419.9 648.0 L419.9 648.5 L419.9 649.0 L420.0 649.5 L420.0 650.0 L420.0 650.5 L420.0 651.0 L420.0 651.5 L420.0 652.0 L420.1 652.5 L420.1 653.0 L420.1 653.5 L420.1 654.0 L420.1 654.5 L420.1 655.0 L420.2 655.5 L420.2 656.0 L420.2 656.5 L420.2 657.0 L420.2 657.5 L420.2 658.0 L420.2 658.5 L420.3 659.0 L420.3 659.5 L420.3 660.0 L420.3 660.5 L420.3 661.0 L420.3 661.5 L420.3 662.0 L420.3 662.5 L420.3 662.8 L418.4 662.1 L416.5 661.4 L414.6 660.6 L412.7 659.8 L410.8 659.0 L408.9 658.1 L407.0 657.3 L405.1 656.4 L403.2 655.5 L401.3 654.6 L399.4 653.6 L397.5 652.7 L395.6 651.8 L393.7 650.9 L391.8 649.9 L389.9 649.0 L388.0 648.1 L386.0 647.2 L384.1 646.3 L382.2 645.4 L380.3 644.5 L378.4 643.7 L376.5 642.8 L374.6 642.1 L372.7 641.3 L370.8 640.6 L368.9 639.9 L367.0 639.2 L365.1 638.6Z"/><path d="M479.2 661.5 L479.2 661.0 L479.2 660.5 L479.2 660.0 L479.2 659.5 L479.2 659.0 L479.3 658.5 L479.3 658.0 L479.3 657.5 L479.3 657.0 L479.3 656.5 L479.3 656.0 L479.3 655.5 L479.4 655.0 L479.4 654.5 L479.4 654.0 L479.4 653.5 L479.4 653.0 L479.4 652.5 L479.5 652.0 L479.5 651.5 L479.5 651.0 L479.5 650.5 L479.5 650.0 L479.5 649.5 L479.6 649.0 L479.6 648.5 L479.6 648.0 L479.6 647.5 L479.6 647.0 L479.7 646.5 L479.7 646.0 L479.7 645.5 L479.7 645.0 L479.7 644.5 L479.8 644.0 L479.8 643.5 L479.8 643.0 L479.8 642.5 L479.9 642.0 L479.9 641.5 L479.9 641.0 L479.9 640.5 L479.9 640.0 L480.0 639.5 L480.0 639.0 L480.0 638.5 L480.1 638.0 L480.1 637.5 L480.1 637.0 L480.1 636.5 L480.2 636.0 L480.2 635.5 L480.2 635.0 L480.3 634.5 L480.3 634.0 L480.3 633.5 L480.3 633.0 L480.4 632.5 L480.4 632.0 L480.4 631.5 L480.5 631.0 L480.5 630.5 L480.6 630.0 L480.6 629.5 L480.6 629.0 L480.7 628.5 L480.7 628.0 L480.7 627.5 L480.8 627.0 L480.8 626.5 L480.9 626.0 L480.9 625.5 L480.9 625.0 L481.0 624.5 L481.0 624.0 L481.1 623.5 L481.1 623.0 L481.2 622.5 L481.2 622.0 L481.2 621.5 L481.3 621.0 L481.3 620.5 L481.4 620.0 L481.4 619.5 L481.5 619.0 L481.5 618.5 L481.6 618.0 L481.6 617.5 L481.7 617.0 L481.7 616.5 L481.8 616.0 L481.9 615.5 L481.9 615.0 L482.0 614.5 L482.0 614.0 L482.1 613.5 L482.1 613.0 L482.2 612.5 L482.3 612.0 L482.3 611.5 L482.4 611.0 L482.5 610.5 L482.5 610.0 L482.6 609.5 L482.6 609.0 L482.7 608.5 L482.8 608.0 L482.9 607.5 L482.9 607.0 L483.0 606.5 L483.1 606.0 L483.1 605.5 L483.2 605.0 L483.3 604.5 L483.4 604.0 L483.4 603.5 L483.5 603.0 L483.6 602.5 L483.7 602.0 L483.7 601.5 L483.8 601.0 L483.9 600.5 L484.0 600.0 L484.1 599.5 L484.1 599.0 L484.2 598.5 L484.3 598.0 L484.4 597.5 L484.5 597.0 L484.6 596.5 L484.7 596.0 L484.8 595.5 L484.8 595.0 L484.9 594.5 L485.0 594.0 L485.1 593.5 L485.2 593.0 L485.3 592.5 L485.4 592.0 L485.5 591.5 L485.6 591.0 L485.7 590.5 L485.8 590.0 L485.9 589.5 L486.0 589.0 L486.1 588.5 L486.2 588.0 L486.3 587.5 L486.4 587.0 L486.5 586.5 L486.6 586.0 L486.8 585.5 L486.9 585.0 L487.0 584.5 L487.1 584.0 L487.2 583.5 L487.3 583.0 L487.4 582.5 L487.5 582.0 L487.7 581.5 L487.8 581.0 L487.9 580.5 L488.0 580.0 L488.1 579.5 L488.3 579.0 L488.4 578.5 L488.5 578.0 L488.6 577.5 L488.8 577.0 L488.9 576.5 L489.0 576.0 L489.1 575.5 L489.3 575.0 L489.4 574.5 L489.5 574.0 L489.7 573.5 L489.8 573.0 L490.0 572.5 L490.1 572.0 L490.2 571.5 L490.4 571.0 L490.5 570.5 L490.7 570.0 L490.8 569.5 L491.0 569.0 L491.1 568.5 L491.3 568.0 L491.4 567.5 L491.6 567.0 L491.7 566.5 L491.9 566.0 L492.0 565.5 L492.2 565.0 L492.4 564.5 L492.5 564.0 L492.7 563.5 L492.9 563.0 L493.1 562.5 L493.2 562.0 L493.4 561.5 L493.6 561.0 L493.8 560.5 L494.0 560.0 L494.2 559.5 L494.4 559.0 L494.6 558.5 L494.8 558.0 L495.0 557.5 L495.2 557.0 L495.4 556.5 L495.6 556.0 L495.8 555.5 L496.1 555.0 L496.3 554.5 L496.6 554.0 L496.8 553.5 L497.1 553.0 L497.3 552.5 L497.6 552.0 L497.9 551.5 L498.2 551.0 L498.5 550.5 L498.8 550.0 L499.1 549.5 L499.5 549.0 L499.9 548.5 L500.3 548.0 L500.7 547.5 L501.2 547.0 L501.8 546.5 L502.5 546.0 L503.3 545.5 L505.4 545.0 L507.5 545.5 L508.4 546.0 L509.1 546.5 L509.6 547.0 L510.1 547.5 L510.6 548.0 L511.0 548.5 L511.4 549.0 L511.8 549.5 L512.1 550.0 L512.4 550.5 L512.7 551.0 L513.0 551.5 L513.3 552.0 L513.6 552.5 L513.9 553.0 L514.1 553.5 L514.4 554.0 L514.6 554.5 L514.9 555.0 L515.1 555.5 L515.3 556.0 L515.6 556.5 L515.8 557.0 L516.0 557.5 L516.2 558.0 L516.4 558.5 L516.6 559.0 L516.8 559.5 L517.0 560.0 L517.2 560.5 L517.4 561.0 L517.6 561.5 L517.8 562.0 L517.9 562.5 L518.1 563.0 L518.3 563.5 L518.5 564.0 L518.6 564.5 L518.8 565.0 L519.0 565.5 L519.1 566.0 L519.3 566.5 L519.5 567.0 L519.6 567.5 L519.8 568.0 L519.9 568.5 L520.1 569.0 L520.2 569.5 L520.4 570.0 L520.5 570.5 L520.7 571.0 L520.8 571.5 L521.0 572.0 L521.1 572.5 L521.3 573.0 L521.4 573.5 L521.6 574.0 L521.7 574.5 L521.8 575.0 L522.0 575.5 L522.1 576.0 L522.2 576.5 L522.4 577.0 L522.5 577.5 L522.6 578.0 L522.8 578.5 L522.9 579.0 L523.0 579.5 L523.1 580.0 L523.3 580.5 L523.4 581.0 L523.5 581.5 L523.6 582.0 L523.8 582.5 L523.9 583.0 L524.0 583.5 L524.1 584.0 L524.3 584.5 L524.4 585.0 L524.5 585.5 L524.6 586.0 L524.7 586.5 L524.8 587.0 L525.0 587.5 L525.1 588.0 L525.2 588.5 L525.3 589.0 L525.4 589.5 L525.5 590.0 L525.6 590.5 L525.7 591.0 L525.9 591.5 L526.0 592.0 L526.1 592.5 L526.2 593.0 L526.3 593.5 L526.4 594.0 L526.5 594.5 L526.6 595.0 L526.7 595.5 L526.8 596.0 L526.9 596.5 L527.0 597.0 L527.1 597.5 L527.2 598.0 L527.3 598.5 L527.4 599.0 L527.5 599.5 L527.6 600.0 L527.7 600.5 L527.8 601.0 L527.9 601.5 L528.0 602.0 L528.1 602.5 L528.2 603.0 L528.3 603.5 L528.4 604.0 L528.5 604.5 L528.6 605.0 L528.7 605.5 L528.8 606.0 L528.9 606.5 L529.0 607.0 L529.1 607.5 L529.2 608.0 L529.3 608.5 L529.4 609.0 L529.5 609.5 L529.6 610.0 L529.7 610.5 L529.8 611.0 L529.9 611.5 L530.0 612.0 L530.0 612.5 L530.1 613.0 L530.2 613.5 L530.3 614.0 L530.4 614.5 L530.5 615.0 L530.6 615.5 L530.7 616.0 L530.8 616.5 L530.9 617.0 L530.9 617.5 L531.0 618.0 L531.1 618.5 L531.2 619.0 L531.3 619.5 L531.4 620.0 L531.5 620.5 L531.6 621.0 L531.6 621.5 L531.7 622.0 L531.8 622.5 L531.9 623.0 L532.0 623.5 L532.1 624.0 L532.1 624.5 L532.2 625.0 L532.3 625.5 L532.4 626.0 L532.5 626.5 L532.6 627.0 L532.6 627.5 L532.7 628.0 L532.8 628.5 L532.9 629.0 L533.0 629.5 L533.1 630.0 L533.1 630.5 L533.2 631.0 L533.3 631.5 L533.4 632.0 L533.5 632.5 L533.5 633.0 L533.6 633.5 L533.7 634.0 L533.8 634.5 L533.9 635.0 L533.9 635.5 L534.0 636.0 L534.1 636.5 L534.2 637.0 L534.3 637.5 L534.3 637.9 L532.4 638.5 L530.5 639.1 L528.6 639.8 L526.7 640.5 L524.8 641.2 L522.9 642.0 L521.0 642.8 L519.1 643.6 L517.2 644.4 L515.3 645.3 L513.4 646.2 L511.5 647.0 L509.6 648.0 L507.7 648.9 L505.8 649.8 L503.9 650.7 L502.0 651.7 L500.1 652.6 L498.2 653.5 L496.3 654.4 L494.4 655.3 L492.5 656.2 L490.6 657.1 L488.7 658.0 L486.8 658.8 L484.9 659.7 L483.0 660.5 L481.1 661.2 L479.2 662.0Z"/><path d="M578.9 637.5 L579.0 637.0 L579.1 636.5 L579.2 636.0 L579.3 635.5 L579.3 635.0 L579.4 634.5 L579.5 634.0 L579.6 633.5 L579.7 633.0 L579.7 632.5 L579.8 632.0 L579.9 631.5 L580.0 631.0 L580.1 630.5 L580.1 630.0 L580.2 629.5 L580.3 629.0 L580.4 628.5 L580.5 628.0 L580.6 627.5 L580.6 627.0 L580.7 626.5 L580.8 626.0 L580.9 625.5 L581.0 625.0 L581.1 624.5 L581.1 624.0 L581.2 623.5 L581.3 623.0 L581.4 622.5 L581.5 622.0 L581.6 621.5 L581.6 621.0 L581.7 620.5 L581.8 620.0 L581.9 619.5 L582.0 619.0 L582.1 618.5 L582.2 618.0 L582.3 617.5 L582.3 617.0 L582.4 616.5 L582.5 616.0 L582.6 615.5 L582.7 615.0 L582.8 614.5 L582.9 614.0 L583.0 613.5 L583.1 613.0 L583.2 612.5 L583.2 612.0 L583.3 611.5 L583.4 611.0 L583.5 610.5 L583.6 610.0 L583.7 609.5 L583.8 609.0 L583.9 608.5 L584.0 608.0 L584.1 607.5 L584.2 607.0 L584.3 606.5 L584.4 606.0 L584.5 605.5 L584.6 605.0 L584.7 604.5 L584.8 604.0 L584.9 603.5 L585.0 603.0 L585.1 602.5 L585.2 602.0 L585.3 601.5 L585.4 601.0 L585.5 600.5 L585.6 600.0 L585.7 599.5 L585.8 599.0 L585.9 598.5 L586.0 598.0 L586.1 597.5 L586.2 597.0 L586.3 596.5 L586.4 596.0 L586.5 595.5 L586.6 595.0 L586.7 594.5 L586.8 594.0 L586.9 593.5 L587.0 593.0 L587.1 592.5 L587.2 592.0 L587.3 591.5 L587.5 591.0 L587.6 590.5 L587.7 590.0 L587.8 589.5 L587.9 589.0 L588.0 588.5 L588.1 588.0 L588.2 587.5 L588.4 587.0 L588.5 586.5 L588.6 586.0 L588.7 585.5 L588.8 585.0 L588.9 584.5 L589.1 584.0 L589.2 583.5 L589.3 583.0 L589.4 582.5 L589.6 582.0 L589.7 581.5 L589.8 581.0 L589.9 580.5 L590.1 580.0 L590.2 579.5 L590.3 579.0 L590.4 578.5 L590.6 578.0 L590.7 577.5 L590.8 577.0 L591.0 576.5 L591.1 576.0 L591.2 575.5 L591.4 575.0 L591.5 574.5 L591.6 574.0 L591.8 573.5 L591.9 573.0 L592.1 572.5 L592.2 572.0 L592.4 571.5 L592.5 571.0 L592.7 570.5 L592.8 570.0 L593.0 569.5 L593.1 569.0 L593.3 568.5 L593.4 568.0 L593.6 567.5 L593.7 567.0 L593.9 566.5 L594.1 566.0 L594.2 565.5 L594.4 565.0 L594.6 564.5 L594.7 564.0 L594.9 563.5 L595.1 563.0 L595.3 562.5 L595.4 562.0 L595.6 561.5 L595.8 561.0 L596.0 560.5 L596.2 560.0 L596.4 559.5 L596.6 559.0 L596.8 558.5 L597.0 558.0 L597.2 557.5 L597.4 557.0 L597.6 556.5 L597.9 556.0 L598.1 555.5 L598.3 555.0 L598.6 554.5 L598.8 554.0 L599.1 553.5 L599.3 553.0 L599.6 552.5 L599.9 552.0 L600.2 551.5 L600.5 551.0 L600.8 550.5 L601.1 550.0 L601.4 549.5 L601.8 549.0 L602.2 548.5 L602.6 548.0 L603.1 547.5 L603.6 547.0 L604.1 546.5 L604.8 546.0 L605.7 545.5 L607.8 545.0 L609.9 545.5 L610.7 546.0 L611.4 546.5 L612.0 547.0 L612.5 547.5 L612.9 548.0 L613.3 548.5 L613.7 549.0 L614.1 549.5 L614.4 550.0 L614.7 550.5 L615.0 551.0 L615.3 551.5 L615.6 552.0 L615.9 552.5 L616.1 553.0 L616.4 553.5 L616.6 554.0 L616.9 554.5 L617.1 555.0 L617.4 555.5 L617.6 556.0 L617.8 556.5 L618.0 557.0 L618.2 557.5 L618.4 558.0 L618.6 558.5 L618.8 559.0 L619.0 559.5 L619.2 560.0 L619.4 560.5 L619.6 561.0 L619.8 561.5 L620.0 562.0 L620.1 562.5 L620.3 563.0 L620.5 563.5 L620.7 564.0 L620.8 564.5 L621.0 565.0 L621.2 565.5 L621.3 566.0 L621.5 566.5 L621.6 567.0 L621.8 567.5 L621.9 568.0 L622.1 568.5 L622.2 569.0 L622.4 569.5 L622.5 570.0 L622.7 570.5 L622.8 571.0 L623.0 571.5 L623.1 572.0 L623.2 572.5 L623.4 573.0 L623.5 573.5 L623.7 574.0 L623.8 574.5 L623.9 575.0 L624.1 575.5 L624.2 576.0 L624.3 576.5 L624.4 577.0 L624.6 577.5 L624.7 578.0 L624.8 578.5 L624.9 579.0 L625.1 579.5 L625.2 580.0 L625.3 580.5 L625.4 581.0 L625.5 581.5 L625.7 582.0 L625.8 582.5 L625.9 583.0 L626.0 583.5 L626.1 584.0 L626.2 584.5 L626.3 585.0 L626.4 585.5 L626.6 586.0 L626.7 586.5 L626.8 587.0 L626.9 587.5 L627.0 588.0 L627.1 588.5 L627.2 589.0 L627.3 589.5 L627.4 590.0 L627.5 590.5 L627.6 591.0 L627.7 591.5 L627.8 592.0 L627.9 592.5 L628.0 593.0 L628.1 593.5 L628.2 594.0 L628.3 594.5 L628.4 595.0 L628.4 595.5 L628.5 596.0 L628.6 596.5 L628.7 597.0 L628.8 597.5 L628.9 598.0 L629.0 598.5 L629.1 599.0 L629.1 599.5 L629.2 600.0 L629.3 600.5 L629.4 601.0 L629.5 601.5 L629.5 602.0 L629.6 602.5 L629.7 603.0 L629.8 603.5 L629.8 604.0 L629.9 604.5 L630.0 605.0 L630.1 605.5 L630.1 606.0 L630.2 606.5 L630.3 607.0 L630.3 607.5 L630.4 608.0 L630.5 608.5 L630.6 609.0 L630.6 609.5 L630.7 610.0 L630.7 610.5 L630.8 611.0 L630.9 611.5 L630.9 612.0 L631.0 612.5 L631.1 613.0 L631.1 613.5 L631.2 614.0 L631.2 614.5 L631.3 615.0 L631.3 615.5 L631.4 616.0 L631.5 616.5 L631.5 617.0 L631.6 617.5 L631.6 618.0 L631.7 618.5 L631.7 619.0 L631.8 619.5 L631.8 620.0 L631.9 620.5 L631.9 621.0 L632.0 621.5 L632.0 622.0 L632.0 622.5 L632.1 623.0 L632.1 623.5 L632.2 624.0 L632.2 624.5 L632.3 625.0 L632.3 625.5 L632.3 626.0 L632.4 626.5 L632.4 627.0 L632.5 627.5 L632.5 628.0 L632.5 628.5 L632.6 629.0 L632.6 629.5 L632.6 630.0 L632.7 630.5 L632.7 631.0 L632.8 631.5 L632.8 632.0 L632.8 632.5 L632.9 633.0 L632.9 633.5 L632.9 634.0 L632.9 634.5 L633.0 635.0 L633.0 635.5 L633.0 636.0 L633.1 636.5 L633.1 637.0 L633.1 637.5 L633.1 638.0 L633.2 638.5 L633.2 639.0 L633.2 639.5 L633.3 640.0 L633.3 640.5 L633.3 641.0 L633.3 641.5 L633.3 642.0 L633.4 642.5 L633.4 643.0 L633.4 643.5 L633.4 644.0 L633.5 644.5 L633.5 645.0 L633.5 645.5 L633.5 646.0 L633.5 646.5 L633.6 647.0 L633.6 647.5 L633.6 648.0 L633.6 648.5 L633.6 649.0 L633.7 649.5 L633.7 650.0 L633.7 650.5 L633.7 651.0 L633.7 651.5 L633.7 652.0 L633.8 652.5 L633.8 653.0 L633.8 653.5 L633.8 654.0 L633.8 654.5 L633.8 655.0 L633.9 655.5 L633.9 656.0 L633.9 656.5 L633.9 657.0 L633.9 657.5 L633.9 658.0 L633.9 658.5 L634.0 659.0 L634.0 659.5 L634.0 660.0 L634.0 660.5 L634.0 661.0 L634.0 661.5 L634.0 662.0 L632.1 661.2 L630.2 660.5 L628.3 659.7 L626.4 658.8 L624.5 658.0 L622.6 657.1 L620.7 656.2 L618.8 655.3 L616.9 654.4 L615.0 653.5 L613.1 652.6 L611.2 651.7 L609.3 650.7 L607.4 649.8 L605.5 648.9 L603.6 648.0 L601.7 647.0 L599.8 646.2 L597.9 645.3 L596.0 644.4 L594.1 643.6 L592.2 642.8 L590.3 642.0 L588.4 641.2 L586.5 640.5 L584.6 639.8 L582.7 639.1 L580.8 638.5 L578.9 637.9Z"/><path d="M692.9 662.5 L692.9 662.0 L692.9 661.5 L692.9 661.0 L692.9 660.5 L692.9 660.0 L692.9 659.5 L692.9 659.0 L693.0 658.5 L693.0 658.0 L693.0 657.5 L693.0 657.0 L693.0 656.5 L693.0 656.0 L693.0 655.5 L693.1 655.0 L693.1 654.5 L693.1 654.0 L693.1 653.5 L693.1 653.0 L693.1 652.5 L693.2 652.0 L693.2 651.5 L693.2 651.0 L693.2 650.5 L693.2 650.0 L693.2 649.5 L693.3 649.0 L693.3 648.5 L693.3 648.0 L693.3 647.5 L693.3 647.0 L693.4 646.5 L693.4 646.0 L693.4 645.5 L693.4 645.0 L693.4 644.5 L693.5 644.0 L693.5 643.5 L693.5 643.0 L693.5 642.5 L693.6 642.0 L693.6 641.5 L693.6 641.0 L693.6 640.5 L693.6 640.0 L693.7 639.5 L693.7 639.0 L693.7 638.5 L693.8 638.0 L693.8 637.5 L693.8 637.0 L693.8 636.5 L693.9 636.0 L693.9 635.5 L693.9 635.0 L694.0 634.5 L694.0 634.0 L694.0 633.5 L694.0 633.0 L694.1 632.5 L694.1 632.0 L694.1 631.5 L694.2 631.0 L694.2 630.5 L694.3 630.0 L694.3 629.5 L694.3 629.0 L694.4 628.5 L694.4 628.0 L694.4 627.5 L694.5 627.0 L694.5 626.5 L694.6 626.0 L694.6 625.5 L694.6 625.0 L694.7 624.5 L694.7 624.0 L694.8 623.5 L694.8 623.0 L694.9 622.5 L694.9 622.0 L694.9 621.5 L695.0 621.0 L695.0 620.5 L695.1 620.0 L695.1 619.5 L695.2 619.0 L695.2 618.5 L695.3 618.0 L695.3 617.5 L695.4 617.0 L695.4 616.5 L695.5 616.0 L695.6 615.5 L695.6 615.0 L695.7 614.5 L695.7 614.0 L695.8 613.5 L695.8 613.0 L695.9 612.5 L696.0 612.0 L696.0 611.5 L696.1 611.0 L696.2 610.5 L696.2 610.0 L696.3 609.5 L696.3 609.0 L696.4 608.5 L696.5 608.0 L696.6 607.5 L696.6 607.0 L696.7 606.5 L696.8 606.0 L696.8 605.5 L696.9 605.0 L697.0 604.5 L697.1 604.0 L697.1 603.5 L697.2 603.0 L697.3 602.5 L697.4 602.0 L697.4 601.5 L697.5 601.0 L697.6 600.5 L697.7 600.0 L697.8 599.5 L697.8 599.0 L697.9 598.5 L698.0 598.0 L698.1 597.5 L698.2 597.0 L698.3 596.5 L698.4 596.0 L698.5 595.5 L698.5 595.0 L698.6 594.5 L698.7 594.0 L698.8 593.5 L698.9 593.0 L699.0 592.5 L699.1 592.0 L699.2 591.5 L699.3 591.0 L699.4 590.5 L699.5 590.0 L699.6 589.5 L699.7 589.0 L699.8 588.5 L699.9 588.0 L700.0 587.5 L700.1 587.0 L700.2 586.5 L700.3 586.0 L700.5 585.5 L700.6 585.0 L700.7 584.5 L700.8 584.0 L700.9 583.5 L701.0 583.0 L701.1 582.5 L701.2 582.0 L701.4 581.5 L701.5 581.0 L701.6 580.5 L701.7 580.0 L701.8 579.5 L702.0 579.0 L702.1 578.5 L702.2 578.0 L702.3 577.5 L702.5 577.0 L702.6 576.5 L702.7 576.0 L702.8 575.5 L703.0 575.0 L703.1 574.5 L703.2 574.0 L703.4 573.5 L703.5 573.0 L703.7 572.5 L703.8 572.0 L703.9 571.5 L704.1 571.0 L704.2 570.5 L704.4 570.0 L704.5 569.5 L704.7 569.0 L704.8 568.5 L705.0 568.0 L705.1 567.5 L705.3 567.0 L705.4 566.5 L705.6 566.0 L705.7 565.5 L705.9 565.0 L706.1 564.5 L706.2 564.0 L706.4 563.5 L706.6 563.0 L706.8 562.5 L706.9 562.0 L707.1 561.5 L707.3 561.0 L707.5 560.5 L707.7 560.0 L707.9 559.5 L708.1 559.0 L708.3 558.5 L708.5 558.0 L708.7 557.5 L708.9 557.0 L709.1 556.5 L709.3 556.0 L709.5 555.5 L709.8 555.0 L710.0 554.5 L710.3 554.0 L710.5 553.5 L710.8 553.0 L711.0 552.5 L711.3 552.0 L711.6 551.5 L711.9 551.0 L712.2 550.5 L712.5 550.0 L712.8 549.5 L713.2 549.0 L713.6 548.5 L714.0 548.0 L714.4 547.5 L714.9 547.0 L715.5 546.5 L716.2 546.0 L717.0 545.5 L719.1 545.0 L721.2 545.5 L722.1 546.0 L722.8 546.5 L723.3 547.0 L723.8 547.5 L724.3 548.0 L724.7 548.5 L725.1 549.0 L725.5 549.5 L725.8 550.0 L726.1 550.5 L726.4 551.0 L726.7 551.5 L727.0 552.0 L727.3 552.5 L727.6 553.0 L727.8 553.5 L728.1 554.0 L728.3 554.5 L728.6 555.0 L728.8 555.5 L729.0 556.0 L729.3 556.5 L729.5 557.0 L729.7 557.5 L729.9 558.0 L730.1 558.5 L730.3 559.0 L730.5 559.5 L730.7 560.0 L730.9 560.5 L731.1 561.0 L731.3 561.5 L731.5 562.0 L731.6 562.5 L731.8 563.0 L732.0 563.5 L732.2 564.0 L732.3 564.5 L732.5 565.0 L732.7 565.5 L732.8 566.0 L733.0 566.5 L733.2 567.0 L733.3 567.5 L733.5 568.0 L733.6 568.5 L733.8 569.0 L733.9 569.5 L734.1 570.0 L734.2 570.5 L734.4 571.0 L734.5 571.5 L734.7 572.0 L734.8 572.5 L735.0 573.0 L735.1 573.5 L735.3 574.0 L735.4 574.5 L735.5 575.0 L735.7 575.5 L735.8 576.0 L735.9 576.5 L736.1 577.0 L736.2 577.5 L736.3 578.0 L736.5 578.5 L736.6 579.0 L736.7 579.5 L736.8 580.0 L737.0 580.5 L737.1 581.0 L737.2 581.5 L737.3 582.0 L737.5 582.5 L737.6 583.0 L737.7 583.5 L737.8 584.0 L738.0 584.5 L738.1 585.0 L738.2 585.5 L738.3 586.0 L738.4 586.5 L738.5 587.0 L738.7 587.5 L738.8 588.0 L738.9 588.5 L739.0 589.0 L739.1 589.5 L739.2 590.0 L739.3 590.5 L739.4 591.0 L739.6 591.5 L739.7 592.0 L739.8 592.5 L739.9 593.0 L740.0 593.5 L740.1 594.0 L740.2 594.5 L740.3 595.0 L740.4 595.5 L740.5 596.0 L740.6 596.5 L740.7 597.0 L740.8 597.5 L740.9 598.0 L741.0 598.5 L741.1 599.0 L741.2 599.5 L741.3 600.0 L741.4 600.5 L741.5 601.0 L741.6 601.5 L741.7 602.0 L741.8 602.5 L741.9 603.0 L742.0 603.5 L742.1 604.0 L742.2 604.5 L742.3 605.0 L742.4 605.5 L742.5 606.0 L742.6 606.5 L742.7 607.0 L742.8 607.5 L742.9 608.0 L743.0 608.5 L743.1 609.0 L743.2 609.5 L743.3 610.0 L743.4 610.5 L743.5 611.0 L743.6 611.5 L743.7 612.0 L743.7 612.5 L743.8 613.0 L743.9 613.5 L744.0 614.0 L744.1 614.5 L744.2 615.0 L744.3 615.5 L744.4 616.0 L744.5 616.5 L744.6 617.0 L744.6 617.5 L744.7 618.0 L744.8 618.5 L744.9 619.0 L745.0 619.5 L745.1 620.0 L745.2 620.5 L745.3 621.0 L745.3 621.5 L745.4 622.0 L745.5 622.5 L745.6 623.0 L745.7 623.5 L745.8 624.0 L745.8 624.5 L745.9 625.0 L746.0 625.5 L746.1 626.0 L746.2 626.5 L746.3 627.0 L746.3 627.5 L746.4 628.0 L746.5 628.5 L746.6 629.0 L746.7 629.5 L746.8 630.0 L746.8 630.5 L746.9 631.0 L747.0 631.5 L747.1 632.0 L747.2 632.5 L747.2 633.0 L747.3 633.5 L747.4 634.0 L747.5 634.5 L747.6 635.0 L747.6 635.5 L747.7 636.0 L747.8 636.5 L747.9 637.0 L748.0 637.5 L748.0 638.0 L748.1 638.5 L748.1 638.6 L746.2 639.2 L744.3 639.9 L742.4 640.6 L740.5 641.3 L738.6 642.1 L736.7 642.8 L734.8 643.7 L732.9 644.5 L731.0 645.4 L729.1 646.3 L727.2 647.2 L725.2 648.1 L723.3 649.0 L721.4 649.9 L719.5 650.9 L717.6 651.8 L715.7 652.7 L713.8 653.6 L711.9 654.6 L710.0 655.5 L708.1 656.4 L706.2 657.3 L704.3 658.1 L702.4 659.0 L700.5 659.8 L698.6 660.6 L696.7 661.4 L694.8 662.1 L692.9 662.8Z"/></g><line x1="342.8" y1="321.5" x2="342.8" y2="755" stroke="#000" stroke-width="4"/><line x1="340" y1="751.8" x2="774" y2="751.8" stroke="#000" stroke-width="4.8"/><line x1="335.5" y1="752.5" x2="348" y2="752.5" stroke="#000" stroke-width="3.6"/><line x1="335.5" y1="668.0" x2="348" y2="668.0" stroke="#000" stroke-width="3.6"/><line x1="335.5" y1="583.4" x2="348" y2="583.4" stroke="#000" stroke-width="3.6"/><line x1="335.5" y1="498.9" x2="348" y2="498.9" stroke="#000" stroke-width="3.6"/><line x1="335.5" y1="414.3" x2="348" y2="414.3" stroke="#000" stroke-width="3.6"/><line x1="335.5" y1="329.8" x2="348" y2="329.8" stroke="#000" stroke-width="3.6"/><line x1="406.0" y1="746.5" x2="406.0" y2="757" stroke="#000" stroke-width="3.6"/><line x1="481.7" y1="746.5" x2="481.7" y2="757" stroke="#000" stroke-width="3.6"/><line x1="557.5" y1="746.5" x2="557.5" y2="757" stroke="#000" stroke-width="3.6"/><line x1="633.3" y1="746.5" x2="633.3" y2="757" stroke="#000" stroke-width="3.6"/><line x1="709.0" y1="746.5" x2="709.0" y2="757" stroke="#000" stroke-width="3.6"/><path d="M543.1 334.2 H620 V341.6 H551.1 V390.5 H543.1 Z" fill="#fff"/><path d="M536.9 390 L556.9 390 L547.1 410.8 Z" fill="#fff"/><path d="M619.5 327.9 L619.5 347.7 L639.6 337.6 Z" fill="#fff"/><text class="ke" x="506" y="415.7">k</text><text class="ke" x="0" y="0" transform="translate(601.2 387.9) scale(1.13 1)">E</text><text class="il" x="329.2" y="341.5" text-anchor="end">500</text><text class="il" x="329.2" y="426.0" text-anchor="end">400</text><text class="il" x="329.2" y="510.6" text-anchor="end">300</text><text class="il" x="329.2" y="595.1" text-anchor="end">200</text><text class="il" x="329.2" y="679.7" text-anchor="end">100</text><text class="il" x="329.2" y="764.2" text-anchor="end">0</text><text class="ix" x="397.2" y="785.8" text-anchor="middle">-400</text><text class="ix" x="472.9" y="785.8" text-anchor="middle">-200</text><text class="ix" x="548.7" y="785.8" text-anchor="middle">0</text><text class="ix" x="624.5" y="785.8" text-anchor="middle">200</text><text class="ix" x="700.2" y="785.8" text-anchor="middle">400</text><g transform="translate(433.5 864.5) scale(1.032 1)"><text class="it" x="0" y="0">x(m) (x10<tspan font-size="28" dy="-8.6">&#923;</tspan><tspan dy="8.6">-9)</tspan></text></g><text class="it" x="0" y="0" transform="translate(237.5 659.3) rotate(-90) scale(1.03 1)">z(m) (x10<tspan font-size="28" dy="-8.6">&#923;</tspan><tspan dy="8.6">-9)</tspan></text><text class="cl" x="858.9" y="330.2">16.5</text><text class="cl" x="858.9" y="403.3">13.8</text><text class="cl" x="883.8" y="475.5">11</text><text class="cl" x="855.4" y="548.2">8.28</text><text class="cl" x="856.6" y="620.9">5.52</text><text class="cl" x="856.1" y="692.7">2.77</text><text class="cl" x="832.6" y="764.9">0.00806</text></svg></body></html>
